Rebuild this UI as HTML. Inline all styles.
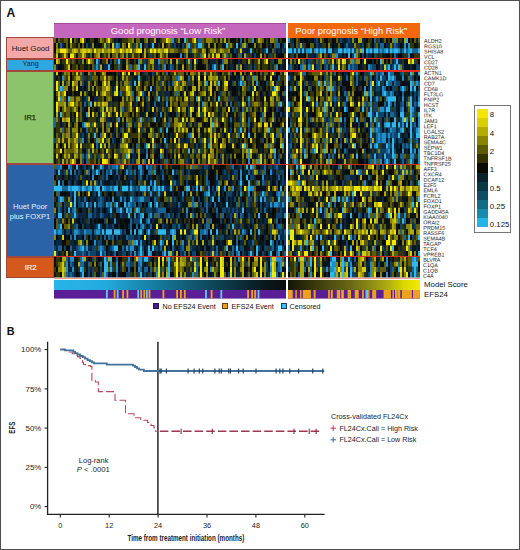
<!DOCTYPE html>
<html><head><meta charset="utf-8"><style>
*{margin:0;padding:0;box-sizing:border-box}
html,body{width:520px;height:550px;overflow:hidden;background:#fff}
body{position:relative;font-family:"Liberation Sans",sans-serif}
svg text{font-family:"Liberation Sans",sans-serif}
.frame{position:absolute;left:0;top:0;width:520px;height:550px;border:1px solid #505050}
.abs{position:absolute}
.gb{position:absolute;left:6.3px;width:48px;border:1px solid #a0483e}
.sep{position:absolute;left:54px;width:366px;background:#e8281c}
</style></head><body>
<div class="frame"></div>
<div class="abs" style="left:54px;top:23px;width:232px;height:14.6px;background:#c466bc;border-top:1px solid #a04c9c"></div>
<div class="abs" style="left:288px;top:23px;width:132px;height:14.6px;background:#f2680e"></div>
<div class="gb" style="top:37.30px;height:21.40px;background:#f3a7a6"></div>
<div class="gb" style="top:58.70px;height:11.90px;background:#2fa8e0"></div>
<div class="gb" style="top:70.60px;height:93.70px;background:#8cc46c"></div>
<div class="gb" style="top:164.30px;height:92.40px;background:#2b63a8"></div>
<div class="gb" style="top:256.70px;height:21.60px;background:#d35a1c"></div>
<svg class="abs" style="left:54px;top:38.3px;filter:blur(0.55px)" width="232" height="239.30" viewBox="0 0 116 239.30" preserveAspectRatio="none">
<rect width="116" height="239.30" fill="#181818"/>
<path fill="#f0e800" d="M8 0.00h1v5.10h-1zM14 0.00h1v5.10h-1zM27 0.00h1v5.10h-1zM56 0.00h1v5.10h-1zM70 0.00h1v5.10h-1zM37 5.10h1v5.10h-1zM3 10.20h3v5.10h-3zM20 10.20h1v5.10h-1zM29 10.20h1v5.10h-1zM33 10.20h1v5.10h-1zM38 10.20h1v5.10h-1zM42 10.20h2v5.10h-2zM48 10.20h1v5.10h-1zM50 10.20h1v5.10h-1zM56 10.20h1v5.10h-1zM8 15.30h2v5.10h-2zM75 15.30h1v5.10h-1zM6 20.40h1v5.95h-1zM17 20.40h1v5.95h-1zM70 20.40h1v5.95h-1zM106 20.40h1v5.95h-1zM34 32.30h1v5.21h-1zM37 32.30h1v5.21h-1zM109 32.30h1v5.21h-1zM72 37.51h1v5.21h-1zM75 37.51h1v5.21h-1zM108 37.51h1v5.21h-1zM1 42.71h1v5.21h-1zM25 42.71h1v5.21h-1zM86 42.71h1v5.21h-1zM1 47.92h1v5.21h-1zM31 47.92h1v5.21h-1zM36 47.92h1v5.21h-1zM100 47.92h1v5.21h-1zM111 47.92h1v5.21h-1zM5 53.12h1v5.21h-1zM31 53.12h1v5.21h-1zM43 53.12h1v5.21h-1zM99 53.12h1v5.21h-1zM109 53.12h2v5.21h-2zM2 58.33h1v5.21h-1zM72 58.33h1v5.21h-1zM1 63.53h1v5.21h-1zM9 63.53h1v5.21h-1zM81 63.53h1v5.21h-1zM94 63.53h1v5.21h-1zM1 68.74h1v5.21h-1zM41 68.74h1v5.21h-1zM62 68.74h1v5.21h-1zM68 68.74h1v5.21h-1zM72 68.74h1v5.21h-1zM75 68.74h1v5.21h-1zM87 68.74h1v5.21h-1zM105 68.74h1v5.21h-1zM11 73.94h1v5.21h-1zM24 73.94h1v5.21h-1zM31 73.94h1v5.21h-1zM77 73.94h1v5.21h-1zM64 79.15h1v5.21h-1zM84 79.15h1v5.21h-1zM100 79.15h1v5.21h-1zM20 84.36h1v5.21h-1zM31 84.36h1v5.21h-1zM105 84.36h1v5.21h-1zM42 89.56h1v5.21h-1zM11 94.77h1v5.21h-1zM25 94.77h1v5.21h-1zM35 94.77h2v5.21h-2zM61 94.77h1v5.21h-1zM87 94.77h1v5.21h-1zM94 94.77h1v5.21h-1zM109 94.77h1v5.21h-1zM24 99.97h1v5.21h-1zM49 99.97h1v5.21h-1zM60 99.97h1v5.21h-1zM75 99.97h1v5.21h-1zM80 99.97h1v5.21h-1zM109 99.97h1v5.21h-1zM11 105.18h1v5.21h-1zM19 105.18h1v5.21h-1zM23 105.18h1v5.21h-1zM36 105.18h1v5.21h-1zM47 105.18h1v5.21h-1zM65 105.18h1v5.21h-1zM83 105.18h1v5.21h-1zM94 105.18h1v5.21h-1zM3 110.38h1v5.21h-1zM53 110.38h1v5.21h-1zM98 110.38h1v5.21h-1zM30 115.59h1v5.21h-1zM37 115.59h1v5.21h-1zM9 120.79h1v5.21h-1zM24 120.79h2v5.21h-2zM16 142.31h1v5.44h-1zM58 142.31h1v5.44h-1zM71 142.31h1v5.44h-1zM82 147.74h1v5.44h-1zM95 147.74h1v5.44h-1zM8 164.05h1v5.44h-1zM108 180.35h1v5.44h-1zM51 185.79h1v5.44h-1zM63 191.22h1v5.44h-1zM65 191.22h1v5.44h-1zM70 191.22h2v5.44h-2zM45 196.66h1v5.44h-1zM87 202.09h1v5.44h-1zM0 212.96h1v5.44h-1zM52 218.40h1v5.23h-1zM54 218.40h1v5.23h-1zM61 218.40h1v5.23h-1zM73 218.40h1v5.23h-1zM83 218.40h1v5.23h-1zM94 218.40h1v5.23h-1zM103 218.40h1v5.23h-1zM52 223.62h1v5.23h-1zM61 223.62h1v5.23h-1zM73 223.62h1v5.23h-1zM76 223.62h1v5.23h-1zM83 223.62h1v5.23h-1zM103 223.62h1v5.23h-1zM109 223.62h1v5.23h-1zM52 228.85h1v5.23h-1zM61 228.85h1v5.23h-1zM70 228.85h1v5.23h-1zM73 228.85h1v5.23h-1zM83 228.85h2v5.23h-2zM88 228.85h1v5.23h-1zM100 228.85h1v5.23h-1zM103 228.85h1v5.23h-1zM109 228.85h1v5.23h-1zM52 234.07h1v5.23h-1zM61 234.07h1v5.23h-1zM73 234.07h1v5.23h-1zM83 234.07h2v5.23h-2zM103 234.07h1v5.23h-1zM109 234.07h2v5.23h-2zM114 234.07h1v5.23h-1z"/>
<path fill="#d4cc08" d="M29 5.10h1v5.10h-1zM10 10.20h1v5.10h-1zM14 10.20h2v5.10h-2zM17 10.20h1v5.10h-1zM24 10.20h1v5.10h-1zM36 10.20h1v5.10h-1zM41 10.20h1v5.10h-1zM52 10.20h1v5.10h-1zM55 10.20h1v5.10h-1zM93 10.20h1v5.10h-1zM1 15.30h1v5.10h-1zM5 15.30h1v5.10h-1zM14 15.30h1v5.10h-1zM79 15.30h1v5.10h-1zM81 15.30h2v5.10h-2zM1 20.40h1v5.95h-1zM7 26.35h1v5.95h-1zM1 32.30h1v5.21h-1zM11 32.30h1v5.21h-1zM40 32.30h1v5.21h-1zM98 32.30h1v5.21h-1zM115 32.30h1v5.21h-1zM25 37.51h1v5.21h-1zM63 37.51h1v5.21h-1zM9 42.71h1v5.21h-1zM42 42.71h1v5.21h-1zM61 42.71h1v5.21h-1zM78 42.71h1v5.21h-1zM85 42.71h1v5.21h-1zM109 42.71h1v5.21h-1zM11 47.92h1v5.21h-1zM26 47.92h1v5.21h-1zM78 47.92h1v5.21h-1zM2 53.12h1v5.21h-1zM21 53.12h1v5.21h-1zM25 53.12h1v5.21h-1zM30 53.12h1v5.21h-1zM37 53.12h1v5.21h-1zM65 53.12h1v5.21h-1zM69 53.12h1v5.21h-1zM78 53.12h1v5.21h-1zM42 58.33h1v5.21h-1zM66 58.33h1v5.21h-1zM105 58.33h1v5.21h-1zM8 63.53h1v5.21h-1zM20 63.53h1v5.21h-1zM24 63.53h1v5.21h-1zM38 63.53h1v5.21h-1zM26 68.74h1v5.21h-1zM49 68.74h1v5.21h-1zM58 68.74h1v5.21h-1zM17 73.94h1v5.21h-1zM19 73.94h1v5.21h-1zM27 73.94h1v5.21h-1zM72 73.94h1v5.21h-1zM75 73.94h1v5.21h-1zM7 79.15h1v5.21h-1zM94 79.15h1v5.21h-1zM16 84.36h1v5.21h-1zM63 84.36h1v5.21h-1zM102 84.36h1v5.21h-1zM106 84.36h1v5.21h-1zM64 89.56h1v5.21h-1zM77 89.56h1v5.21h-1zM85 89.56h1v5.21h-1zM69 94.77h1v5.21h-1zM80 94.77h1v5.21h-1zM98 99.97h1v5.21h-1zM5 105.18h1v5.21h-1zM13 105.18h1v5.21h-1zM62 105.18h1v5.21h-1zM89 105.18h1v5.21h-1zM113 105.18h1v5.21h-1zM26 110.38h1v5.21h-1zM37 110.38h1v5.21h-1zM108 110.38h1v5.21h-1zM1 115.59h1v5.21h-1zM62 115.59h1v5.21h-1zM77 115.59h1v5.21h-1zM103 115.59h1v5.21h-1zM26 120.79h1v5.21h-1zM47 120.79h1v5.21h-1zM49 120.79h1v5.21h-1zM77 120.79h1v5.21h-1zM103 120.79h1v5.21h-1zM34 126.00h1v5.44h-1zM107 147.74h1v5.44h-1zM17 153.18h1v5.44h-1zM55 153.18h1v5.44h-1zM9 180.35h1v5.44h-1zM109 191.22h2v5.44h-2zM4 196.66h1v5.44h-1zM50 202.09h1v5.44h-1zM56 202.09h1v5.44h-1zM79 202.09h1v5.44h-1zM88 202.09h1v5.44h-1zM79 212.96h1v5.44h-1zM41 218.40h1v5.23h-1zM68 218.40h1v5.23h-1zM84 218.40h1v5.23h-1zM88 218.40h1v5.23h-1zM109 218.40h2v5.23h-2zM4 223.62h1v5.23h-1zM70 223.62h1v5.23h-1zM84 223.62h1v5.23h-1zM88 223.62h1v5.23h-1zM4 228.85h1v5.23h-1zM4 234.07h1v5.23h-1zM88 234.07h1v5.23h-1zM101 234.07h1v5.23h-1z"/>
<path fill="#b0aa0c" d="M13 0.00h1v5.10h-1zM50 0.00h1v5.10h-1zM57 0.00h1v5.10h-1zM85 0.00h1v5.10h-1zM102 0.00h1v5.10h-1zM25 5.10h1v5.10h-1zM54 5.10h1v5.10h-1zM95 5.10h1v5.10h-1zM1 10.20h1v5.10h-1zM6 10.20h1v5.10h-1zM9 10.20h1v5.10h-1zM11 10.20h1v5.10h-1zM13 10.20h1v5.10h-1zM16 10.20h1v5.10h-1zM18 10.20h1v5.10h-1zM22 10.20h1v5.10h-1zM27 10.20h1v5.10h-1zM30 10.20h1v5.10h-1zM34 10.20h1v5.10h-1zM37 10.20h1v5.10h-1zM45 10.20h1v5.10h-1zM49 10.20h1v5.10h-1zM53 10.20h1v5.10h-1zM66 10.20h1v5.10h-1zM70 10.20h1v5.10h-1zM74 10.20h1v5.10h-1zM80 10.20h1v5.10h-1zM83 10.20h1v5.10h-1zM22 15.30h1v5.10h-1zM45 15.30h1v5.10h-1zM53 15.30h1v5.10h-1zM85 15.30h1v5.10h-1zM95 15.30h1v5.10h-1zM103 15.30h1v5.10h-1zM48 20.40h2v5.95h-2zM58 20.40h1v5.95h-1zM61 20.40h1v5.95h-1zM67 20.40h1v5.95h-1zM97 20.40h1v5.95h-1zM102 20.40h1v5.95h-1zM23 26.35h1v5.95h-1zM36 26.35h1v5.95h-1zM64 26.35h1v5.95h-1zM93 26.35h1v5.95h-1zM24 32.30h1v5.21h-1zM60 32.30h1v5.21h-1zM72 32.30h1v5.21h-1zM75 32.30h1v5.21h-1zM78 32.30h1v5.21h-1zM93 32.30h1v5.21h-1zM7 37.51h1v5.21h-1zM11 37.51h2v5.21h-2zM34 37.51h1v5.21h-1zM69 37.51h1v5.21h-1zM78 37.51h1v5.21h-1zM81 37.51h1v5.21h-1zM94 37.51h1v5.21h-1zM4 42.71h1v5.21h-1zM27 42.71h1v5.21h-1zM64 42.71h1v5.21h-1zM72 42.71h1v5.21h-1zM75 42.71h1v5.21h-1zM80 42.71h1v5.21h-1zM27 47.92h1v5.21h-1zM37 47.92h1v5.21h-1zM60 47.92h1v5.21h-1zM63 47.92h1v5.21h-1zM69 47.92h2v5.21h-2zM72 47.92h1v5.21h-1zM85 47.92h1v5.21h-1zM13 53.12h1v5.21h-1zM24 53.12h1v5.21h-1zM36 53.12h1v5.21h-1zM47 53.12h1v5.21h-1zM68 53.12h1v5.21h-1zM75 53.12h1v5.21h-1zM17 58.33h1v5.21h-1zM65 58.33h1v5.21h-1zM108 58.33h1v5.21h-1zM5 63.53h1v5.21h-1zM22 63.53h1v5.21h-1zM25 63.53h2v5.21h-2zM44 63.53h1v5.21h-1zM5 68.74h1v5.21h-1zM10 68.74h1v5.21h-1zM17 68.74h1v5.21h-1zM24 68.74h1v5.21h-1zM30 68.74h1v5.21h-1zM38 68.74h1v5.21h-1zM69 68.74h1v5.21h-1zM1 73.94h1v5.21h-1zM33 73.94h1v5.21h-1zM46 73.94h1v5.21h-1zM68 73.94h1v5.21h-1zM79 73.94h1v5.21h-1zM94 73.94h1v5.21h-1zM105 73.94h1v5.21h-1zM4 79.15h1v5.21h-1zM6 79.15h1v5.21h-1zM11 79.15h1v5.21h-1zM23 79.15h2v5.21h-2zM55 79.15h1v5.21h-1zM66 79.15h1v5.21h-1zM69 79.15h1v5.21h-1zM75 79.15h1v5.21h-1zM78 79.15h1v5.21h-1zM109 79.15h1v5.21h-1zM7 84.36h1v5.21h-1zM17 84.36h1v5.21h-1zM28 84.36h1v5.21h-1zM42 84.36h1v5.21h-1zM62 84.36h1v5.21h-1zM78 84.36h1v5.21h-1zM81 84.36h1v5.21h-1zM103 84.36h1v5.21h-1zM108 84.36h1v5.21h-1zM114 84.36h1v5.21h-1zM37 89.56h1v5.21h-1zM48 89.56h1v5.21h-1zM62 89.56h1v5.21h-1zM66 89.56h1v5.21h-1zM72 89.56h1v5.21h-1zM78 89.56h1v5.21h-1zM106 89.56h1v5.21h-1zM78 94.77h1v5.21h-1zM105 94.77h1v5.21h-1zM2 99.97h1v5.21h-1zM4 99.97h1v5.21h-1zM7 99.97h1v5.21h-1zM10 99.97h1v5.21h-1zM34 99.97h1v5.21h-1zM70 99.97h1v5.21h-1zM78 99.97h1v5.21h-1zM1 105.18h1v5.21h-1zM7 105.18h1v5.21h-1zM25 105.18h1v5.21h-1zM35 105.18h1v5.21h-1zM49 105.18h1v5.21h-1zM66 105.18h1v5.21h-1zM75 105.18h1v5.21h-1zM78 105.18h1v5.21h-1zM11 110.38h1v5.21h-1zM19 110.38h1v5.21h-1zM42 110.38h1v5.21h-1zM72 110.38h1v5.21h-1zM78 110.38h1v5.21h-1zM96 110.38h1v5.21h-1zM109 110.38h1v5.21h-1zM5 115.59h1v5.21h-1zM7 115.59h1v5.21h-1zM10 115.59h1v5.21h-1zM17 115.59h1v5.21h-1zM24 115.59h1v5.21h-1zM31 115.59h1v5.21h-1zM42 115.59h1v5.21h-1zM75 115.59h1v5.21h-1zM98 115.59h1v5.21h-1zM4 120.79h1v5.21h-1zM35 120.79h1v5.21h-1zM42 120.79h1v5.21h-1zM80 120.79h1v5.21h-1zM109 120.79h1v5.21h-1zM100 131.44h1v5.44h-1zM71 136.87h1v5.44h-1zM20 142.31h1v5.44h-1zM86 142.31h1v5.44h-1zM110 147.74h1v5.44h-1zM68 153.18h1v5.44h-1zM82 153.18h1v5.44h-1zM68 174.92h1v5.44h-1zM90 174.92h1v5.44h-1zM107 180.35h1v5.44h-1zM71 185.79h1v5.44h-1zM79 185.79h1v5.44h-1zM90 191.22h1v5.44h-1zM60 196.66h1v5.44h-1zM13 202.09h1v5.44h-1zM71 202.09h1v5.44h-1zM74 202.09h1v5.44h-1zM55 207.53h1v5.44h-1zM6 212.96h1v5.44h-1zM58 212.96h1v5.44h-1zM61 212.96h1v5.44h-1zM4 218.40h2v5.23h-2zM15 218.40h1v5.23h-1zM27 218.40h1v5.23h-1zM63 218.40h1v5.23h-1zM100 218.40h2v5.23h-2zM12 223.62h1v5.23h-1zM54 223.62h1v5.23h-1zM60 223.62h1v5.23h-1zM63 223.62h2v5.23h-2zM94 223.62h1v5.23h-1zM110 223.62h1v5.23h-1zM114 223.62h1v5.23h-1zM5 228.85h1v5.23h-1zM76 228.85h1v5.23h-1zM79 228.85h1v5.23h-1zM94 228.85h1v5.23h-1zM110 228.85h1v5.23h-1zM56 234.07h1v5.23h-1zM63 234.07h1v5.23h-1zM94 234.07h1v5.23h-1z"/>
<path fill="#8a860c" d="M23 0.00h1v5.10h-1zM26 0.00h1v5.10h-1zM39 0.00h1v5.10h-1zM46 0.00h1v5.10h-1zM58 0.00h1v5.10h-1zM62 0.00h1v5.10h-1zM69 0.00h1v5.10h-1zM76 0.00h3v5.10h-3zM83 0.00h1v5.10h-1zM103 0.00h1v5.10h-1zM108 0.00h2v5.10h-2zM1 5.10h1v5.10h-1zM8 5.10h1v5.10h-1zM19 5.10h1v5.10h-1zM34 5.10h1v5.10h-1zM41 5.10h1v5.10h-1zM66 5.10h1v5.10h-1zM77 5.10h1v5.10h-1zM80 5.10h1v5.10h-1zM88 5.10h1v5.10h-1zM94 5.10h1v5.10h-1zM100 5.10h1v5.10h-1zM2 10.20h1v5.10h-1zM21 10.20h1v5.10h-1zM23 10.20h1v5.10h-1zM25 10.20h2v5.10h-2zM28 10.20h1v5.10h-1zM31 10.20h2v5.10h-2zM35 10.20h1v5.10h-1zM40 10.20h1v5.10h-1zM51 10.20h1v5.10h-1zM54 10.20h1v5.10h-1zM58 10.20h2v5.10h-2zM65 10.20h1v5.10h-1zM69 10.20h1v5.10h-1zM75 10.20h1v5.10h-1zM78 10.20h2v5.10h-2zM84 10.20h1v5.10h-1zM87 10.20h1v5.10h-1zM15 15.30h1v5.10h-1zM21 15.30h1v5.10h-1zM27 15.30h1v5.10h-1zM31 15.30h1v5.10h-1zM34 15.30h1v5.10h-1zM36 15.30h1v5.10h-1zM39 15.30h1v5.10h-1zM56 15.30h1v5.10h-1zM66 15.30h1v5.10h-1zM74 15.30h1v5.10h-1zM77 15.30h1v5.10h-1zM2 20.40h1v5.95h-1zM14 20.40h1v5.95h-1zM18 20.40h1v5.95h-1zM26 20.40h1v5.95h-1zM36 20.40h1v5.95h-1zM43 20.40h1v5.95h-1zM85 20.40h2v5.95h-2zM105 20.40h1v5.95h-1zM112 20.40h2v5.95h-2zM0 26.35h1v5.95h-1zM41 26.35h1v5.95h-1zM49 26.35h1v5.95h-1zM70 26.35h1v5.95h-1zM91 26.35h1v5.95h-1zM5 32.30h1v5.21h-1zM7 32.30h1v5.21h-1zM13 32.30h1v5.21h-1zM17 32.30h1v5.21h-1zM20 32.30h1v5.21h-1zM25 32.30h1v5.21h-1zM35 32.30h1v5.21h-1zM42 32.30h1v5.21h-1zM51 32.30h1v5.21h-1zM68 32.30h2v5.21h-2zM87 32.30h1v5.21h-1zM90 32.30h1v5.21h-1zM27 37.51h1v5.21h-1zM36 37.51h1v5.21h-1zM52 37.51h1v5.21h-1zM64 37.51h1v5.21h-1zM77 37.51h1v5.21h-1zM79 37.51h2v5.21h-2zM85 37.51h1v5.21h-1zM99 37.51h1v5.21h-1zM101 37.51h1v5.21h-1zM105 37.51h1v5.21h-1zM7 42.71h1v5.21h-1zM10 42.71h2v5.21h-2zM13 42.71h1v5.21h-1zM17 42.71h1v5.21h-1zM20 42.71h1v5.21h-1zM24 42.71h1v5.21h-1zM31 42.71h1v5.21h-1zM35 42.71h2v5.21h-2zM54 42.71h1v5.21h-1zM60 42.71h1v5.21h-1zM65 42.71h1v5.21h-1zM95 42.71h1v5.21h-1zM99 42.71h1v5.21h-1zM108 42.71h1v5.21h-1zM5 47.92h2v5.21h-2zM9 47.92h1v5.21h-1zM17 47.92h1v5.21h-1zM19 47.92h1v5.21h-1zM24 47.92h2v5.21h-2zM41 47.92h1v5.21h-1zM45 47.92h1v5.21h-1zM61 47.92h1v5.21h-1zM77 47.92h1v5.21h-1zM81 47.92h1v5.21h-1zM86 47.92h1v5.21h-1zM94 47.92h1v5.21h-1zM112 47.92h1v5.21h-1zM4 53.12h1v5.21h-1zM15 53.12h1v5.21h-1zM38 53.12h1v5.21h-1zM42 53.12h1v5.21h-1zM51 53.12h1v5.21h-1zM74 53.12h1v5.21h-1zM101 53.12h1v5.21h-1zM111 53.12h1v5.21h-1zM4 58.33h1v5.21h-1zM8 58.33h2v5.21h-2zM11 58.33h2v5.21h-2zM27 58.33h1v5.21h-1zM34 58.33h1v5.21h-1zM36 58.33h1v5.21h-1zM38 58.33h1v5.21h-1zM47 58.33h1v5.21h-1zM58 58.33h1v5.21h-1zM61 58.33h1v5.21h-1zM77 58.33h1v5.21h-1zM94 58.33h1v5.21h-1zM99 58.33h1v5.21h-1zM109 58.33h1v5.21h-1zM111 58.33h1v5.21h-1zM2 63.53h3v5.21h-3zM7 63.53h1v5.21h-1zM11 63.53h1v5.21h-1zM33 63.53h2v5.21h-2zM58 63.53h1v5.21h-1zM72 63.53h1v5.21h-1zM75 63.53h1v5.21h-1zM78 63.53h1v5.21h-1zM86 63.53h1v5.21h-1zM95 63.53h1v5.21h-1zM100 63.53h2v5.21h-2zM105 63.53h1v5.21h-1zM108 63.53h2v5.21h-2zM112 63.53h1v5.21h-1zM28 68.74h1v5.21h-1zM33 68.74h1v5.21h-1zM64 68.74h2v5.21h-2zM74 68.74h1v5.21h-1zM96 68.74h1v5.21h-1zM25 73.94h1v5.21h-1zM86 73.94h1v5.21h-1zM100 73.94h1v5.21h-1zM109 73.94h1v5.21h-1zM1 79.15h1v5.21h-1zM5 79.15h1v5.21h-1zM34 79.15h1v5.21h-1zM36 79.15h1v5.21h-1zM60 79.15h2v5.21h-2zM68 79.15h1v5.21h-1zM76 79.15h1v5.21h-1zM81 79.15h1v5.21h-1zM103 79.15h1v5.21h-1zM11 84.36h1v5.21h-1zM24 84.36h1v5.21h-1zM37 84.36h2v5.21h-2zM43 84.36h1v5.21h-1zM60 84.36h2v5.21h-2zM72 84.36h2v5.21h-2zM80 84.36h1v5.21h-1zM94 84.36h1v5.21h-1zM3 89.56h1v5.21h-1zM7 89.56h1v5.21h-1zM9 89.56h3v5.21h-3zM21 89.56h1v5.21h-1zM24 89.56h1v5.21h-1zM27 89.56h1v5.21h-1zM60 89.56h1v5.21h-1zM69 89.56h1v5.21h-1zM75 89.56h1v5.21h-1zM90 89.56h1v5.21h-1zM95 89.56h1v5.21h-1zM105 89.56h1v5.21h-1zM4 94.77h1v5.21h-1zM6 94.77h2v5.21h-2zM17 94.77h1v5.21h-1zM24 94.77h1v5.21h-1zM42 94.77h1v5.21h-1zM47 94.77h2v5.21h-2zM51 94.77h1v5.21h-1zM72 94.77h1v5.21h-1zM82 94.77h1v5.21h-1zM91 94.77h1v5.21h-1zM100 94.77h1v5.21h-1zM108 94.77h1v5.21h-1zM113 94.77h1v5.21h-1zM11 99.97h1v5.21h-1zM22 99.97h1v5.21h-1zM27 99.97h1v5.21h-1zM42 99.97h1v5.21h-1zM62 99.97h1v5.21h-1zM84 99.97h1v5.21h-1zM87 99.97h1v5.21h-1zM113 99.97h1v5.21h-1zM10 105.18h1v5.21h-1zM27 105.18h1v5.21h-1zM33 105.18h2v5.21h-2zM84 105.18h2v5.21h-2zM105 105.18h2v5.21h-2zM108 105.18h1v5.21h-1zM5 110.38h1v5.21h-1zM10 110.38h1v5.21h-1zM17 110.38h1v5.21h-1zM35 110.38h2v5.21h-2zM38 110.38h1v5.21h-1zM54 110.38h1v5.21h-1zM69 110.38h1v5.21h-1zM75 110.38h1v5.21h-1zM79 110.38h1v5.21h-1zM94 110.38h1v5.21h-1zM11 115.59h1v5.21h-1zM13 115.59h1v5.21h-1zM27 115.59h1v5.21h-1zM49 115.59h1v5.21h-1zM60 115.59h1v5.21h-1zM74 115.59h1v5.21h-1zM78 115.59h2v5.21h-2zM84 115.59h1v5.21h-1zM90 115.59h1v5.21h-1zM94 115.59h1v5.21h-1zM96 115.59h1v5.21h-1zM108 115.59h1v5.21h-1zM6 120.79h1v5.21h-1zM8 120.79h1v5.21h-1zM10 120.79h1v5.21h-1zM13 120.79h1v5.21h-1zM41 120.79h1v5.21h-1zM44 120.79h1v5.21h-1zM63 120.79h2v5.21h-2zM69 120.79h1v5.21h-1zM72 120.79h1v5.21h-1zM84 120.79h1v5.21h-1zM99 120.79h1v5.21h-1zM101 120.79h1v5.21h-1zM105 120.79h1v5.21h-1zM33 126.00h1v5.44h-1zM68 126.00h1v5.44h-1zM6 131.44h1v5.44h-1zM16 131.44h1v5.44h-1zM101 131.44h1v5.44h-1zM89 136.87h1v5.44h-1zM18 142.31h1v5.44h-1zM45 142.31h1v5.44h-1zM102 142.31h1v5.44h-1zM87 147.74h1v5.44h-1zM12 153.18h1v5.44h-1zM45 153.18h1v5.44h-1zM100 153.18h1v5.44h-1zM114 153.18h1v5.44h-1zM7 158.61h1v5.44h-1zM58 158.61h1v5.44h-1zM100 158.61h1v5.44h-1zM67 164.05h2v5.44h-2zM71 164.05h1v5.44h-1zM0 169.48h1v5.44h-1zM106 174.92h1v5.44h-1zM4 180.35h1v5.44h-1zM53 180.35h1v5.44h-1zM56 180.35h1v5.44h-1zM74 180.35h1v5.44h-1zM93 180.35h1v5.44h-1zM7 185.79h1v5.44h-1zM69 185.79h1v5.44h-1zM101 185.79h1v5.44h-1zM92 191.22h1v5.44h-1zM111 191.22h1v5.44h-1zM0 196.66h1v5.44h-1zM71 196.66h1v5.44h-1zM79 196.66h1v5.44h-1zM96 196.66h1v5.44h-1zM110 196.66h1v5.44h-1zM12 202.09h1v5.44h-1zM16 202.09h1v5.44h-1zM39 202.09h1v5.44h-1zM67 202.09h1v5.44h-1zM66 207.53h2v5.44h-2zM56 218.40h1v5.23h-1zM64 218.40h2v5.23h-2zM76 218.40h1v5.23h-1zM97 218.40h1v5.23h-1zM3 223.62h1v5.23h-1zM20 223.62h1v5.23h-1zM34 223.62h1v5.23h-1zM65 223.62h1v5.23h-1zM81 223.62h1v5.23h-1zM97 223.62h1v5.23h-1zM100 223.62h2v5.23h-2zM105 223.62h1v5.23h-1zM2 228.85h2v5.23h-2zM50 228.85h1v5.23h-1zM56 228.85h1v5.23h-1zM63 228.85h1v5.23h-1zM75 228.85h1v5.23h-1zM90 228.85h1v5.23h-1zM93 228.85h1v5.23h-1zM99 228.85h1v5.23h-1zM105 228.85h1v5.23h-1zM5 234.07h1v5.23h-1zM54 234.07h1v5.23h-1zM65 234.07h1v5.23h-1zM76 234.07h1v5.23h-1zM80 234.07h1v5.23h-1zM90 234.07h1v5.23h-1zM100 234.07h1v5.23h-1zM105 234.07h1v5.23h-1z"/>
<path fill="#5e5c08" d="M0 0.00h1v5.10h-1zM2 0.00h1v5.10h-1zM5 0.00h2v5.10h-2zM10 0.00h1v5.10h-1zM24 0.00h1v5.10h-1zM28 0.00h1v5.10h-1zM37 0.00h2v5.10h-2zM41 0.00h2v5.10h-2zM45 0.00h1v5.10h-1zM54 0.00h2v5.10h-2zM66 0.00h1v5.10h-1zM74 0.00h1v5.10h-1zM79 0.00h1v5.10h-1zM81 0.00h1v5.10h-1zM87 0.00h1v5.10h-1zM95 0.00h1v5.10h-1zM97 0.00h2v5.10h-2zM104 0.00h1v5.10h-1zM110 0.00h1v5.10h-1zM6 5.10h1v5.10h-1zM12 5.10h1v5.10h-1zM14 5.10h1v5.10h-1zM27 5.10h1v5.10h-1zM35 5.10h1v5.10h-1zM38 5.10h1v5.10h-1zM57 5.10h1v5.10h-1zM70 5.10h1v5.10h-1zM74 5.10h1v5.10h-1zM87 5.10h1v5.10h-1zM103 5.10h1v5.10h-1zM110 5.10h1v5.10h-1zM7 10.20h2v5.10h-2zM12 10.20h1v5.10h-1zM19 10.20h1v5.10h-1zM39 10.20h1v5.10h-1zM47 10.20h1v5.10h-1zM57 10.20h1v5.10h-1zM60 10.20h2v5.10h-2zM64 10.20h1v5.10h-1zM71 10.20h1v5.10h-1zM82 10.20h1v5.10h-1zM85 10.20h2v5.10h-2zM109 10.20h1v5.10h-1zM4 15.30h1v5.10h-1zM6 15.30h1v5.10h-1zM10 15.30h1v5.10h-1zM12 15.30h2v5.10h-2zM18 15.30h1v5.10h-1zM20 15.30h1v5.10h-1zM25 15.30h1v5.10h-1zM29 15.30h2v5.10h-2zM33 15.30h1v5.10h-1zM42 15.30h1v5.10h-1zM50 15.30h1v5.10h-1zM54 15.30h1v5.10h-1zM70 15.30h1v5.10h-1zM84 15.30h1v5.10h-1zM88 15.30h1v5.10h-1zM92 15.30h1v5.10h-1zM105 15.30h1v5.10h-1zM110 15.30h1v5.10h-1zM115 15.30h1v5.10h-1zM7 20.40h1v5.95h-1zM9 20.40h1v5.95h-1zM16 20.40h1v5.95h-1zM19 20.40h1v5.95h-1zM30 20.40h1v5.95h-1zM47 20.40h1v5.95h-1zM53 20.40h2v5.95h-2zM56 20.40h1v5.95h-1zM75 20.40h2v5.95h-2zM6 26.35h1v5.95h-1zM11 26.35h1v5.95h-1zM19 26.35h1v5.95h-1zM37 26.35h1v5.95h-1zM40 26.35h1v5.95h-1zM47 26.35h1v5.95h-1zM54 26.35h1v5.95h-1zM61 26.35h1v5.95h-1zM67 26.35h1v5.95h-1zM76 26.35h1v5.95h-1zM83 26.35h1v5.95h-1zM102 26.35h1v5.95h-1zM110 26.35h1v5.95h-1zM6 32.30h1v5.21h-1zM9 32.30h1v5.21h-1zM41 32.30h1v5.21h-1zM54 32.30h1v5.21h-1zM62 32.30h3v5.21h-3zM66 32.30h1v5.21h-1zM70 32.30h1v5.21h-1zM80 32.30h1v5.21h-1zM84 32.30h1v5.21h-1zM95 32.30h1v5.21h-1zM103 32.30h1v5.21h-1zM105 32.30h2v5.21h-2zM108 32.30h1v5.21h-1zM113 32.30h1v5.21h-1zM5 37.51h1v5.21h-1zM10 37.51h1v5.21h-1zM13 37.51h1v5.21h-1zM19 37.51h3v5.21h-3zM23 37.51h2v5.21h-2zM28 37.51h1v5.21h-1zM31 37.51h1v5.21h-1zM49 37.51h1v5.21h-1zM55 37.51h1v5.21h-1zM59 37.51h2v5.21h-2zM87 37.51h1v5.21h-1zM115 37.51h1v5.21h-1zM2 42.71h1v5.21h-1zM6 42.71h1v5.21h-1zM26 42.71h1v5.21h-1zM33 42.71h1v5.21h-1zM37 42.71h1v5.21h-1zM46 42.71h1v5.21h-1zM49 42.71h1v5.21h-1zM51 42.71h1v5.21h-1zM62 42.71h1v5.21h-1zM69 42.71h1v5.21h-1zM73 42.71h1v5.21h-1zM81 42.71h1v5.21h-1zM90 42.71h1v5.21h-1zM115 42.71h1v5.21h-1zM2 47.92h1v5.21h-1zM21 47.92h1v5.21h-1zM33 47.92h3v5.21h-3zM38 47.92h1v5.21h-1zM42 47.92h1v5.21h-1zM51 47.92h2v5.21h-2zM55 47.92h1v5.21h-1zM57 47.92h1v5.21h-1zM62 47.92h1v5.21h-1zM64 47.92h1v5.21h-1zM75 47.92h1v5.21h-1zM95 47.92h1v5.21h-1zM108 47.92h1v5.21h-1zM1 53.12h1v5.21h-1zM3 53.12h1v5.21h-1zM23 53.12h1v5.21h-1zM26 53.12h2v5.21h-2zM60 53.12h1v5.21h-1zM62 53.12h1v5.21h-1zM73 53.12h1v5.21h-1zM80 53.12h1v5.21h-1zM84 53.12h2v5.21h-2zM87 53.12h1v5.21h-1zM94 53.12h2v5.21h-2zM114 53.12h1v5.21h-1zM5 58.33h1v5.21h-1zM24 58.33h1v5.21h-1zM26 58.33h1v5.21h-1zM28 58.33h1v5.21h-1zM39 58.33h1v5.21h-1zM44 58.33h1v5.21h-1zM51 58.33h1v5.21h-1zM54 58.33h1v5.21h-1zM59 58.33h1v5.21h-1zM63 58.33h1v5.21h-1zM68 58.33h2v5.21h-2zM80 58.33h1v5.21h-1zM85 58.33h2v5.21h-2zM112 58.33h1v5.21h-1zM10 63.53h1v5.21h-1zM13 63.53h1v5.21h-1zM17 63.53h1v5.21h-1zM21 63.53h1v5.21h-1zM23 63.53h1v5.21h-1zM37 63.53h1v5.21h-1zM60 63.53h2v5.21h-2zM63 63.53h4v5.21h-4zM76 63.53h1v5.21h-1zM83 63.53h1v5.21h-1zM99 63.53h1v5.21h-1zM102 63.53h1v5.21h-1zM106 63.53h1v5.21h-1zM2 68.74h1v5.21h-1zM4 68.74h1v5.21h-1zM6 68.74h2v5.21h-2zM9 68.74h1v5.21h-1zM11 68.74h1v5.21h-1zM13 68.74h1v5.21h-1zM23 68.74h1v5.21h-1zM27 68.74h1v5.21h-1zM37 68.74h1v5.21h-1zM42 68.74h1v5.21h-1zM51 68.74h1v5.21h-1zM54 68.74h1v5.21h-1zM57 68.74h1v5.21h-1zM61 68.74h1v5.21h-1zM76 68.74h1v5.21h-1zM81 68.74h1v5.21h-1zM84 68.74h2v5.21h-2zM91 68.74h1v5.21h-1zM98 68.74h1v5.21h-1zM100 68.74h1v5.21h-1zM103 68.74h1v5.21h-1zM4 73.94h1v5.21h-1zM6 73.94h2v5.21h-2zM13 73.94h1v5.21h-1zM21 73.94h1v5.21h-1zM28 73.94h1v5.21h-1zM35 73.94h2v5.21h-2zM39 73.94h1v5.21h-1zM41 73.94h1v5.21h-1zM55 73.94h1v5.21h-1zM62 73.94h1v5.21h-1zM65 73.94h1v5.21h-1zM71 73.94h1v5.21h-1zM78 73.94h1v5.21h-1zM84 73.94h1v5.21h-1zM90 73.94h1v5.21h-1zM95 73.94h1v5.21h-1zM99 73.94h1v5.21h-1zM13 79.15h1v5.21h-1zM25 79.15h1v5.21h-1zM31 79.15h1v5.21h-1zM37 79.15h2v5.21h-2zM42 79.15h1v5.21h-1zM44 79.15h1v5.21h-1zM49 79.15h1v5.21h-1zM58 79.15h1v5.21h-1zM80 79.15h1v5.21h-1zM85 79.15h1v5.21h-1zM95 79.15h1v5.21h-1zM105 79.15h1v5.21h-1zM108 79.15h1v5.21h-1zM10 84.36h1v5.21h-1zM19 84.36h1v5.21h-1zM26 84.36h1v5.21h-1zM47 84.36h1v5.21h-1zM55 84.36h1v5.21h-1zM64 84.36h2v5.21h-2zM68 84.36h1v5.21h-1zM85 84.36h1v5.21h-1zM90 84.36h3v5.21h-3zM95 84.36h1v5.21h-1zM100 84.36h1v5.21h-1zM6 89.56h1v5.21h-1zM13 89.56h1v5.21h-1zM18 89.56h1v5.21h-1zM26 89.56h1v5.21h-1zM31 89.56h1v5.21h-1zM34 89.56h1v5.21h-1zM45 89.56h1v5.21h-1zM49 89.56h1v5.21h-1zM63 89.56h1v5.21h-1zM65 89.56h1v5.21h-1zM80 89.56h1v5.21h-1zM83 89.56h1v5.21h-1zM99 89.56h2v5.21h-2zM102 89.56h1v5.21h-1zM111 89.56h2v5.21h-2zM1 94.77h1v5.21h-1zM5 94.77h1v5.21h-1zM9 94.77h2v5.21h-2zM28 94.77h1v5.21h-1zM31 94.77h1v5.21h-1zM34 94.77h1v5.21h-1zM49 94.77h1v5.21h-1zM54 94.77h1v5.21h-1zM112 94.77h1v5.21h-1zM1 99.97h1v5.21h-1zM8 99.97h2v5.21h-2zM13 99.97h1v5.21h-1zM17 99.97h1v5.21h-1zM23 99.97h1v5.21h-1zM26 99.97h1v5.21h-1zM35 99.97h1v5.21h-1zM37 99.97h1v5.21h-1zM53 99.97h1v5.21h-1zM58 99.97h1v5.21h-1zM68 99.97h1v5.21h-1zM74 99.97h1v5.21h-1zM81 99.97h1v5.21h-1zM85 99.97h1v5.21h-1zM95 99.97h1v5.21h-1zM106 99.97h1v5.21h-1zM114 99.97h1v5.21h-1zM9 105.18h1v5.21h-1zM18 105.18h1v5.21h-1zM42 105.18h1v5.21h-1zM61 105.18h1v5.21h-1zM80 105.18h2v5.21h-2zM96 105.18h1v5.21h-1zM100 105.18h1v5.21h-1zM109 105.18h1v5.21h-1zM1 110.38h2v5.21h-2zM6 110.38h4v5.21h-4zM13 110.38h1v5.21h-1zM21 110.38h1v5.21h-1zM24 110.38h1v5.21h-1zM27 110.38h1v5.21h-1zM30 110.38h1v5.21h-1zM33 110.38h2v5.21h-2zM41 110.38h1v5.21h-1zM49 110.38h1v5.21h-1zM58 110.38h1v5.21h-1zM60 110.38h1v5.21h-1zM62 110.38h1v5.21h-1zM64 110.38h1v5.21h-1zM81 110.38h1v5.21h-1zM95 110.38h1v5.21h-1zM99 110.38h3v5.21h-3zM114 110.38h1v5.21h-1zM6 115.59h1v5.21h-1zM20 115.59h1v5.21h-1zM23 115.59h1v5.21h-1zM34 115.59h2v5.21h-2zM48 115.59h1v5.21h-1zM54 115.59h1v5.21h-1zM68 115.59h2v5.21h-2zM71 115.59h2v5.21h-2zM81 115.59h1v5.21h-1zM88 115.59h1v5.21h-1zM102 115.59h1v5.21h-1zM105 115.59h1v5.21h-1zM107 115.59h1v5.21h-1zM113 115.59h1v5.21h-1zM2 120.79h1v5.21h-1zM17 120.79h1v5.21h-1zM20 120.79h1v5.21h-1zM22 120.79h1v5.21h-1zM27 120.79h1v5.21h-1zM31 120.79h2v5.21h-2zM34 120.79h1v5.21h-1zM37 120.79h1v5.21h-1zM55 120.79h1v5.21h-1zM60 120.79h1v5.21h-1zM62 120.79h1v5.21h-1zM74 120.79h2v5.21h-2zM78 120.79h2v5.21h-2zM81 120.79h1v5.21h-1zM94 120.79h1v5.21h-1zM100 120.79h1v5.21h-1zM0 126.00h1v5.44h-1zM50 126.00h1v5.44h-1zM56 126.00h1v5.44h-1zM66 126.00h1v5.44h-1zM70 126.00h2v5.44h-2zM79 126.00h1v5.44h-1zM100 126.00h1v5.44h-1zM49 131.44h1v5.44h-1zM63 131.44h1v5.44h-1zM76 131.44h1v5.44h-1zM81 131.44h1v5.44h-1zM104 131.44h1v5.44h-1zM13 136.87h1v5.44h-1zM35 136.87h1v5.44h-1zM63 136.87h1v5.44h-1zM67 136.87h1v5.44h-1zM0 142.31h1v5.44h-1zM42 142.31h1v5.44h-1zM63 142.31h1v5.44h-1zM83 142.31h1v5.44h-1zM85 142.31h1v5.44h-1zM107 142.31h1v5.44h-1zM61 147.74h1v5.44h-1zM65 147.74h1v5.44h-1zM74 147.74h1v5.44h-1zM88 147.74h1v5.44h-1zM96 147.74h1v5.44h-1zM100 147.74h1v5.44h-1zM109 147.74h1v5.44h-1zM111 147.74h1v5.44h-1zM115 147.74h1v5.44h-1zM1 153.18h1v5.44h-1zM71 153.18h1v5.44h-1zM106 153.18h1v5.44h-1zM55 158.61h2v5.44h-2zM76 158.61h1v5.44h-1zM92 158.61h1v5.44h-1zM96 158.61h1v5.44h-1zM109 158.61h1v5.44h-1zM3 164.05h1v5.44h-1zM92 164.05h1v5.44h-1zM96 164.05h1v5.44h-1zM100 164.05h1v5.44h-1zM17 169.48h1v5.44h-1zM40 169.48h1v5.44h-1zM64 169.48h1v5.44h-1zM101 169.48h1v5.44h-1zM6 174.92h1v5.44h-1zM51 174.92h1v5.44h-1zM71 174.92h1v5.44h-1zM73 174.92h1v5.44h-1zM75 174.92h1v5.44h-1zM83 174.92h1v5.44h-1zM100 174.92h1v5.44h-1zM1 180.35h1v5.44h-1zM7 180.35h1v5.44h-1zM26 180.35h1v5.44h-1zM52 180.35h1v5.44h-1zM58 180.35h1v5.44h-1zM61 180.35h1v5.44h-1zM77 180.35h1v5.44h-1zM97 180.35h1v5.44h-1zM1 185.79h1v5.44h-1zM5 185.79h2v5.44h-2zM87 185.79h1v5.44h-1zM100 185.79h1v5.44h-1zM109 185.79h1v5.44h-1zM51 191.22h1v5.44h-1zM86 191.22h1v5.44h-1zM100 191.22h1v5.44h-1zM53 196.66h1v5.44h-1zM67 196.66h1v5.44h-1zM100 196.66h1v5.44h-1zM26 202.09h1v5.44h-1zM29 202.09h1v5.44h-1zM37 202.09h1v5.44h-1zM49 202.09h1v5.44h-1zM61 202.09h1v5.44h-1zM63 202.09h1v5.44h-1zM69 202.09h1v5.44h-1zM86 202.09h1v5.44h-1zM95 202.09h1v5.44h-1zM85 207.53h1v5.44h-1zM67 212.96h1v5.44h-1zM73 212.96h1v5.44h-1zM83 212.96h1v5.44h-1zM87 212.96h1v5.44h-1zM20 218.40h1v5.23h-1zM40 218.40h1v5.23h-1zM59 218.40h1v5.23h-1zM70 218.40h1v5.23h-1zM75 218.40h1v5.23h-1zM80 218.40h1v5.23h-1zM90 218.40h1v5.23h-1zM93 218.40h1v5.23h-1zM114 218.40h1v5.23h-1zM2 223.62h1v5.23h-1zM5 223.62h1v5.23h-1zM18 223.62h1v5.23h-1zM40 223.62h1v5.23h-1zM48 223.62h1v5.23h-1zM50 223.62h1v5.23h-1zM62 223.62h1v5.23h-1zM67 223.62h1v5.23h-1zM72 223.62h1v5.23h-1zM90 223.62h1v5.23h-1zM93 223.62h1v5.23h-1zM99 223.62h1v5.23h-1zM27 228.85h1v5.23h-1zM34 228.85h1v5.23h-1zM40 228.85h1v5.23h-1zM54 228.85h1v5.23h-1zM60 228.85h1v5.23h-1zM62 228.85h1v5.23h-1zM64 228.85h1v5.23h-1zM68 228.85h1v5.23h-1zM80 228.85h2v5.23h-2zM104 228.85h1v5.23h-1zM20 234.07h1v5.23h-1zM24 234.07h1v5.23h-1zM40 234.07h1v5.23h-1zM60 234.07h1v5.23h-1zM70 234.07h1v5.23h-1zM85 234.07h1v5.23h-1zM97 234.07h1v5.23h-1zM99 234.07h1v5.23h-1z"/>
<path fill="#343406" d="M3 0.00h2v5.10h-2zM11 0.00h1v5.10h-1zM15 0.00h1v5.10h-1zM18 0.00h2v5.10h-2zM22 0.00h1v5.10h-1zM25 0.00h1v5.10h-1zM29 0.00h1v5.10h-1zM34 0.00h3v5.10h-3zM48 0.00h2v5.10h-2zM53 0.00h1v5.10h-1zM61 0.00h1v5.10h-1zM67 0.00h2v5.10h-2zM71 0.00h1v5.10h-1zM75 0.00h1v5.10h-1zM80 0.00h1v5.10h-1zM84 0.00h1v5.10h-1zM91 0.00h1v5.10h-1zM101 0.00h1v5.10h-1zM106 0.00h1v5.10h-1zM113 0.00h1v5.10h-1zM9 5.10h2v5.10h-2zM24 5.10h1v5.10h-1zM39 5.10h1v5.10h-1zM42 5.10h1v5.10h-1zM45 5.10h1v5.10h-1zM52 5.10h1v5.10h-1zM56 5.10h1v5.10h-1zM58 5.10h1v5.10h-1zM69 5.10h1v5.10h-1zM82 5.10h2v5.10h-2zM89 5.10h1v5.10h-1zM102 5.10h1v5.10h-1zM106 5.10h1v5.10h-1zM46 10.20h1v5.10h-1zM62 10.20h2v5.10h-2zM67 10.20h1v5.10h-1zM72 10.20h2v5.10h-2zM77 10.20h1v5.10h-1zM81 10.20h1v5.10h-1zM92 10.20h1v5.10h-1zM99 10.20h1v5.10h-1zM101 10.20h1v5.10h-1zM103 10.20h1v5.10h-1zM0 15.30h1v5.10h-1zM3 15.30h1v5.10h-1zM16 15.30h1v5.10h-1zM24 15.30h1v5.10h-1zM26 15.30h1v5.10h-1zM38 15.30h1v5.10h-1zM40 15.30h2v5.10h-2zM44 15.30h1v5.10h-1zM47 15.30h1v5.10h-1zM49 15.30h1v5.10h-1zM52 15.30h1v5.10h-1zM55 15.30h1v5.10h-1zM71 15.30h2v5.10h-2zM78 15.30h1v5.10h-1zM80 15.30h1v5.10h-1zM87 15.30h1v5.10h-1zM97 15.30h2v5.10h-2zM107 15.30h1v5.10h-1zM109 15.30h1v5.10h-1zM4 20.40h2v5.95h-2zM8 20.40h1v5.95h-1zM10 20.40h1v5.95h-1zM12 20.40h1v5.95h-1zM24 20.40h2v5.95h-2zM33 20.40h1v5.95h-1zM37 20.40h1v5.95h-1zM40 20.40h1v5.95h-1zM44 20.40h1v5.95h-1zM63 20.40h2v5.95h-2zM74 20.40h1v5.95h-1zM81 20.40h1v5.95h-1zM88 20.40h1v5.95h-1zM94 20.40h2v5.95h-2zM98 20.40h1v5.95h-1zM100 20.40h2v5.95h-2zM104 20.40h1v5.95h-1zM108 20.40h1v5.95h-1zM5 26.35h1v5.95h-1zM9 26.35h2v5.95h-2zM13 26.35h2v5.95h-2zM17 26.35h1v5.95h-1zM30 26.35h2v5.95h-2zM33 26.35h1v5.95h-1zM39 26.35h1v5.95h-1zM46 26.35h1v5.95h-1zM48 26.35h1v5.95h-1zM66 26.35h1v5.95h-1zM86 26.35h1v5.95h-1zM97 26.35h1v5.95h-1zM101 26.35h1v5.95h-1zM104 26.35h3v5.95h-3zM108 26.35h1v5.95h-1zM4 32.30h1v5.21h-1zM10 32.30h1v5.21h-1zM12 32.30h1v5.21h-1zM19 32.30h1v5.21h-1zM23 32.30h1v5.21h-1zM31 32.30h1v5.21h-1zM45 32.30h1v5.21h-1zM52 32.30h1v5.21h-1zM55 32.30h1v5.21h-1zM58 32.30h2v5.21h-2zM61 32.30h1v5.21h-1zM71 32.30h1v5.21h-1zM74 32.30h1v5.21h-1zM77 32.30h1v5.21h-1zM79 32.30h1v5.21h-1zM81 32.30h1v5.21h-1zM85 32.30h2v5.21h-2zM99 32.30h1v5.21h-1zM101 32.30h1v5.21h-1zM2 37.51h1v5.21h-1zM6 37.51h1v5.21h-1zM9 37.51h1v5.21h-1zM15 37.51h1v5.21h-1zM17 37.51h1v5.21h-1zM26 37.51h1v5.21h-1zM29 37.51h1v5.21h-1zM35 37.51h1v5.21h-1zM37 37.51h2v5.21h-2zM43 37.51h1v5.21h-1zM47 37.51h1v5.21h-1zM51 37.51h1v5.21h-1zM53 37.51h1v5.21h-1zM56 37.51h2v5.21h-2zM68 37.51h1v5.21h-1zM83 37.51h2v5.21h-2zM96 37.51h1v5.21h-1zM98 37.51h1v5.21h-1zM103 37.51h1v5.21h-1zM113 37.51h2v5.21h-2zM18 42.71h1v5.21h-1zM21 42.71h1v5.21h-1zM43 42.71h1v5.21h-1zM45 42.71h1v5.21h-1zM47 42.71h1v5.21h-1zM52 42.71h1v5.21h-1zM55 42.71h1v5.21h-1zM63 42.71h1v5.21h-1zM66 42.71h1v5.21h-1zM68 42.71h1v5.21h-1zM79 42.71h1v5.21h-1zM84 42.71h1v5.21h-1zM97 42.71h1v5.21h-1zM102 42.71h1v5.21h-1zM107 42.71h1v5.21h-1zM112 42.71h2v5.21h-2zM10 47.92h1v5.21h-1zM22 47.92h2v5.21h-2zM28 47.92h1v5.21h-1zM43 47.92h1v5.21h-1zM46 47.92h1v5.21h-1zM53 47.92h1v5.21h-1zM58 47.92h1v5.21h-1zM66 47.92h1v5.21h-1zM74 47.92h1v5.21h-1zM82 47.92h1v5.21h-1zM84 47.92h1v5.21h-1zM96 47.92h1v5.21h-1zM103 47.92h1v5.21h-1zM106 47.92h1v5.21h-1zM9 53.12h1v5.21h-1zM16 53.12h1v5.21h-1zM19 53.12h1v5.21h-1zM28 53.12h1v5.21h-1zM34 53.12h2v5.21h-2zM41 53.12h1v5.21h-1zM49 53.12h1v5.21h-1zM54 53.12h1v5.21h-1zM67 53.12h1v5.21h-1zM72 53.12h1v5.21h-1zM77 53.12h1v5.21h-1zM92 53.12h1v5.21h-1zM102 53.12h1v5.21h-1zM105 53.12h1v5.21h-1zM108 53.12h1v5.21h-1zM1 58.33h1v5.21h-1zM10 58.33h1v5.21h-1zM13 58.33h1v5.21h-1zM22 58.33h2v5.21h-2zM37 58.33h1v5.21h-1zM55 58.33h1v5.21h-1zM57 58.33h1v5.21h-1zM60 58.33h1v5.21h-1zM62 58.33h1v5.21h-1zM75 58.33h1v5.21h-1zM83 58.33h2v5.21h-2zM88 58.33h2v5.21h-2zM96 58.33h1v5.21h-1zM98 58.33h1v5.21h-1zM101 58.33h2v5.21h-2zM12 63.53h1v5.21h-1zM28 63.53h1v5.21h-1zM30 63.53h2v5.21h-2zM35 63.53h2v5.21h-2zM41 63.53h1v5.21h-1zM43 63.53h1v5.21h-1zM47 63.53h1v5.21h-1zM54 63.53h1v5.21h-1zM59 63.53h1v5.21h-1zM68 63.53h2v5.21h-2zM79 63.53h2v5.21h-2zM90 63.53h2v5.21h-2zM98 63.53h1v5.21h-1zM103 63.53h1v5.21h-1zM110 63.53h1v5.21h-1zM114 63.53h1v5.21h-1zM8 68.74h1v5.21h-1zM19 68.74h1v5.21h-1zM29 68.74h1v5.21h-1zM31 68.74h1v5.21h-1zM36 68.74h1v5.21h-1zM39 68.74h1v5.21h-1zM44 68.74h1v5.21h-1zM47 68.74h1v5.21h-1zM55 68.74h1v5.21h-1zM60 68.74h1v5.21h-1zM63 68.74h1v5.21h-1zM77 68.74h2v5.21h-2zM80 68.74h1v5.21h-1zM90 68.74h1v5.21h-1zM95 68.74h1v5.21h-1zM101 68.74h1v5.21h-1zM106 68.74h1v5.21h-1zM109 68.74h1v5.21h-1zM115 68.74h1v5.21h-1zM5 73.94h1v5.21h-1zM9 73.94h1v5.21h-1zM12 73.94h1v5.21h-1zM20 73.94h1v5.21h-1zM26 73.94h1v5.21h-1zM30 73.94h1v5.21h-1zM34 73.94h1v5.21h-1zM37 73.94h1v5.21h-1zM42 73.94h1v5.21h-1zM51 73.94h1v5.21h-1zM64 73.94h1v5.21h-1zM74 73.94h1v5.21h-1zM80 73.94h2v5.21h-2zM85 73.94h1v5.21h-1zM92 73.94h1v5.21h-1zM98 73.94h1v5.21h-1zM2 79.15h1v5.21h-1zM9 79.15h1v5.21h-1zM12 79.15h1v5.21h-1zM17 79.15h4v5.21h-4zM41 79.15h1v5.21h-1zM45 79.15h1v5.21h-1zM48 79.15h1v5.21h-1zM54 79.15h1v5.21h-1zM62 79.15h1v5.21h-1zM65 79.15h1v5.21h-1zM70 79.15h1v5.21h-1zM74 79.15h1v5.21h-1zM83 79.15h1v5.21h-1zM86 79.15h1v5.21h-1zM90 79.15h1v5.21h-1zM98 79.15h2v5.21h-2zM107 79.15h1v5.21h-1zM112 79.15h1v5.21h-1zM114 79.15h2v5.21h-2zM1 84.36h2v5.21h-2zM5 84.36h1v5.21h-1zM8 84.36h1v5.21h-1zM21 84.36h1v5.21h-1zM23 84.36h1v5.21h-1zM30 84.36h1v5.21h-1zM34 84.36h1v5.21h-1zM41 84.36h1v5.21h-1zM45 84.36h2v5.21h-2zM51 84.36h1v5.21h-1zM54 84.36h1v5.21h-1zM58 84.36h2v5.21h-2zM70 84.36h1v5.21h-1zM82 84.36h1v5.21h-1zM86 84.36h1v5.21h-1zM96 84.36h1v5.21h-1zM101 84.36h1v5.21h-1zM113 84.36h1v5.21h-1zM1 89.56h2v5.21h-2zM5 89.56h1v5.21h-1zM17 89.56h1v5.21h-1zM19 89.56h1v5.21h-1zM36 89.56h1v5.21h-1zM38 89.56h1v5.21h-1zM43 89.56h1v5.21h-1zM52 89.56h1v5.21h-1zM54 89.56h1v5.21h-1zM61 89.56h1v5.21h-1zM71 89.56h1v5.21h-1zM76 89.56h1v5.21h-1zM86 89.56h1v5.21h-1zM91 89.56h1v5.21h-1zM94 89.56h1v5.21h-1zM103 89.56h1v5.21h-1zM108 89.56h2v5.21h-2zM115 89.56h1v5.21h-1zM2 94.77h1v5.21h-1zM12 94.77h1v5.21h-1zM19 94.77h1v5.21h-1zM21 94.77h1v5.21h-1zM38 94.77h4v5.21h-4zM43 94.77h1v5.21h-1zM52 94.77h1v5.21h-1zM60 94.77h1v5.21h-1zM62 94.77h3v5.21h-3zM66 94.77h1v5.21h-1zM75 94.77h1v5.21h-1zM77 94.77h1v5.21h-1zM79 94.77h1v5.21h-1zM81 94.77h1v5.21h-1zM83 94.77h1v5.21h-1zM86 94.77h1v5.21h-1zM89 94.77h2v5.21h-2zM95 94.77h1v5.21h-1zM106 94.77h1v5.21h-1zM3 99.97h1v5.21h-1zM5 99.97h2v5.21h-2zM20 99.97h1v5.21h-1zM36 99.97h1v5.21h-1zM38 99.97h1v5.21h-1zM44 99.97h2v5.21h-2zM48 99.97h1v5.21h-1zM69 99.97h1v5.21h-1zM72 99.97h1v5.21h-1zM89 99.97h1v5.21h-1zM91 99.97h1v5.21h-1zM93 99.97h1v5.21h-1zM96 99.97h1v5.21h-1zM99 99.97h2v5.21h-2zM103 99.97h1v5.21h-1zM108 99.97h1v5.21h-1zM2 105.18h1v5.21h-1zM4 105.18h1v5.21h-1zM8 105.18h1v5.21h-1zM15 105.18h3v5.21h-3zM30 105.18h1v5.21h-1zM39 105.18h1v5.21h-1zM51 105.18h1v5.21h-1zM55 105.18h1v5.21h-1zM57 105.18h2v5.21h-2zM60 105.18h1v5.21h-1zM63 105.18h2v5.21h-2zM68 105.18h2v5.21h-2zM74 105.18h1v5.21h-1zM79 105.18h1v5.21h-1zM90 105.18h1v5.21h-1zM99 105.18h1v5.21h-1zM0 110.38h1v5.21h-1zM12 110.38h1v5.21h-1zM20 110.38h1v5.21h-1zM23 110.38h1v5.21h-1zM28 110.38h1v5.21h-1zM31 110.38h1v5.21h-1zM48 110.38h1v5.21h-1zM57 110.38h1v5.21h-1zM61 110.38h1v5.21h-1zM65 110.38h2v5.21h-2zM74 110.38h1v5.21h-1zM76 110.38h1v5.21h-1zM82 110.38h3v5.21h-3zM90 110.38h3v5.21h-3zM105 110.38h2v5.21h-2zM112 110.38h1v5.21h-1zM2 115.59h1v5.21h-1zM4 115.59h1v5.21h-1zM8 115.59h1v5.21h-1zM12 115.59h1v5.21h-1zM21 115.59h1v5.21h-1zM25 115.59h1v5.21h-1zM28 115.59h1v5.21h-1zM32 115.59h1v5.21h-1zM58 115.59h1v5.21h-1zM63 115.59h1v5.21h-1zM65 115.59h2v5.21h-2zM86 115.59h1v5.21h-1zM109 115.59h1v5.21h-1zM1 120.79h1v5.21h-1zM5 120.79h1v5.21h-1zM7 120.79h1v5.21h-1zM18 120.79h2v5.21h-2zM30 120.79h1v5.21h-1zM36 120.79h1v5.21h-1zM54 120.79h1v5.21h-1zM57 120.79h1v5.21h-1zM65 120.79h1v5.21h-1zM86 120.79h1v5.21h-1zM91 120.79h1v5.21h-1zM95 120.79h1v5.21h-1zM106 120.79h1v5.21h-1zM108 120.79h1v5.21h-1zM18 126.00h1v5.44h-1zM55 126.00h1v5.44h-1zM58 126.00h1v5.44h-1zM63 126.00h2v5.44h-2zM67 126.00h1v5.44h-1zM73 126.00h1v5.44h-1zM86 126.00h2v5.44h-2zM95 126.00h1v5.44h-1zM107 126.00h1v5.44h-1zM33 131.44h1v5.44h-1zM39 131.44h1v5.44h-1zM56 131.44h1v5.44h-1zM62 131.44h1v5.44h-1zM87 131.44h1v5.44h-1zM112 131.44h1v5.44h-1zM1 136.87h1v5.44h-1zM6 136.87h1v5.44h-1zM23 136.87h1v5.44h-1zM40 136.87h1v5.44h-1zM51 136.87h1v5.44h-1zM57 136.87h2v5.44h-2zM64 136.87h2v5.44h-2zM68 136.87h1v5.44h-1zM70 136.87h1v5.44h-1zM73 136.87h1v5.44h-1zM75 136.87h1v5.44h-1zM83 136.87h1v5.44h-1zM90 136.87h1v5.44h-1zM15 142.31h1v5.44h-1zM33 142.31h1v5.44h-1zM44 142.31h1v5.44h-1zM51 142.31h2v5.44h-2zM64 142.31h1v5.44h-1zM72 142.31h2v5.44h-2zM75 142.31h1v5.44h-1zM90 142.31h1v5.44h-1zM98 142.31h1v5.44h-1zM100 142.31h1v5.44h-1zM106 142.31h1v5.44h-1zM59 147.74h1v5.44h-1zM75 147.74h1v5.44h-1zM92 147.74h1v5.44h-1zM106 147.74h1v5.44h-1zM14 153.18h1v5.44h-1zM16 153.18h1v5.44h-1zM25 153.18h1v5.44h-1zM29 153.18h1v5.44h-1zM33 153.18h1v5.44h-1zM38 153.18h1v5.44h-1zM47 153.18h1v5.44h-1zM51 153.18h1v5.44h-1zM94 153.18h1v5.44h-1zM96 153.18h1v5.44h-1zM101 153.18h2v5.44h-2zM0 158.61h1v5.44h-1zM5 158.61h1v5.44h-1zM52 158.61h1v5.44h-1zM66 158.61h3v5.44h-3zM107 158.61h1v5.44h-1zM113 158.61h1v5.44h-1zM1 164.05h1v5.44h-1zM6 164.05h1v5.44h-1zM29 164.05h1v5.44h-1zM54 164.05h1v5.44h-1zM58 164.05h1v5.44h-1zM99 164.05h1v5.44h-1zM11 169.48h1v5.44h-1zM44 169.48h1v5.44h-1zM73 169.48h1v5.44h-1zM79 169.48h1v5.44h-1zM100 169.48h1v5.44h-1zM111 169.48h1v5.44h-1zM7 174.92h1v5.44h-1zM30 174.92h1v5.44h-1zM38 174.92h1v5.44h-1zM5 180.35h1v5.44h-1zM16 180.35h1v5.44h-1zM65 180.35h1v5.44h-1zM67 180.35h1v5.44h-1zM69 180.35h1v5.44h-1zM85 180.35h1v5.44h-1zM90 180.35h1v5.44h-1zM92 180.35h1v5.44h-1zM96 180.35h1v5.44h-1zM101 180.35h1v5.44h-1zM110 180.35h1v5.44h-1zM9 185.79h1v5.44h-1zM67 185.79h1v5.44h-1zM90 185.79h1v5.44h-1zM94 185.79h1v5.44h-1zM104 185.79h1v5.44h-1zM107 185.79h1v5.44h-1zM114 185.79h1v5.44h-1zM83 191.22h1v5.44h-1zM91 191.22h1v5.44h-1zM103 191.22h1v5.44h-1zM107 191.22h1v5.44h-1zM16 196.66h1v5.44h-1zM21 196.66h1v5.44h-1zM56 196.66h1v5.44h-1zM82 196.66h1v5.44h-1zM88 196.66h1v5.44h-1zM92 196.66h1v5.44h-1zM94 196.66h1v5.44h-1zM106 196.66h1v5.44h-1zM6 202.09h2v5.44h-2zM32 202.09h2v5.44h-2zM52 202.09h1v5.44h-1zM78 202.09h1v5.44h-1zM100 202.09h2v5.44h-2zM21 207.53h1v5.44h-1zM99 207.53h1v5.44h-1zM107 207.53h1v5.44h-1zM4 212.96h1v5.44h-1zM8 212.96h1v5.44h-1zM74 212.96h2v5.44h-2zM84 212.96h1v5.44h-1zM114 212.96h1v5.44h-1zM1 218.40h2v5.23h-2zM12 218.40h1v5.23h-1zM34 218.40h3v5.23h-3zM50 218.40h1v5.23h-1zM60 218.40h1v5.23h-1zM62 218.40h1v5.23h-1zM66 218.40h1v5.23h-1zM72 218.40h1v5.23h-1zM79 218.40h1v5.23h-1zM81 218.40h1v5.23h-1zM95 218.40h1v5.23h-1zM104 218.40h2v5.23h-2zM1 223.62h1v5.23h-1zM22 223.62h1v5.23h-1zM27 223.62h1v5.23h-1zM29 223.62h2v5.23h-2zM35 223.62h1v5.23h-1zM47 223.62h1v5.23h-1zM56 223.62h1v5.23h-1zM59 223.62h1v5.23h-1zM66 223.62h1v5.23h-1zM68 223.62h1v5.23h-1zM79 223.62h1v5.23h-1zM86 223.62h1v5.23h-1zM95 223.62h1v5.23h-1zM0 228.85h1v5.23h-1zM12 228.85h1v5.23h-1zM15 228.85h1v5.23h-1zM20 228.85h2v5.23h-2zM30 228.85h1v5.23h-1zM35 228.85h1v5.23h-1zM49 228.85h1v5.23h-1zM59 228.85h1v5.23h-1zM66 228.85h1v5.23h-1zM97 228.85h1v5.23h-1zM1 234.07h2v5.23h-2zM38 234.07h1v5.23h-1zM41 234.07h1v5.23h-1zM47 234.07h1v5.23h-1zM50 234.07h1v5.23h-1zM53 234.07h1v5.23h-1zM64 234.07h1v5.23h-1zM68 234.07h1v5.23h-1zM72 234.07h1v5.23h-1zM74 234.07h1v5.23h-1zM81 234.07h1v5.23h-1zM93 234.07h1v5.23h-1zM107 234.07h1v5.23h-1zM115 234.07h1v5.23h-1z"/>
<path fill="#0a0b08" d="M9 0.00h1v5.10h-1zM16 0.00h1v5.10h-1zM20 0.00h2v5.10h-2zM32 0.00h1v5.10h-1zM40 0.00h1v5.10h-1zM51 0.00h1v5.10h-1zM64 0.00h1v5.10h-1zM88 0.00h2v5.10h-2zM92 0.00h1v5.10h-1zM94 0.00h1v5.10h-1zM100 0.00h1v5.10h-1zM105 0.00h1v5.10h-1zM107 0.00h1v5.10h-1zM114 0.00h1v5.10h-1zM0 5.10h1v5.10h-1zM13 5.10h1v5.10h-1zM15 5.10h1v5.10h-1zM20 5.10h1v5.10h-1zM22 5.10h1v5.10h-1zM28 5.10h1v5.10h-1zM36 5.10h1v5.10h-1zM44 5.10h1v5.10h-1zM55 5.10h1v5.10h-1zM63 5.10h1v5.10h-1zM78 5.10h1v5.10h-1zM81 5.10h1v5.10h-1zM90 5.10h1v5.10h-1zM97 5.10h2v5.10h-2zM104 5.10h2v5.10h-2zM109 5.10h1v5.10h-1zM113 5.10h1v5.10h-1zM0 10.20h1v5.10h-1zM44 10.20h1v5.10h-1zM76 10.20h1v5.10h-1zM7 15.30h1v5.10h-1zM19 15.30h1v5.10h-1zM28 15.30h1v5.10h-1zM43 15.30h1v5.10h-1zM51 15.30h1v5.10h-1zM57 15.30h1v5.10h-1zM61 15.30h2v5.10h-2zM64 15.30h1v5.10h-1zM76 15.30h1v5.10h-1zM83 15.30h1v5.10h-1zM90 15.30h1v5.10h-1zM94 15.30h1v5.10h-1zM104 15.30h1v5.10h-1zM106 15.30h1v5.10h-1zM112 15.30h3v5.10h-3zM0 20.40h1v5.95h-1zM11 20.40h1v5.95h-1zM15 20.40h1v5.95h-1zM23 20.40h1v5.95h-1zM27 20.40h1v5.95h-1zM29 20.40h1v5.95h-1zM38 20.40h1v5.95h-1zM41 20.40h1v5.95h-1zM60 20.40h1v5.95h-1zM65 20.40h1v5.95h-1zM69 20.40h1v5.95h-1zM72 20.40h2v5.95h-2zM77 20.40h1v5.95h-1zM82 20.40h1v5.95h-1zM90 20.40h2v5.95h-2zM110 20.40h1v5.95h-1zM2 26.35h2v5.95h-2zM8 26.35h1v5.95h-1zM18 26.35h1v5.95h-1zM29 26.35h1v5.95h-1zM34 26.35h2v5.95h-2zM56 26.35h1v5.95h-1zM65 26.35h1v5.95h-1zM72 26.35h3v5.95h-3zM85 26.35h1v5.95h-1zM90 26.35h1v5.95h-1zM94 26.35h1v5.95h-1zM112 26.35h1v5.95h-1zM2 32.30h2v5.21h-2zM8 32.30h1v5.21h-1zM15 32.30h2v5.21h-2zM21 32.30h1v5.21h-1zM26 32.30h3v5.21h-3zM30 32.30h1v5.21h-1zM43 32.30h1v5.21h-1zM57 32.30h1v5.21h-1zM65 32.30h1v5.21h-1zM67 32.30h1v5.21h-1zM83 32.30h1v5.21h-1zM89 32.30h1v5.21h-1zM91 32.30h1v5.21h-1zM94 32.30h1v5.21h-1zM100 32.30h1v5.21h-1zM102 32.30h1v5.21h-1zM111 32.30h2v5.21h-2zM3 37.51h1v5.21h-1zM8 37.51h1v5.21h-1zM22 37.51h1v5.21h-1zM30 37.51h1v5.21h-1zM65 37.51h1v5.21h-1zM70 37.51h1v5.21h-1zM73 37.51h2v5.21h-2zM76 37.51h1v5.21h-1zM86 37.51h1v5.21h-1zM90 37.51h1v5.21h-1zM95 37.51h1v5.21h-1zM102 37.51h1v5.21h-1zM106 37.51h1v5.21h-1zM109 37.51h1v5.21h-1zM111 37.51h1v5.21h-1zM3 42.71h1v5.21h-1zM8 42.71h1v5.21h-1zM12 42.71h1v5.21h-1zM19 42.71h1v5.21h-1zM22 42.71h2v5.21h-2zM28 42.71h1v5.21h-1zM44 42.71h1v5.21h-1zM48 42.71h1v5.21h-1zM70 42.71h2v5.21h-2zM83 42.71h1v5.21h-1zM87 42.71h1v5.21h-1zM100 42.71h1v5.21h-1zM103 42.71h1v5.21h-1zM105 42.71h1v5.21h-1zM110 42.71h1v5.21h-1zM114 42.71h1v5.21h-1zM7 47.92h2v5.21h-2zM12 47.92h1v5.21h-1zM15 47.92h1v5.21h-1zM20 47.92h1v5.21h-1zM32 47.92h1v5.21h-1zM44 47.92h1v5.21h-1zM47 47.92h1v5.21h-1zM49 47.92h1v5.21h-1zM56 47.92h1v5.21h-1zM67 47.92h2v5.21h-2zM79 47.92h1v5.21h-1zM87 47.92h1v5.21h-1zM89 47.92h2v5.21h-2zM93 47.92h1v5.21h-1zM101 47.92h1v5.21h-1zM105 47.92h1v5.21h-1zM113 47.92h2v5.21h-2zM0 53.12h1v5.21h-1zM6 53.12h1v5.21h-1zM8 53.12h1v5.21h-1zM10 53.12h1v5.21h-1zM12 53.12h1v5.21h-1zM18 53.12h1v5.21h-1zM40 53.12h1v5.21h-1zM46 53.12h1v5.21h-1zM48 53.12h1v5.21h-1zM58 53.12h1v5.21h-1zM63 53.12h1v5.21h-1zM66 53.12h1v5.21h-1zM71 53.12h1v5.21h-1zM79 53.12h1v5.21h-1zM81 53.12h1v5.21h-1zM89 53.12h2v5.21h-2zM96 53.12h2v5.21h-2zM103 53.12h1v5.21h-1zM106 53.12h1v5.21h-1zM113 53.12h1v5.21h-1zM0 58.33h1v5.21h-1zM18 58.33h2v5.21h-2zM25 58.33h1v5.21h-1zM29 58.33h1v5.21h-1zM32 58.33h2v5.21h-2zM43 58.33h1v5.21h-1zM49 58.33h1v5.21h-1zM70 58.33h1v5.21h-1zM74 58.33h1v5.21h-1zM81 58.33h1v5.21h-1zM100 58.33h1v5.21h-1zM104 58.33h1v5.21h-1zM106 58.33h1v5.21h-1zM113 58.33h1v5.21h-1zM42 63.53h1v5.21h-1zM45 63.53h1v5.21h-1zM48 63.53h1v5.21h-1zM57 63.53h1v5.21h-1zM62 63.53h1v5.21h-1zM71 63.53h1v5.21h-1zM77 63.53h1v5.21h-1zM87 63.53h1v5.21h-1zM3 68.74h1v5.21h-1zM12 68.74h1v5.21h-1zM16 68.74h1v5.21h-1zM18 68.74h1v5.21h-1zM21 68.74h1v5.21h-1zM43 68.74h1v5.21h-1zM45 68.74h1v5.21h-1zM59 68.74h1v5.21h-1zM66 68.74h1v5.21h-1zM70 68.74h1v5.21h-1zM79 68.74h1v5.21h-1zM86 68.74h1v5.21h-1zM88 68.74h1v5.21h-1zM93 68.74h1v5.21h-1zM108 68.74h1v5.21h-1zM110 68.74h1v5.21h-1zM114 68.74h1v5.21h-1zM10 73.94h1v5.21h-1zM18 73.94h1v5.21h-1zM38 73.94h1v5.21h-1zM47 73.94h2v5.21h-2zM52 73.94h1v5.21h-1zM54 73.94h1v5.21h-1zM58 73.94h1v5.21h-1zM60 73.94h1v5.21h-1zM63 73.94h1v5.21h-1zM69 73.94h2v5.21h-2zM87 73.94h1v5.21h-1zM96 73.94h1v5.21h-1zM101 73.94h2v5.21h-2zM106 73.94h3v5.21h-3zM112 73.94h1v5.21h-1zM3 79.15h1v5.21h-1zM15 79.15h1v5.21h-1zM35 79.15h1v5.21h-1zM51 79.15h1v5.21h-1zM53 79.15h1v5.21h-1zM59 79.15h1v5.21h-1zM71 79.15h2v5.21h-2zM96 79.15h1v5.21h-1zM101 79.15h1v5.21h-1zM106 79.15h1v5.21h-1zM111 79.15h1v5.21h-1zM113 79.15h1v5.21h-1zM6 84.36h1v5.21h-1zM9 84.36h1v5.21h-1zM12 84.36h2v5.21h-2zM25 84.36h1v5.21h-1zM29 84.36h1v5.21h-1zM35 84.36h1v5.21h-1zM49 84.36h2v5.21h-2zM52 84.36h1v5.21h-1zM75 84.36h1v5.21h-1zM77 84.36h1v5.21h-1zM83 84.36h2v5.21h-2zM87 84.36h1v5.21h-1zM89 84.36h1v5.21h-1zM98 84.36h1v5.21h-1zM104 84.36h1v5.21h-1zM107 84.36h1v5.21h-1zM111 84.36h2v5.21h-2zM12 89.56h1v5.21h-1zM25 89.56h1v5.21h-1zM28 89.56h2v5.21h-2zM39 89.56h2v5.21h-2zM55 89.56h1v5.21h-1zM57 89.56h2v5.21h-2zM67 89.56h2v5.21h-2zM70 89.56h1v5.21h-1zM73 89.56h1v5.21h-1zM82 89.56h1v5.21h-1zM89 89.56h1v5.21h-1zM96 89.56h1v5.21h-1zM98 89.56h1v5.21h-1zM22 94.77h1v5.21h-1zM27 94.77h1v5.21h-1zM33 94.77h1v5.21h-1zM46 94.77h1v5.21h-1zM55 94.77h1v5.21h-1zM57 94.77h1v5.21h-1zM65 94.77h1v5.21h-1zM70 94.77h2v5.21h-2zM74 94.77h1v5.21h-1zM85 94.77h1v5.21h-1zM96 94.77h1v5.21h-1zM99 94.77h1v5.21h-1zM102 94.77h1v5.21h-1zM15 99.97h1v5.21h-1zM18 99.97h2v5.21h-2zM28 99.97h1v5.21h-1zM31 99.97h2v5.21h-2zM39 99.97h1v5.21h-1zM41 99.97h1v5.21h-1zM46 99.97h2v5.21h-2zM51 99.97h2v5.21h-2zM54 99.97h1v5.21h-1zM57 99.97h1v5.21h-1zM59 99.97h1v5.21h-1zM61 99.97h1v5.21h-1zM71 99.97h1v5.21h-1zM82 99.97h2v5.21h-2zM86 99.97h1v5.21h-1zM94 99.97h1v5.21h-1zM97 99.97h1v5.21h-1zM101 99.97h1v5.21h-1zM105 99.97h1v5.21h-1zM107 99.97h1v5.21h-1zM111 99.97h1v5.21h-1zM0 105.18h1v5.21h-1zM3 105.18h1v5.21h-1zM20 105.18h1v5.21h-1zM26 105.18h1v5.21h-1zM31 105.18h1v5.21h-1zM38 105.18h1v5.21h-1zM40 105.18h1v5.21h-1zM44 105.18h1v5.21h-1zM54 105.18h1v5.21h-1zM82 105.18h1v5.21h-1zM86 105.18h1v5.21h-1zM91 105.18h1v5.21h-1zM97 105.18h2v5.21h-2zM101 105.18h1v5.21h-1zM104 105.18h1v5.21h-1zM111 105.18h2v5.21h-2zM115 105.18h1v5.21h-1zM4 110.38h1v5.21h-1zM15 110.38h1v5.21h-1zM22 110.38h1v5.21h-1zM47 110.38h1v5.21h-1zM52 110.38h1v5.21h-1zM55 110.38h1v5.21h-1zM63 110.38h1v5.21h-1zM68 110.38h1v5.21h-1zM80 110.38h1v5.21h-1zM86 110.38h3v5.21h-3zM102 110.38h1v5.21h-1zM111 110.38h1v5.21h-1zM113 110.38h1v5.21h-1zM3 115.59h1v5.21h-1zM29 115.59h1v5.21h-1zM38 115.59h1v5.21h-1zM43 115.59h3v5.21h-3zM47 115.59h1v5.21h-1zM50 115.59h2v5.21h-2zM55 115.59h1v5.21h-1zM57 115.59h1v5.21h-1zM59 115.59h1v5.21h-1zM61 115.59h1v5.21h-1zM82 115.59h1v5.21h-1zM89 115.59h1v5.21h-1zM91 115.59h3v5.21h-3zM95 115.59h1v5.21h-1zM100 115.59h1v5.21h-1zM106 115.59h1v5.21h-1zM111 115.59h1v5.21h-1zM12 120.79h1v5.21h-1zM15 120.79h1v5.21h-1zM28 120.79h1v5.21h-1zM52 120.79h1v5.21h-1zM58 120.79h1v5.21h-1zM71 120.79h1v5.21h-1zM87 120.79h1v5.21h-1zM89 120.79h2v5.21h-2zM96 120.79h1v5.21h-1zM98 120.79h1v5.21h-1zM107 120.79h1v5.21h-1zM113 120.79h2v5.21h-2zM5 126.00h2v5.44h-2zM10 126.00h1v5.44h-1zM20 126.00h1v5.44h-1zM39 126.00h1v5.44h-1zM45 126.00h1v5.44h-1zM52 126.00h1v5.44h-1zM62 126.00h1v5.44h-1zM80 126.00h1v5.44h-1zM83 126.00h2v5.44h-2zM94 126.00h1v5.44h-1zM102 126.00h1v5.44h-1zM9 131.44h1v5.44h-1zM14 131.44h1v5.44h-1zM18 131.44h1v5.44h-1zM23 131.44h1v5.44h-1zM34 131.44h1v5.44h-1zM45 131.44h2v5.44h-2zM52 131.44h1v5.44h-1zM58 131.44h1v5.44h-1zM65 131.44h1v5.44h-1zM71 131.44h1v5.44h-1zM78 131.44h2v5.44h-2zM82 131.44h2v5.44h-2zM92 131.44h1v5.44h-1zM107 131.44h1v5.44h-1zM115 131.44h1v5.44h-1zM0 136.87h1v5.44h-1zM4 136.87h1v5.44h-1zM18 136.87h1v5.44h-1zM20 136.87h2v5.44h-2zM28 136.87h1v5.44h-1zM34 136.87h1v5.44h-1zM41 136.87h1v5.44h-1zM45 136.87h1v5.44h-1zM50 136.87h1v5.44h-1zM56 136.87h1v5.44h-1zM61 136.87h1v5.44h-1zM72 136.87h1v5.44h-1zM74 136.87h1v5.44h-1zM77 136.87h3v5.44h-3zM82 136.87h1v5.44h-1zM92 136.87h1v5.44h-1zM94 136.87h1v5.44h-1zM97 136.87h1v5.44h-1zM101 136.87h3v5.44h-3zM1 142.31h1v5.44h-1zM5 142.31h2v5.44h-2zM9 142.31h1v5.44h-1zM13 142.31h1v5.44h-1zM17 142.31h1v5.44h-1zM41 142.31h1v5.44h-1zM53 142.31h1v5.44h-1zM57 142.31h1v5.44h-1zM65 142.31h1v5.44h-1zM69 142.31h1v5.44h-1zM74 142.31h1v5.44h-1zM78 142.31h2v5.44h-2zM84 142.31h1v5.44h-1zM87 142.31h1v5.44h-1zM91 142.31h1v5.44h-1zM95 142.31h2v5.44h-2zM109 142.31h1v5.44h-1zM112 142.31h1v5.44h-1zM63 147.74h2v5.44h-2zM68 147.74h1v5.44h-1zM72 147.74h1v5.44h-1zM78 147.74h1v5.44h-1zM86 147.74h1v5.44h-1zM94 147.74h1v5.44h-1zM101 147.74h2v5.44h-2zM108 147.74h1v5.44h-1zM112 147.74h1v5.44h-1zM114 147.74h1v5.44h-1zM0 153.18h1v5.44h-1zM3 153.18h3v5.44h-3zM13 153.18h1v5.44h-1zM15 153.18h1v5.44h-1zM18 153.18h1v5.44h-1zM24 153.18h1v5.44h-1zM27 153.18h2v5.44h-2zM30 153.18h1v5.44h-1zM41 153.18h1v5.44h-1zM58 153.18h1v5.44h-1zM60 153.18h2v5.44h-2zM65 153.18h1v5.44h-1zM67 153.18h1v5.44h-1zM73 153.18h1v5.44h-1zM83 153.18h1v5.44h-1zM85 153.18h1v5.44h-1zM90 153.18h1v5.44h-1zM98 153.18h1v5.44h-1zM110 153.18h1v5.44h-1zM17 158.61h1v5.44h-1zM28 158.61h1v5.44h-1zM48 158.61h1v5.44h-1zM54 158.61h1v5.44h-1zM62 158.61h1v5.44h-1zM71 158.61h1v5.44h-1zM73 158.61h1v5.44h-1zM80 158.61h1v5.44h-1zM84 158.61h1v5.44h-1zM94 158.61h1v5.44h-1zM11 164.05h1v5.44h-1zM34 164.05h1v5.44h-1zM41 164.05h1v5.44h-1zM44 164.05h1v5.44h-1zM46 164.05h1v5.44h-1zM49 164.05h1v5.44h-1zM55 164.05h1v5.44h-1zM74 164.05h1v5.44h-1zM79 164.05h1v5.44h-1zM102 164.05h1v5.44h-1zM13 169.48h1v5.44h-1zM25 169.48h1v5.44h-1zM56 169.48h2v5.44h-2zM68 169.48h1v5.44h-1zM71 169.48h1v5.44h-1zM78 169.48h1v5.44h-1zM82 169.48h1v5.44h-1zM95 169.48h1v5.44h-1zM109 169.48h2v5.44h-2zM31 174.92h1v5.44h-1zM39 174.92h1v5.44h-1zM45 174.92h1v5.44h-1zM60 174.92h1v5.44h-1zM63 174.92h1v5.44h-1zM67 174.92h1v5.44h-1zM72 174.92h1v5.44h-1zM79 174.92h2v5.44h-2zM85 174.92h1v5.44h-1zM92 174.92h1v5.44h-1zM95 174.92h1v5.44h-1zM101 174.92h1v5.44h-1zM109 174.92h1v5.44h-1zM0 180.35h1v5.44h-1zM6 180.35h1v5.44h-1zM12 180.35h1v5.44h-1zM18 180.35h1v5.44h-1zM20 180.35h1v5.44h-1zM22 180.35h3v5.44h-3zM27 180.35h1v5.44h-1zM33 180.35h1v5.44h-1zM35 180.35h3v5.44h-3zM55 180.35h1v5.44h-1zM57 180.35h1v5.44h-1zM64 180.35h1v5.44h-1zM68 180.35h1v5.44h-1zM70 180.35h2v5.44h-2zM75 180.35h1v5.44h-1zM79 180.35h4v5.44h-4zM86 180.35h1v5.44h-1zM89 180.35h1v5.44h-1zM100 180.35h1v5.44h-1zM112 180.35h1v5.44h-1zM114 180.35h2v5.44h-2zM0 185.79h1v5.44h-1zM4 185.79h1v5.44h-1zM13 185.79h1v5.44h-1zM31 185.79h1v5.44h-1zM33 185.79h2v5.44h-2zM36 185.79h1v5.44h-1zM39 185.79h2v5.44h-2zM42 185.79h1v5.44h-1zM53 185.79h1v5.44h-1zM58 185.79h1v5.44h-1zM65 185.79h1v5.44h-1zM68 185.79h1v5.44h-1zM74 185.79h1v5.44h-1zM78 185.79h1v5.44h-1zM84 185.79h1v5.44h-1zM106 185.79h1v5.44h-1zM110 185.79h1v5.44h-1zM36 191.22h2v5.44h-2zM39 191.22h1v5.44h-1zM41 191.22h1v5.44h-1zM45 191.22h1v5.44h-1zM77 191.22h1v5.44h-1zM80 191.22h1v5.44h-1zM87 191.22h1v5.44h-1zM97 191.22h1v5.44h-1zM99 191.22h1v5.44h-1zM106 191.22h1v5.44h-1zM1 196.66h1v5.44h-1zM5 196.66h1v5.44h-1zM7 196.66h1v5.44h-1zM14 196.66h1v5.44h-1zM17 196.66h1v5.44h-1zM24 196.66h1v5.44h-1zM30 196.66h1v5.44h-1zM44 196.66h1v5.44h-1zM49 196.66h1v5.44h-1zM51 196.66h1v5.44h-1zM58 196.66h1v5.44h-1zM64 196.66h1v5.44h-1zM72 196.66h1v5.44h-1zM77 196.66h1v5.44h-1zM90 196.66h1v5.44h-1zM95 196.66h1v5.44h-1zM97 196.66h1v5.44h-1zM103 196.66h2v5.44h-2zM109 196.66h1v5.44h-1zM111 196.66h1v5.44h-1zM4 202.09h2v5.44h-2zM18 202.09h1v5.44h-1zM27 202.09h1v5.44h-1zM46 202.09h1v5.44h-1zM51 202.09h1v5.44h-1zM58 202.09h1v5.44h-1zM81 202.09h1v5.44h-1zM85 202.09h1v5.44h-1zM90 202.09h1v5.44h-1zM92 202.09h1v5.44h-1zM106 202.09h2v5.44h-2zM110 202.09h1v5.44h-1zM114 202.09h1v5.44h-1zM4 207.53h1v5.44h-1zM6 207.53h2v5.44h-2zM26 207.53h1v5.44h-1zM32 207.53h1v5.44h-1zM58 207.53h1v5.44h-1zM74 207.53h1v5.44h-1zM76 207.53h2v5.44h-2zM87 207.53h1v5.44h-1zM95 207.53h1v5.44h-1zM100 207.53h1v5.44h-1zM104 207.53h1v5.44h-1zM31 212.96h1v5.44h-1zM45 212.96h1v5.44h-1zM49 212.96h1v5.44h-1zM62 212.96h1v5.44h-1zM66 212.96h1v5.44h-1zM71 212.96h1v5.44h-1zM86 212.96h1v5.44h-1zM90 212.96h1v5.44h-1zM93 212.96h1v5.44h-1zM100 212.96h1v5.44h-1zM106 212.96h1v5.44h-1zM110 212.96h1v5.44h-1zM113 212.96h1v5.44h-1zM0 218.40h1v5.23h-1zM17 218.40h1v5.23h-1zM22 218.40h1v5.23h-1zM29 218.40h1v5.23h-1zM32 218.40h2v5.23h-2zM39 218.40h1v5.23h-1zM49 218.40h1v5.23h-1zM77 218.40h2v5.23h-2zM85 218.40h3v5.23h-3zM98 218.40h2v5.23h-2zM0 223.62h1v5.23h-1zM19 223.62h1v5.23h-1zM21 223.62h1v5.23h-1zM24 223.62h1v5.23h-1zM32 223.62h1v5.23h-1zM49 223.62h1v5.23h-1zM53 223.62h1v5.23h-1zM77 223.62h1v5.23h-1zM87 223.62h1v5.23h-1zM92 223.62h1v5.23h-1zM98 223.62h1v5.23h-1zM104 223.62h1v5.23h-1zM107 223.62h1v5.23h-1zM1 228.85h1v5.23h-1zM36 228.85h1v5.23h-1zM39 228.85h1v5.23h-1zM41 228.85h1v5.23h-1zM47 228.85h1v5.23h-1zM77 228.85h1v5.23h-1zM85 228.85h2v5.23h-2zM95 228.85h2v5.23h-2zM98 228.85h1v5.23h-1zM101 228.85h1v5.23h-1zM114 228.85h1v5.23h-1zM3 234.07h1v5.23h-1zM11 234.07h1v5.23h-1zM15 234.07h1v5.23h-1zM29 234.07h2v5.23h-2zM34 234.07h2v5.23h-2zM49 234.07h1v5.23h-1zM55 234.07h1v5.23h-1zM58 234.07h1v5.23h-1zM75 234.07h1v5.23h-1zM82 234.07h1v5.23h-1zM95 234.07h1v5.23h-1z"/>
<path fill="#08161e" d="M1 0.00h1v5.10h-1zM7 0.00h1v5.10h-1zM12 0.00h1v5.10h-1zM17 0.00h1v5.10h-1zM30 0.00h1v5.10h-1zM33 0.00h1v5.10h-1zM43 0.00h2v5.10h-2zM47 0.00h1v5.10h-1zM52 0.00h1v5.10h-1zM63 0.00h1v5.10h-1zM82 0.00h1v5.10h-1zM86 0.00h1v5.10h-1zM90 0.00h1v5.10h-1zM96 0.00h1v5.10h-1zM112 0.00h1v5.10h-1zM115 0.00h1v5.10h-1zM2 5.10h1v5.10h-1zM5 5.10h1v5.10h-1zM7 5.10h1v5.10h-1zM11 5.10h1v5.10h-1zM17 5.10h1v5.10h-1zM21 5.10h1v5.10h-1zM23 5.10h1v5.10h-1zM33 5.10h1v5.10h-1zM47 5.10h1v5.10h-1zM50 5.10h2v5.10h-2zM53 5.10h1v5.10h-1zM61 5.10h1v5.10h-1zM76 5.10h1v5.10h-1zM79 5.10h1v5.10h-1zM84 5.10h2v5.10h-2zM92 5.10h1v5.10h-1zM99 5.10h1v5.10h-1zM101 5.10h1v5.10h-1zM107 5.10h1v5.10h-1zM88 10.20h2v5.10h-2zM96 10.20h1v5.10h-1zM100 10.20h1v5.10h-1zM102 10.20h1v5.10h-1zM107 10.20h2v5.10h-2zM111 10.20h1v5.10h-1zM113 10.20h1v5.10h-1zM2 15.30h1v5.10h-1zM11 15.30h1v5.10h-1zM23 15.30h1v5.10h-1zM46 15.30h1v5.10h-1zM58 15.30h3v5.10h-3zM67 15.30h2v5.10h-2zM89 15.30h1v5.10h-1zM99 15.30h1v5.10h-1zM101 15.30h2v5.10h-2zM111 15.30h1v5.10h-1zM3 20.40h1v5.95h-1zM20 20.40h1v5.95h-1zM34 20.40h2v5.95h-2zM39 20.40h1v5.95h-1zM51 20.40h1v5.95h-1zM57 20.40h1v5.95h-1zM59 20.40h1v5.95h-1zM83 20.40h1v5.95h-1zM87 20.40h1v5.95h-1zM89 20.40h1v5.95h-1zM93 20.40h1v5.95h-1zM96 20.40h1v5.95h-1zM99 20.40h1v5.95h-1zM103 20.40h1v5.95h-1zM107 20.40h1v5.95h-1zM111 20.40h1v5.95h-1zM115 20.40h1v5.95h-1zM4 26.35h1v5.95h-1zM12 26.35h1v5.95h-1zM15 26.35h2v5.95h-2zM24 26.35h1v5.95h-1zM28 26.35h1v5.95h-1zM44 26.35h1v5.95h-1zM60 26.35h1v5.95h-1zM62 26.35h2v5.95h-2zM69 26.35h1v5.95h-1zM71 26.35h1v5.95h-1zM75 26.35h1v5.95h-1zM78 26.35h1v5.95h-1zM82 26.35h1v5.95h-1zM87 26.35h1v5.95h-1zM99 26.35h1v5.95h-1zM103 26.35h1v5.95h-1zM107 26.35h1v5.95h-1zM114 26.35h2v5.95h-2zM22 32.30h1v5.21h-1zM29 32.30h1v5.21h-1zM33 32.30h1v5.21h-1zM38 32.30h2v5.21h-2zM47 32.30h2v5.21h-2zM53 32.30h1v5.21h-1zM82 32.30h1v5.21h-1zM92 32.30h1v5.21h-1zM96 32.30h1v5.21h-1zM107 32.30h1v5.21h-1zM1 37.51h1v5.21h-1zM32 37.51h1v5.21h-1zM40 37.51h2v5.21h-2zM44 37.51h2v5.21h-2zM48 37.51h1v5.21h-1zM50 37.51h1v5.21h-1zM58 37.51h1v5.21h-1zM66 37.51h1v5.21h-1zM88 37.51h2v5.21h-2zM92 37.51h1v5.21h-1zM107 37.51h1v5.21h-1zM110 37.51h1v5.21h-1zM15 42.71h1v5.21h-1zM29 42.71h2v5.21h-2zM32 42.71h1v5.21h-1zM39 42.71h1v5.21h-1zM41 42.71h1v5.21h-1zM50 42.71h1v5.21h-1zM56 42.71h1v5.21h-1zM58 42.71h1v5.21h-1zM77 42.71h1v5.21h-1zM88 42.71h1v5.21h-1zM91 42.71h1v5.21h-1zM96 42.71h1v5.21h-1zM104 42.71h1v5.21h-1zM13 47.92h1v5.21h-1zM29 47.92h1v5.21h-1zM39 47.92h2v5.21h-2zM59 47.92h1v5.21h-1zM65 47.92h1v5.21h-1zM71 47.92h1v5.21h-1zM73 47.92h1v5.21h-1zM80 47.92h1v5.21h-1zM83 47.92h1v5.21h-1zM88 47.92h1v5.21h-1zM91 47.92h1v5.21h-1zM98 47.92h1v5.21h-1zM104 47.92h1v5.21h-1zM107 47.92h1v5.21h-1zM7 53.12h1v5.21h-1zM11 53.12h1v5.21h-1zM14 53.12h1v5.21h-1zM17 53.12h1v5.21h-1zM20 53.12h1v5.21h-1zM22 53.12h1v5.21h-1zM76 53.12h1v5.21h-1zM86 53.12h1v5.21h-1zM91 53.12h1v5.21h-1zM93 53.12h1v5.21h-1zM98 53.12h1v5.21h-1zM100 53.12h1v5.21h-1zM6 58.33h1v5.21h-1zM14 58.33h1v5.21h-1zM30 58.33h2v5.21h-2zM40 58.33h1v5.21h-1zM45 58.33h1v5.21h-1zM48 58.33h1v5.21h-1zM53 58.33h1v5.21h-1zM64 58.33h1v5.21h-1zM78 58.33h1v5.21h-1zM92 58.33h2v5.21h-2zM95 58.33h1v5.21h-1zM103 58.33h1v5.21h-1zM107 58.33h1v5.21h-1zM114 58.33h1v5.21h-1zM0 63.53h1v5.21h-1zM14 63.53h1v5.21h-1zM19 63.53h1v5.21h-1zM32 63.53h1v5.21h-1zM39 63.53h1v5.21h-1zM49 63.53h1v5.21h-1zM51 63.53h2v5.21h-2zM55 63.53h1v5.21h-1zM70 63.53h1v5.21h-1zM73 63.53h1v5.21h-1zM82 63.53h1v5.21h-1zM84 63.53h1v5.21h-1zM89 63.53h1v5.21h-1zM96 63.53h1v5.21h-1zM104 63.53h1v5.21h-1zM107 63.53h1v5.21h-1zM115 63.53h1v5.21h-1zM0 68.74h1v5.21h-1zM15 68.74h1v5.21h-1zM20 68.74h1v5.21h-1zM32 68.74h1v5.21h-1zM40 68.74h1v5.21h-1zM48 68.74h1v5.21h-1zM50 68.74h1v5.21h-1zM73 68.74h1v5.21h-1zM83 68.74h1v5.21h-1zM99 68.74h1v5.21h-1zM102 68.74h1v5.21h-1zM107 68.74h1v5.21h-1zM113 68.74h1v5.21h-1zM0 73.94h1v5.21h-1zM8 73.94h1v5.21h-1zM14 73.94h2v5.21h-2zM22 73.94h1v5.21h-1zM29 73.94h1v5.21h-1zM32 73.94h1v5.21h-1zM40 73.94h1v5.21h-1zM43 73.94h2v5.21h-2zM49 73.94h1v5.21h-1zM57 73.94h1v5.21h-1zM59 73.94h1v5.21h-1zM66 73.94h1v5.21h-1zM76 73.94h1v5.21h-1zM82 73.94h1v5.21h-1zM88 73.94h2v5.21h-2zM91 73.94h1v5.21h-1zM111 73.94h1v5.21h-1zM114 73.94h1v5.21h-1zM8 79.15h1v5.21h-1zM16 79.15h1v5.21h-1zM21 79.15h1v5.21h-1zM28 79.15h1v5.21h-1zM30 79.15h1v5.21h-1zM33 79.15h1v5.21h-1zM40 79.15h1v5.21h-1zM56 79.15h1v5.21h-1zM67 79.15h1v5.21h-1zM73 79.15h1v5.21h-1zM77 79.15h1v5.21h-1zM87 79.15h1v5.21h-1zM89 79.15h1v5.21h-1zM91 79.15h1v5.21h-1zM102 79.15h1v5.21h-1zM3 84.36h1v5.21h-1zM32 84.36h2v5.21h-2zM39 84.36h1v5.21h-1zM48 84.36h1v5.21h-1zM53 84.36h1v5.21h-1zM66 84.36h1v5.21h-1zM69 84.36h1v5.21h-1zM74 84.36h1v5.21h-1zM76 84.36h1v5.21h-1zM109 84.36h2v5.21h-2zM115 84.36h1v5.21h-1zM0 89.56h1v5.21h-1zM14 89.56h2v5.21h-2zM22 89.56h2v5.21h-2zM32 89.56h1v5.21h-1zM35 89.56h1v5.21h-1zM46 89.56h2v5.21h-2zM50 89.56h2v5.21h-2zM59 89.56h1v5.21h-1zM74 89.56h1v5.21h-1zM81 89.56h1v5.21h-1zM84 89.56h1v5.21h-1zM87 89.56h1v5.21h-1zM101 89.56h1v5.21h-1zM104 89.56h1v5.21h-1zM110 89.56h1v5.21h-1zM0 94.77h1v5.21h-1zM15 94.77h1v5.21h-1zM18 94.77h1v5.21h-1zM30 94.77h1v5.21h-1zM44 94.77h2v5.21h-2zM53 94.77h1v5.21h-1zM59 94.77h1v5.21h-1zM76 94.77h1v5.21h-1zM93 94.77h1v5.21h-1zM98 94.77h1v5.21h-1zM101 94.77h1v5.21h-1zM103 94.77h1v5.21h-1zM110 94.77h1v5.21h-1zM114 94.77h1v5.21h-1zM40 99.97h1v5.21h-1zM43 99.97h1v5.21h-1zM65 99.97h1v5.21h-1zM79 99.97h1v5.21h-1zM92 99.97h1v5.21h-1zM102 99.97h1v5.21h-1zM112 99.97h1v5.21h-1zM6 105.18h1v5.21h-1zM12 105.18h1v5.21h-1zM43 105.18h1v5.21h-1zM48 105.18h1v5.21h-1zM67 105.18h1v5.21h-1zM70 105.18h1v5.21h-1zM72 105.18h1v5.21h-1zM76 105.18h1v5.21h-1zM87 105.18h2v5.21h-2zM92 105.18h1v5.21h-1zM102 105.18h2v5.21h-2zM110 105.18h1v5.21h-1zM14 110.38h1v5.21h-1zM25 110.38h1v5.21h-1zM29 110.38h1v5.21h-1zM40 110.38h1v5.21h-1zM45 110.38h1v5.21h-1zM51 110.38h1v5.21h-1zM77 110.38h1v5.21h-1zM89 110.38h1v5.21h-1zM93 110.38h1v5.21h-1zM104 110.38h1v5.21h-1zM107 110.38h1v5.21h-1zM115 110.38h1v5.21h-1zM0 115.59h1v5.21h-1zM41 115.59h1v5.21h-1zM52 115.59h1v5.21h-1zM64 115.59h1v5.21h-1zM70 115.59h1v5.21h-1zM73 115.59h1v5.21h-1zM76 115.59h1v5.21h-1zM85 115.59h1v5.21h-1zM99 115.59h1v5.21h-1zM114 115.59h1v5.21h-1zM0 120.79h1v5.21h-1zM11 120.79h1v5.21h-1zM21 120.79h1v5.21h-1zM23 120.79h1v5.21h-1zM29 120.79h1v5.21h-1zM43 120.79h1v5.21h-1zM46 120.79h1v5.21h-1zM48 120.79h1v5.21h-1zM50 120.79h1v5.21h-1zM61 120.79h1v5.21h-1zM68 120.79h1v5.21h-1zM85 120.79h1v5.21h-1zM92 120.79h2v5.21h-2zM4 126.00h1v5.44h-1zM13 126.00h1v5.44h-1zM16 126.00h1v5.44h-1zM35 126.00h1v5.44h-1zM41 126.00h1v5.44h-1zM54 126.00h1v5.44h-1zM57 126.00h1v5.44h-1zM59 126.00h3v5.44h-3zM65 126.00h1v5.44h-1zM78 126.00h1v5.44h-1zM81 126.00h2v5.44h-2zM85 126.00h1v5.44h-1zM90 126.00h2v5.44h-2zM97 126.00h1v5.44h-1zM101 126.00h1v5.44h-1zM106 126.00h1v5.44h-1zM114 126.00h2v5.44h-2zM1 131.44h1v5.44h-1zM11 131.44h1v5.44h-1zM25 131.44h1v5.44h-1zM30 131.44h1v5.44h-1zM41 131.44h1v5.44h-1zM51 131.44h1v5.44h-1zM55 131.44h1v5.44h-1zM57 131.44h1v5.44h-1zM68 131.44h3v5.44h-3zM72 131.44h1v5.44h-1zM74 131.44h1v5.44h-1zM77 131.44h1v5.44h-1zM80 131.44h1v5.44h-1zM88 131.44h1v5.44h-1zM94 131.44h1v5.44h-1zM96 131.44h1v5.44h-1zM106 131.44h1v5.44h-1zM110 131.44h1v5.44h-1zM7 136.87h1v5.44h-1zM9 136.87h1v5.44h-1zM16 136.87h1v5.44h-1zM27 136.87h1v5.44h-1zM29 136.87h1v5.44h-1zM31 136.87h1v5.44h-1zM33 136.87h1v5.44h-1zM36 136.87h1v5.44h-1zM44 136.87h1v5.44h-1zM47 136.87h1v5.44h-1zM49 136.87h1v5.44h-1zM53 136.87h1v5.44h-1zM55 136.87h1v5.44h-1zM60 136.87h1v5.44h-1zM69 136.87h1v5.44h-1zM80 136.87h1v5.44h-1zM88 136.87h1v5.44h-1zM95 136.87h1v5.44h-1zM105 136.87h1v5.44h-1zM107 136.87h1v5.44h-1zM109 136.87h2v5.44h-2zM113 136.87h1v5.44h-1zM115 136.87h1v5.44h-1zM3 142.31h1v5.44h-1zM12 142.31h1v5.44h-1zM22 142.31h1v5.44h-1zM25 142.31h3v5.44h-3zM30 142.31h1v5.44h-1zM34 142.31h2v5.44h-2zM37 142.31h1v5.44h-1zM46 142.31h2v5.44h-2zM55 142.31h2v5.44h-2zM67 142.31h2v5.44h-2zM70 142.31h1v5.44h-1zM80 142.31h1v5.44h-1zM88 142.31h1v5.44h-1zM99 142.31h1v5.44h-1zM103 142.31h1v5.44h-1zM110 142.31h1v5.44h-1zM23 147.74h1v5.44h-1zM32 147.74h1v5.44h-1zM48 147.74h1v5.44h-1zM60 147.74h1v5.44h-1zM62 147.74h1v5.44h-1zM80 147.74h1v5.44h-1zM83 147.74h1v5.44h-1zM90 147.74h1v5.44h-1zM103 147.74h3v5.44h-3zM6 153.18h2v5.44h-2zM21 153.18h1v5.44h-1zM35 153.18h2v5.44h-2zM43 153.18h1v5.44h-1zM46 153.18h1v5.44h-1zM54 153.18h1v5.44h-1zM56 153.18h2v5.44h-2zM63 153.18h1v5.44h-1zM69 153.18h2v5.44h-2zM72 153.18h1v5.44h-1zM74 153.18h1v5.44h-1zM78 153.18h1v5.44h-1zM81 153.18h1v5.44h-1zM92 153.18h1v5.44h-1zM95 153.18h1v5.44h-1zM109 153.18h1v5.44h-1zM1 158.61h1v5.44h-1zM9 158.61h1v5.44h-1zM11 158.61h1v5.44h-1zM20 158.61h1v5.44h-1zM26 158.61h1v5.44h-1zM30 158.61h2v5.44h-2zM36 158.61h1v5.44h-1zM49 158.61h1v5.44h-1zM53 158.61h1v5.44h-1zM65 158.61h1v5.44h-1zM70 158.61h1v5.44h-1zM74 158.61h1v5.44h-1zM77 158.61h1v5.44h-1zM81 158.61h1v5.44h-1zM83 158.61h1v5.44h-1zM85 158.61h1v5.44h-1zM87 158.61h1v5.44h-1zM89 158.61h1v5.44h-1zM91 158.61h1v5.44h-1zM95 158.61h1v5.44h-1zM102 158.61h1v5.44h-1zM110 158.61h1v5.44h-1zM0 164.05h1v5.44h-1zM4 164.05h1v5.44h-1zM19 164.05h1v5.44h-1zM33 164.05h1v5.44h-1zM56 164.05h1v5.44h-1zM61 164.05h1v5.44h-1zM64 164.05h3v5.44h-3zM81 164.05h2v5.44h-2zM84 164.05h2v5.44h-2zM87 164.05h1v5.44h-1zM89 164.05h2v5.44h-2zM95 164.05h1v5.44h-1zM104 164.05h1v5.44h-1zM1 169.48h1v5.44h-1zM4 169.48h1v5.44h-1zM6 169.48h1v5.44h-1zM12 169.48h1v5.44h-1zM16 169.48h1v5.44h-1zM19 169.48h1v5.44h-1zM22 169.48h1v5.44h-1zM24 169.48h1v5.44h-1zM30 169.48h1v5.44h-1zM35 169.48h1v5.44h-1zM39 169.48h1v5.44h-1zM59 169.48h3v5.44h-3zM65 169.48h1v5.44h-1zM67 169.48h1v5.44h-1zM70 169.48h1v5.44h-1zM72 169.48h1v5.44h-1zM75 169.48h1v5.44h-1zM77 169.48h1v5.44h-1zM83 169.48h1v5.44h-1zM98 169.48h1v5.44h-1zM102 169.48h1v5.44h-1zM104 169.48h1v5.44h-1zM107 169.48h1v5.44h-1zM1 174.92h1v5.44h-1zM4 174.92h1v5.44h-1zM16 174.92h1v5.44h-1zM27 174.92h1v5.44h-1zM32 174.92h1v5.44h-1zM41 174.92h1v5.44h-1zM46 174.92h1v5.44h-1zM54 174.92h1v5.44h-1zM64 174.92h2v5.44h-2zM74 174.92h1v5.44h-1zM78 174.92h1v5.44h-1zM96 174.92h1v5.44h-1zM99 174.92h1v5.44h-1zM103 174.92h3v5.44h-3zM107 174.92h2v5.44h-2zM110 174.92h1v5.44h-1zM8 180.35h1v5.44h-1zM11 180.35h1v5.44h-1zM14 180.35h1v5.44h-1zM21 180.35h1v5.44h-1zM28 180.35h2v5.44h-2zM31 180.35h2v5.44h-2zM34 180.35h1v5.44h-1zM44 180.35h2v5.44h-2zM48 180.35h1v5.44h-1zM50 180.35h2v5.44h-2zM59 180.35h1v5.44h-1zM62 180.35h1v5.44h-1zM66 180.35h1v5.44h-1zM73 180.35h1v5.44h-1zM84 180.35h1v5.44h-1zM87 180.35h1v5.44h-1zM95 180.35h1v5.44h-1zM102 180.35h1v5.44h-1zM104 180.35h1v5.44h-1zM109 180.35h1v5.44h-1zM12 185.79h1v5.44h-1zM15 185.79h1v5.44h-1zM18 185.79h2v5.44h-2zM24 185.79h2v5.44h-2zM30 185.79h1v5.44h-1zM35 185.79h1v5.44h-1zM46 185.79h1v5.44h-1zM49 185.79h2v5.44h-2zM52 185.79h1v5.44h-1zM57 185.79h1v5.44h-1zM64 185.79h1v5.44h-1zM70 185.79h1v5.44h-1zM80 185.79h1v5.44h-1zM82 185.79h2v5.44h-2zM85 185.79h1v5.44h-1zM95 185.79h2v5.44h-2zM98 185.79h1v5.44h-1zM115 185.79h1v5.44h-1zM5 191.22h1v5.44h-1zM8 191.22h1v5.44h-1zM19 191.22h1v5.44h-1zM61 191.22h2v5.44h-2zM67 191.22h1v5.44h-1zM72 191.22h1v5.44h-1zM79 191.22h1v5.44h-1zM84 191.22h1v5.44h-1zM101 191.22h1v5.44h-1zM105 191.22h1v5.44h-1zM6 196.66h1v5.44h-1zM9 196.66h1v5.44h-1zM11 196.66h1v5.44h-1zM19 196.66h1v5.44h-1zM22 196.66h1v5.44h-1zM26 196.66h1v5.44h-1zM32 196.66h1v5.44h-1zM34 196.66h2v5.44h-2zM48 196.66h1v5.44h-1zM50 196.66h1v5.44h-1zM52 196.66h1v5.44h-1zM61 196.66h2v5.44h-2zM65 196.66h1v5.44h-1zM74 196.66h2v5.44h-2zM85 196.66h1v5.44h-1zM98 196.66h1v5.44h-1zM101 196.66h1v5.44h-1zM107 196.66h1v5.44h-1zM0 202.09h1v5.44h-1zM10 202.09h1v5.44h-1zM15 202.09h1v5.44h-1zM17 202.09h1v5.44h-1zM19 202.09h1v5.44h-1zM24 202.09h2v5.44h-2zM28 202.09h1v5.44h-1zM30 202.09h1v5.44h-1zM34 202.09h3v5.44h-3zM48 202.09h1v5.44h-1zM55 202.09h1v5.44h-1zM57 202.09h1v5.44h-1zM60 202.09h1v5.44h-1zM62 202.09h1v5.44h-1zM65 202.09h1v5.44h-1zM72 202.09h2v5.44h-2zM75 202.09h2v5.44h-2zM82 202.09h1v5.44h-1zM84 202.09h1v5.44h-1zM89 202.09h1v5.44h-1zM96 202.09h1v5.44h-1zM102 202.09h3v5.44h-3zM112 202.09h1v5.44h-1zM33 207.53h1v5.44h-1zM41 207.53h1v5.44h-1zM45 207.53h1v5.44h-1zM48 207.53h1v5.44h-1zM56 207.53h1v5.44h-1zM61 207.53h1v5.44h-1zM65 207.53h1v5.44h-1zM71 207.53h1v5.44h-1zM73 207.53h1v5.44h-1zM80 207.53h1v5.44h-1zM82 207.53h2v5.44h-2zM88 207.53h1v5.44h-1zM96 207.53h2v5.44h-2zM110 207.53h1v5.44h-1zM115 207.53h1v5.44h-1zM2 212.96h1v5.44h-1zM5 212.96h1v5.44h-1zM7 212.96h1v5.44h-1zM26 212.96h1v5.44h-1zM28 212.96h1v5.44h-1zM36 212.96h1v5.44h-1zM39 212.96h1v5.44h-1zM50 212.96h1v5.44h-1zM52 212.96h2v5.44h-2zM60 212.96h1v5.44h-1zM68 212.96h1v5.44h-1zM72 212.96h1v5.44h-1zM96 212.96h1v5.44h-1zM102 212.96h2v5.44h-2zM109 212.96h1v5.44h-1zM3 218.40h1v5.23h-1zM10 218.40h2v5.23h-2zM18 218.40h1v5.23h-1zM23 218.40h1v5.23h-1zM30 218.40h1v5.23h-1zM53 218.40h1v5.23h-1zM55 218.40h1v5.23h-1zM74 218.40h1v5.23h-1zM89 218.40h1v5.23h-1zM91 218.40h1v5.23h-1zM96 218.40h1v5.23h-1zM102 218.40h1v5.23h-1zM107 218.40h1v5.23h-1zM7 223.62h1v5.23h-1zM10 223.62h2v5.23h-2zM16 223.62h1v5.23h-1zM41 223.62h1v5.23h-1zM45 223.62h1v5.23h-1zM55 223.62h1v5.23h-1zM74 223.62h2v5.23h-2zM80 223.62h1v5.23h-1zM85 223.62h1v5.23h-1zM102 223.62h1v5.23h-1zM8 228.85h1v5.23h-1zM11 228.85h1v5.23h-1zM16 228.85h1v5.23h-1zM22 228.85h1v5.23h-1zM24 228.85h1v5.23h-1zM32 228.85h1v5.23h-1zM38 228.85h1v5.23h-1zM44 228.85h1v5.23h-1zM65 228.85h1v5.23h-1zM74 228.85h1v5.23h-1zM87 228.85h1v5.23h-1zM91 228.85h1v5.23h-1zM102 228.85h1v5.23h-1zM107 228.85h1v5.23h-1zM115 228.85h1v5.23h-1zM0 234.07h1v5.23h-1zM12 234.07h1v5.23h-1zM16 234.07h1v5.23h-1zM18 234.07h1v5.23h-1zM21 234.07h2v5.23h-2zM27 234.07h1v5.23h-1zM32 234.07h2v5.23h-2zM59 234.07h1v5.23h-1zM77 234.07h2v5.23h-2zM86 234.07h1v5.23h-1zM98 234.07h1v5.23h-1zM102 234.07h1v5.23h-1zM104 234.07h1v5.23h-1zM112 234.07h1v5.23h-1z"/>
<path fill="#0a2640" d="M31 0.00h1v5.10h-1zM60 0.00h1v5.10h-1zM4 5.10h1v5.10h-1zM18 5.10h1v5.10h-1zM48 5.10h1v5.10h-1zM59 5.10h1v5.10h-1zM62 5.10h1v5.10h-1zM65 5.10h1v5.10h-1zM75 5.10h1v5.10h-1zM108 5.10h1v5.10h-1zM114 5.10h1v5.10h-1zM91 10.20h1v5.10h-1zM94 10.20h2v5.10h-2zM97 10.20h1v5.10h-1zM104 10.20h1v5.10h-1zM112 10.20h1v5.10h-1zM115 10.20h1v5.10h-1zM17 15.30h1v5.10h-1zM32 15.30h1v5.10h-1zM35 15.30h1v5.10h-1zM37 15.30h1v5.10h-1zM69 15.30h1v5.10h-1zM91 15.30h1v5.10h-1zM13 20.40h1v5.95h-1zM46 20.40h1v5.95h-1zM50 20.40h1v5.95h-1zM78 20.40h3v5.95h-3zM92 20.40h1v5.95h-1zM114 20.40h1v5.95h-1zM1 26.35h1v5.95h-1zM25 26.35h2v5.95h-2zM43 26.35h1v5.95h-1zM50 26.35h2v5.95h-2zM53 26.35h1v5.95h-1zM57 26.35h1v5.95h-1zM77 26.35h1v5.95h-1zM88 26.35h2v5.95h-2zM95 26.35h2v5.95h-2zM109 26.35h1v5.95h-1zM113 26.35h1v5.95h-1zM0 32.30h1v5.21h-1zM32 32.30h1v5.21h-1zM36 32.30h1v5.21h-1zM44 32.30h1v5.21h-1zM50 32.30h1v5.21h-1zM73 32.30h1v5.21h-1zM97 32.30h1v5.21h-1zM104 32.30h1v5.21h-1zM114 32.30h1v5.21h-1zM0 37.51h1v5.21h-1zM16 37.51h1v5.21h-1zM33 37.51h1v5.21h-1zM39 37.51h1v5.21h-1zM46 37.51h1v5.21h-1zM54 37.51h1v5.21h-1zM71 37.51h1v5.21h-1zM82 37.51h1v5.21h-1zM91 37.51h1v5.21h-1zM104 37.51h1v5.21h-1zM0 42.71h1v5.21h-1zM5 42.71h1v5.21h-1zM16 42.71h1v5.21h-1zM34 42.71h1v5.21h-1zM74 42.71h1v5.21h-1zM98 42.71h1v5.21h-1zM0 47.92h1v5.21h-1zM14 47.92h1v5.21h-1zM16 47.92h1v5.21h-1zM18 47.92h1v5.21h-1zM50 47.92h1v5.21h-1zM54 47.92h1v5.21h-1zM76 47.92h1v5.21h-1zM92 47.92h1v5.21h-1zM102 47.92h1v5.21h-1zM115 47.92h1v5.21h-1zM29 53.12h1v5.21h-1zM32 53.12h1v5.21h-1zM45 53.12h1v5.21h-1zM50 53.12h1v5.21h-1zM52 53.12h2v5.21h-2zM55 53.12h3v5.21h-3zM59 53.12h1v5.21h-1zM64 53.12h1v5.21h-1zM70 53.12h1v5.21h-1zM82 53.12h1v5.21h-1zM88 53.12h1v5.21h-1zM104 53.12h1v5.21h-1zM107 53.12h1v5.21h-1zM112 53.12h1v5.21h-1zM15 58.33h1v5.21h-1zM20 58.33h2v5.21h-2zM35 58.33h1v5.21h-1zM67 58.33h1v5.21h-1zM76 58.33h1v5.21h-1zM79 58.33h1v5.21h-1zM90 58.33h2v5.21h-2zM110 58.33h1v5.21h-1zM115 58.33h1v5.21h-1zM6 63.53h1v5.21h-1zM16 63.53h1v5.21h-1zM27 63.53h1v5.21h-1zM29 63.53h1v5.21h-1zM40 63.53h1v5.21h-1zM46 63.53h1v5.21h-1zM53 63.53h1v5.21h-1zM67 63.53h1v5.21h-1zM85 63.53h1v5.21h-1zM93 63.53h1v5.21h-1zM14 68.74h1v5.21h-1zM22 68.74h1v5.21h-1zM25 68.74h1v5.21h-1zM35 68.74h1v5.21h-1zM46 68.74h1v5.21h-1zM52 68.74h2v5.21h-2zM56 68.74h1v5.21h-1zM71 68.74h1v5.21h-1zM82 68.74h1v5.21h-1zM92 68.74h1v5.21h-1zM104 68.74h1v5.21h-1zM112 68.74h1v5.21h-1zM2 73.94h1v5.21h-1zM45 73.94h1v5.21h-1zM50 73.94h1v5.21h-1zM56 73.94h1v5.21h-1zM83 73.94h1v5.21h-1zM97 73.94h1v5.21h-1zM103 73.94h1v5.21h-1zM110 73.94h1v5.21h-1zM115 73.94h1v5.21h-1zM10 79.15h1v5.21h-1zM14 79.15h1v5.21h-1zM22 79.15h1v5.21h-1zM26 79.15h2v5.21h-2zM29 79.15h1v5.21h-1zM39 79.15h1v5.21h-1zM46 79.15h1v5.21h-1zM52 79.15h1v5.21h-1zM63 79.15h1v5.21h-1zM82 79.15h1v5.21h-1zM92 79.15h1v5.21h-1zM4 84.36h1v5.21h-1zM22 84.36h1v5.21h-1zM44 84.36h1v5.21h-1zM71 84.36h1v5.21h-1zM88 84.36h1v5.21h-1zM99 84.36h1v5.21h-1zM8 89.56h1v5.21h-1zM20 89.56h1v5.21h-1zM30 89.56h1v5.21h-1zM41 89.56h1v5.21h-1zM114 89.56h1v5.21h-1zM3 94.77h1v5.21h-1zM8 94.77h1v5.21h-1zM13 94.77h1v5.21h-1zM16 94.77h1v5.21h-1zM26 94.77h1v5.21h-1zM29 94.77h1v5.21h-1zM32 94.77h1v5.21h-1zM37 94.77h1v5.21h-1zM56 94.77h1v5.21h-1zM58 94.77h1v5.21h-1zM73 94.77h1v5.21h-1zM84 94.77h1v5.21h-1zM88 94.77h1v5.21h-1zM104 94.77h1v5.21h-1zM107 94.77h1v5.21h-1zM16 99.97h1v5.21h-1zM25 99.97h1v5.21h-1zM30 99.97h1v5.21h-1zM50 99.97h1v5.21h-1zM56 99.97h1v5.21h-1zM63 99.97h2v5.21h-2zM66 99.97h2v5.21h-2zM76 99.97h1v5.21h-1zM90 99.97h1v5.21h-1zM115 99.97h1v5.21h-1zM14 105.18h1v5.21h-1zM22 105.18h1v5.21h-1zM28 105.18h2v5.21h-2zM32 105.18h1v5.21h-1zM37 105.18h1v5.21h-1zM52 105.18h2v5.21h-2zM59 105.18h1v5.21h-1zM73 105.18h1v5.21h-1zM18 110.38h1v5.21h-1zM43 110.38h2v5.21h-2zM50 110.38h1v5.21h-1zM56 110.38h1v5.21h-1zM59 110.38h1v5.21h-1zM71 110.38h1v5.21h-1zM85 110.38h1v5.21h-1zM103 110.38h1v5.21h-1zM9 115.59h1v5.21h-1zM15 115.59h1v5.21h-1zM19 115.59h1v5.21h-1zM26 115.59h1v5.21h-1zM33 115.59h1v5.21h-1zM39 115.59h2v5.21h-2zM56 115.59h1v5.21h-1zM67 115.59h1v5.21h-1zM80 115.59h1v5.21h-1zM87 115.59h1v5.21h-1zM101 115.59h1v5.21h-1zM104 115.59h1v5.21h-1zM115 115.59h1v5.21h-1zM3 120.79h1v5.21h-1zM38 120.79h1v5.21h-1zM40 120.79h1v5.21h-1zM51 120.79h1v5.21h-1zM53 120.79h1v5.21h-1zM67 120.79h1v5.21h-1zM70 120.79h1v5.21h-1zM73 120.79h1v5.21h-1zM76 120.79h1v5.21h-1zM82 120.79h2v5.21h-2zM104 120.79h1v5.21h-1zM111 120.79h1v5.21h-1zM115 120.79h1v5.21h-1zM9 126.00h1v5.44h-1zM12 126.00h1v5.44h-1zM14 126.00h1v5.44h-1zM17 126.00h1v5.44h-1zM21 126.00h1v5.44h-1zM25 126.00h2v5.44h-2zM36 126.00h1v5.44h-1zM40 126.00h1v5.44h-1zM44 126.00h1v5.44h-1zM51 126.00h1v5.44h-1zM74 126.00h1v5.44h-1zM77 126.00h1v5.44h-1zM92 126.00h1v5.44h-1zM103 126.00h2v5.44h-2zM109 126.00h1v5.44h-1zM112 126.00h2v5.44h-2zM3 131.44h2v5.44h-2zM7 131.44h1v5.44h-1zM13 131.44h1v5.44h-1zM29 131.44h1v5.44h-1zM32 131.44h1v5.44h-1zM35 131.44h1v5.44h-1zM53 131.44h1v5.44h-1zM60 131.44h1v5.44h-1zM66 131.44h1v5.44h-1zM73 131.44h1v5.44h-1zM75 131.44h1v5.44h-1zM84 131.44h1v5.44h-1zM86 131.44h1v5.44h-1zM89 131.44h1v5.44h-1zM95 131.44h1v5.44h-1zM98 131.44h1v5.44h-1zM102 131.44h1v5.44h-1zM109 131.44h1v5.44h-1zM2 136.87h2v5.44h-2zM5 136.87h1v5.44h-1zM8 136.87h1v5.44h-1zM10 136.87h1v5.44h-1zM12 136.87h1v5.44h-1zM14 136.87h2v5.44h-2zM17 136.87h1v5.44h-1zM22 136.87h1v5.44h-1zM25 136.87h1v5.44h-1zM30 136.87h1v5.44h-1zM37 136.87h3v5.44h-3zM48 136.87h1v5.44h-1zM52 136.87h1v5.44h-1zM59 136.87h1v5.44h-1zM62 136.87h1v5.44h-1zM84 136.87h3v5.44h-3zM100 136.87h1v5.44h-1zM106 136.87h1v5.44h-1zM108 136.87h1v5.44h-1zM111 136.87h1v5.44h-1zM8 142.31h1v5.44h-1zM11 142.31h1v5.44h-1zM19 142.31h1v5.44h-1zM24 142.31h1v5.44h-1zM28 142.31h2v5.44h-2zM32 142.31h1v5.44h-1zM36 142.31h1v5.44h-1zM39 142.31h2v5.44h-2zM49 142.31h1v5.44h-1zM54 142.31h1v5.44h-1zM61 142.31h2v5.44h-2zM81 142.31h1v5.44h-1zM89 142.31h1v5.44h-1zM94 142.31h1v5.44h-1zM108 142.31h1v5.44h-1zM113 142.31h1v5.44h-1zM115 142.31h1v5.44h-1zM56 147.74h2v5.44h-2zM70 147.74h1v5.44h-1zM76 147.74h1v5.44h-1zM84 147.74h1v5.44h-1zM91 147.74h1v5.44h-1zM9 153.18h1v5.44h-1zM11 153.18h1v5.44h-1zM19 153.18h1v5.44h-1zM26 153.18h1v5.44h-1zM34 153.18h1v5.44h-1zM37 153.18h1v5.44h-1zM40 153.18h1v5.44h-1zM42 153.18h1v5.44h-1zM49 153.18h2v5.44h-2zM53 153.18h1v5.44h-1zM59 153.18h1v5.44h-1zM62 153.18h1v5.44h-1zM79 153.18h1v5.44h-1zM84 153.18h1v5.44h-1zM89 153.18h1v5.44h-1zM107 153.18h2v5.44h-2zM6 158.61h1v5.44h-1zM13 158.61h2v5.44h-2zM16 158.61h1v5.44h-1zM18 158.61h2v5.44h-2zM21 158.61h1v5.44h-1zM25 158.61h1v5.44h-1zM27 158.61h1v5.44h-1zM32 158.61h1v5.44h-1zM34 158.61h1v5.44h-1zM37 158.61h1v5.44h-1zM59 158.61h1v5.44h-1zM61 158.61h1v5.44h-1zM63 158.61h1v5.44h-1zM88 158.61h1v5.44h-1zM93 158.61h1v5.44h-1zM99 158.61h1v5.44h-1zM104 158.61h1v5.44h-1zM106 158.61h1v5.44h-1zM111 158.61h1v5.44h-1zM15 164.05h1v5.44h-1zM21 164.05h1v5.44h-1zM25 164.05h1v5.44h-1zM32 164.05h1v5.44h-1zM45 164.05h1v5.44h-1zM52 164.05h1v5.44h-1zM57 164.05h1v5.44h-1zM59 164.05h2v5.44h-2zM63 164.05h1v5.44h-1zM72 164.05h1v5.44h-1zM77 164.05h2v5.44h-2zM83 164.05h1v5.44h-1zM88 164.05h1v5.44h-1zM93 164.05h1v5.44h-1zM98 164.05h1v5.44h-1zM101 164.05h1v5.44h-1zM105 164.05h1v5.44h-1zM107 164.05h1v5.44h-1zM8 169.48h1v5.44h-1zM14 169.48h2v5.44h-2zM21 169.48h1v5.44h-1zM26 169.48h1v5.44h-1zM29 169.48h1v5.44h-1zM43 169.48h1v5.44h-1zM45 169.48h1v5.44h-1zM49 169.48h2v5.44h-2zM58 169.48h1v5.44h-1zM62 169.48h2v5.44h-2zM69 169.48h1v5.44h-1zM80 169.48h1v5.44h-1zM86 169.48h1v5.44h-1zM88 169.48h1v5.44h-1zM90 169.48h1v5.44h-1zM92 169.48h2v5.44h-2zM96 169.48h2v5.44h-2zM99 169.48h1v5.44h-1zM106 169.48h1v5.44h-1zM108 169.48h1v5.44h-1zM112 169.48h1v5.44h-1zM114 169.48h2v5.44h-2zM12 174.92h4v5.44h-4zM19 174.92h1v5.44h-1zM21 174.92h2v5.44h-2zM25 174.92h2v5.44h-2zM29 174.92h1v5.44h-1zM34 174.92h3v5.44h-3zM49 174.92h1v5.44h-1zM53 174.92h1v5.44h-1zM58 174.92h1v5.44h-1zM61 174.92h1v5.44h-1zM70 174.92h1v5.44h-1zM76 174.92h2v5.44h-2zM82 174.92h1v5.44h-1zM86 174.92h2v5.44h-2zM89 174.92h1v5.44h-1zM98 174.92h1v5.44h-1zM114 174.92h1v5.44h-1zM3 180.35h1v5.44h-1zM10 180.35h1v5.44h-1zM13 180.35h1v5.44h-1zM15 180.35h1v5.44h-1zM19 180.35h1v5.44h-1zM39 180.35h1v5.44h-1zM49 180.35h1v5.44h-1zM54 180.35h1v5.44h-1zM60 180.35h1v5.44h-1zM63 180.35h1v5.44h-1zM72 180.35h1v5.44h-1zM94 180.35h1v5.44h-1zM98 180.35h1v5.44h-1zM103 180.35h1v5.44h-1zM105 180.35h2v5.44h-2zM113 180.35h1v5.44h-1zM8 185.79h1v5.44h-1zM16 185.79h2v5.44h-2zM20 185.79h1v5.44h-1zM27 185.79h2v5.44h-2zM32 185.79h1v5.44h-1zM37 185.79h1v5.44h-1zM47 185.79h1v5.44h-1zM55 185.79h2v5.44h-2zM61 185.79h1v5.44h-1zM63 185.79h1v5.44h-1zM72 185.79h2v5.44h-2zM81 185.79h1v5.44h-1zM88 185.79h1v5.44h-1zM91 185.79h2v5.44h-2zM97 185.79h1v5.44h-1zM99 185.79h1v5.44h-1zM102 185.79h2v5.44h-2zM105 185.79h1v5.44h-1zM29 191.22h1v5.44h-1zM34 191.22h1v5.44h-1zM48 191.22h2v5.44h-2zM56 191.22h2v5.44h-2zM64 191.22h1v5.44h-1zM66 191.22h1v5.44h-1zM82 191.22h1v5.44h-1zM85 191.22h1v5.44h-1zM89 191.22h1v5.44h-1zM93 191.22h1v5.44h-1zM96 191.22h1v5.44h-1zM104 191.22h1v5.44h-1zM112 191.22h1v5.44h-1zM114 191.22h1v5.44h-1zM2 196.66h2v5.44h-2zM12 196.66h2v5.44h-2zM20 196.66h1v5.44h-1zM33 196.66h1v5.44h-1zM40 196.66h2v5.44h-2zM43 196.66h1v5.44h-1zM46 196.66h1v5.44h-1zM54 196.66h1v5.44h-1zM63 196.66h1v5.44h-1zM69 196.66h1v5.44h-1zM76 196.66h1v5.44h-1zM78 196.66h1v5.44h-1zM80 196.66h1v5.44h-1zM86 196.66h2v5.44h-2zM89 196.66h1v5.44h-1zM99 196.66h1v5.44h-1zM102 196.66h1v5.44h-1zM105 196.66h1v5.44h-1zM113 196.66h2v5.44h-2zM1 202.09h3v5.44h-3zM8 202.09h2v5.44h-2zM11 202.09h1v5.44h-1zM21 202.09h1v5.44h-1zM31 202.09h1v5.44h-1zM42 202.09h1v5.44h-1zM44 202.09h2v5.44h-2zM47 202.09h1v5.44h-1zM66 202.09h1v5.44h-1zM68 202.09h1v5.44h-1zM70 202.09h1v5.44h-1zM80 202.09h1v5.44h-1zM83 202.09h1v5.44h-1zM93 202.09h2v5.44h-2zM97 202.09h2v5.44h-2zM105 202.09h1v5.44h-1zM1 207.53h1v5.44h-1zM9 207.53h2v5.44h-2zM17 207.53h2v5.44h-2zM27 207.53h1v5.44h-1zM35 207.53h1v5.44h-1zM40 207.53h1v5.44h-1zM46 207.53h1v5.44h-1zM52 207.53h1v5.44h-1zM54 207.53h1v5.44h-1zM57 207.53h1v5.44h-1zM60 207.53h1v5.44h-1zM62 207.53h1v5.44h-1zM69 207.53h2v5.44h-2zM72 207.53h1v5.44h-1zM78 207.53h1v5.44h-1zM84 207.53h1v5.44h-1zM90 207.53h1v5.44h-1zM92 207.53h1v5.44h-1zM103 207.53h1v5.44h-1zM3 212.96h1v5.44h-1zM9 212.96h1v5.44h-1zM16 212.96h1v5.44h-1zM21 212.96h2v5.44h-2zM27 212.96h1v5.44h-1zM29 212.96h1v5.44h-1zM32 212.96h2v5.44h-2zM37 212.96h1v5.44h-1zM41 212.96h1v5.44h-1zM46 212.96h1v5.44h-1zM51 212.96h1v5.44h-1zM56 212.96h1v5.44h-1zM64 212.96h1v5.44h-1zM77 212.96h1v5.44h-1zM82 212.96h1v5.44h-1zM95 212.96h1v5.44h-1zM105 212.96h1v5.44h-1zM7 218.40h1v5.23h-1zM16 218.40h1v5.23h-1zM21 218.40h1v5.23h-1zM24 218.40h1v5.23h-1zM38 218.40h1v5.23h-1zM48 218.40h1v5.23h-1zM51 218.40h1v5.23h-1zM67 218.40h1v5.23h-1zM82 218.40h1v5.23h-1zM106 218.40h1v5.23h-1zM115 218.40h1v5.23h-1zM15 223.62h1v5.23h-1zM33 223.62h1v5.23h-1zM44 223.62h1v5.23h-1zM46 223.62h1v5.23h-1zM51 223.62h1v5.23h-1zM58 223.62h1v5.23h-1zM69 223.62h1v5.23h-1zM78 223.62h1v5.23h-1zM82 223.62h1v5.23h-1zM89 223.62h1v5.23h-1zM111 223.62h1v5.23h-1zM7 228.85h1v5.23h-1zM10 228.85h1v5.23h-1zM18 228.85h1v5.23h-1zM33 228.85h1v5.23h-1zM55 228.85h1v5.23h-1zM67 228.85h1v5.23h-1zM69 228.85h1v5.23h-1zM72 228.85h1v5.23h-1zM82 228.85h1v5.23h-1zM89 228.85h1v5.23h-1zM92 228.85h1v5.23h-1zM10 234.07h1v5.23h-1zM28 234.07h1v5.23h-1zM39 234.07h1v5.23h-1zM44 234.07h1v5.23h-1zM46 234.07h1v5.23h-1zM62 234.07h1v5.23h-1zM66 234.07h2v5.23h-2zM79 234.07h1v5.23h-1zM89 234.07h1v5.23h-1zM91 234.07h2v5.23h-2zM96 234.07h1v5.23h-1zM106 234.07h1v5.23h-1z"/>
<path fill="#0f4468" d="M16 5.10h1v5.10h-1zM26 5.10h1v5.10h-1zM30 5.10h1v5.10h-1zM40 5.10h1v5.10h-1zM46 5.10h1v5.10h-1zM60 5.10h1v5.10h-1zM64 5.10h1v5.10h-1zM68 5.10h1v5.10h-1zM71 5.10h1v5.10h-1zM93 5.10h1v5.10h-1zM96 5.10h1v5.10h-1zM68 10.20h1v5.10h-1zM90 10.20h1v5.10h-1zM105 10.20h1v5.10h-1zM110 10.20h1v5.10h-1zM114 10.20h1v5.10h-1zM48 15.30h1v5.10h-1zM65 15.30h1v5.10h-1zM96 15.30h1v5.10h-1zM100 15.30h1v5.10h-1zM108 15.30h1v5.10h-1zM22 20.40h1v5.95h-1zM28 20.40h1v5.95h-1zM31 20.40h1v5.95h-1zM45 20.40h1v5.95h-1zM55 20.40h1v5.95h-1zM62 20.40h1v5.95h-1zM66 20.40h1v5.95h-1zM68 20.40h1v5.95h-1zM71 20.40h1v5.95h-1zM109 20.40h1v5.95h-1zM20 26.35h1v5.95h-1zM22 26.35h1v5.95h-1zM52 26.35h1v5.95h-1zM59 26.35h1v5.95h-1zM68 26.35h1v5.95h-1zM81 26.35h1v5.95h-1zM92 26.35h1v5.95h-1zM98 26.35h1v5.95h-1zM100 26.35h1v5.95h-1zM14 32.30h1v5.21h-1zM18 32.30h1v5.21h-1zM46 32.30h1v5.21h-1zM49 32.30h1v5.21h-1zM76 32.30h1v5.21h-1zM88 32.30h1v5.21h-1zM110 32.30h1v5.21h-1zM14 37.51h1v5.21h-1zM18 37.51h1v5.21h-1zM97 37.51h1v5.21h-1zM14 42.71h1v5.21h-1zM38 42.71h1v5.21h-1zM53 42.71h1v5.21h-1zM57 42.71h1v5.21h-1zM67 42.71h1v5.21h-1zM89 42.71h1v5.21h-1zM92 42.71h1v5.21h-1zM106 42.71h1v5.21h-1zM111 42.71h1v5.21h-1zM30 47.92h1v5.21h-1zM97 47.92h1v5.21h-1zM99 47.92h1v5.21h-1zM109 47.92h1v5.21h-1zM83 53.12h1v5.21h-1zM16 58.33h1v5.21h-1zM46 58.33h1v5.21h-1zM50 58.33h1v5.21h-1zM73 58.33h1v5.21h-1zM87 58.33h1v5.21h-1zM92 63.53h1v5.21h-1zM111 63.53h1v5.21h-1zM67 68.74h1v5.21h-1zM97 68.74h1v5.21h-1zM111 68.74h1v5.21h-1zM23 73.94h1v5.21h-1zM61 73.94h1v5.21h-1zM67 73.94h1v5.21h-1zM73 73.94h1v5.21h-1zM93 73.94h1v5.21h-1zM113 73.94h1v5.21h-1zM47 79.15h1v5.21h-1zM57 79.15h1v5.21h-1zM79 79.15h1v5.21h-1zM93 79.15h1v5.21h-1zM110 79.15h1v5.21h-1zM18 84.36h1v5.21h-1zM40 84.36h1v5.21h-1zM56 84.36h1v5.21h-1zM67 84.36h1v5.21h-1zM93 84.36h1v5.21h-1zM33 89.56h1v5.21h-1zM44 89.56h1v5.21h-1zM79 89.56h1v5.21h-1zM88 89.56h1v5.21h-1zM92 89.56h1v5.21h-1zM97 89.56h1v5.21h-1zM14 94.77h1v5.21h-1zM50 94.77h1v5.21h-1zM115 94.77h1v5.21h-1zM0 99.97h1v5.21h-1zM12 99.97h1v5.21h-1zM29 99.97h1v5.21h-1zM33 99.97h1v5.21h-1zM73 99.97h1v5.21h-1zM77 99.97h1v5.21h-1zM88 99.97h1v5.21h-1zM104 99.97h1v5.21h-1zM110 99.97h1v5.21h-1zM24 105.18h1v5.21h-1zM45 105.18h1v5.21h-1zM71 105.18h1v5.21h-1zM93 105.18h1v5.21h-1zM16 110.38h1v5.21h-1zM32 110.38h1v5.21h-1zM70 110.38h1v5.21h-1zM73 110.38h1v5.21h-1zM18 115.59h1v5.21h-1zM22 115.59h1v5.21h-1zM83 115.59h1v5.21h-1zM112 115.59h1v5.21h-1zM14 120.79h1v5.21h-1zM33 120.79h1v5.21h-1zM39 120.79h1v5.21h-1zM59 120.79h1v5.21h-1zM66 120.79h1v5.21h-1zM88 120.79h1v5.21h-1zM110 120.79h1v5.21h-1zM15 126.00h1v5.44h-1zM22 126.00h1v5.44h-1zM28 126.00h1v5.44h-1zM32 126.00h1v5.44h-1zM37 126.00h2v5.44h-2zM47 126.00h1v5.44h-1zM49 126.00h1v5.44h-1zM72 126.00h1v5.44h-1zM75 126.00h2v5.44h-2zM88 126.00h1v5.44h-1zM93 126.00h1v5.44h-1zM108 126.00h1v5.44h-1zM110 126.00h1v5.44h-1zM0 131.44h1v5.44h-1zM5 131.44h1v5.44h-1zM12 131.44h1v5.44h-1zM15 131.44h1v5.44h-1zM20 131.44h1v5.44h-1zM24 131.44h1v5.44h-1zM27 131.44h1v5.44h-1zM37 131.44h1v5.44h-1zM42 131.44h1v5.44h-1zM44 131.44h1v5.44h-1zM54 131.44h1v5.44h-1zM61 131.44h1v5.44h-1zM64 131.44h1v5.44h-1zM67 131.44h1v5.44h-1zM85 131.44h1v5.44h-1zM90 131.44h2v5.44h-2zM99 131.44h1v5.44h-1zM103 131.44h1v5.44h-1zM111 131.44h1v5.44h-1zM113 131.44h2v5.44h-2zM11 136.87h1v5.44h-1zM24 136.87h1v5.44h-1zM32 136.87h1v5.44h-1zM42 136.87h1v5.44h-1zM46 136.87h1v5.44h-1zM66 136.87h1v5.44h-1zM87 136.87h1v5.44h-1zM91 136.87h1v5.44h-1zM98 136.87h2v5.44h-2zM114 136.87h1v5.44h-1zM7 142.31h1v5.44h-1zM10 142.31h1v5.44h-1zM14 142.31h1v5.44h-1zM21 142.31h1v5.44h-1zM31 142.31h1v5.44h-1zM43 142.31h1v5.44h-1zM59 142.31h1v5.44h-1zM66 142.31h1v5.44h-1zM77 142.31h1v5.44h-1zM92 142.31h1v5.44h-1zM105 142.31h1v5.44h-1zM111 142.31h1v5.44h-1zM114 142.31h1v5.44h-1zM19 147.74h1v5.44h-1zM33 147.74h1v5.44h-1zM37 147.74h1v5.44h-1zM40 147.74h1v5.44h-1zM42 147.74h1v5.44h-1zM55 147.74h1v5.44h-1zM69 147.74h1v5.44h-1zM79 147.74h1v5.44h-1zM8 153.18h1v5.44h-1zM20 153.18h1v5.44h-1zM23 153.18h1v5.44h-1zM31 153.18h2v5.44h-2zM39 153.18h1v5.44h-1zM44 153.18h1v5.44h-1zM66 153.18h1v5.44h-1zM80 153.18h1v5.44h-1zM86 153.18h3v5.44h-3zM91 153.18h1v5.44h-1zM99 153.18h1v5.44h-1zM103 153.18h1v5.44h-1zM115 153.18h1v5.44h-1zM8 158.61h1v5.44h-1zM12 158.61h1v5.44h-1zM22 158.61h1v5.44h-1zM24 158.61h1v5.44h-1zM40 158.61h2v5.44h-2zM45 158.61h3v5.44h-3zM51 158.61h1v5.44h-1zM57 158.61h1v5.44h-1zM60 158.61h1v5.44h-1zM64 158.61h1v5.44h-1zM72 158.61h1v5.44h-1zM75 158.61h1v5.44h-1zM78 158.61h1v5.44h-1zM86 158.61h1v5.44h-1zM90 158.61h1v5.44h-1zM97 158.61h2v5.44h-2zM101 158.61h1v5.44h-1zM108 158.61h1v5.44h-1zM114 158.61h2v5.44h-2zM5 164.05h1v5.44h-1zM7 164.05h1v5.44h-1zM9 164.05h1v5.44h-1zM12 164.05h2v5.44h-2zM17 164.05h1v5.44h-1zM24 164.05h1v5.44h-1zM36 164.05h1v5.44h-1zM39 164.05h1v5.44h-1zM42 164.05h2v5.44h-2zM53 164.05h1v5.44h-1zM73 164.05h1v5.44h-1zM75 164.05h1v5.44h-1zM94 164.05h1v5.44h-1zM97 164.05h1v5.44h-1zM103 164.05h1v5.44h-1zM106 164.05h1v5.44h-1zM109 164.05h1v5.44h-1zM113 164.05h1v5.44h-1zM115 164.05h1v5.44h-1zM3 169.48h1v5.44h-1zM5 169.48h1v5.44h-1zM18 169.48h1v5.44h-1zM20 169.48h1v5.44h-1zM23 169.48h1v5.44h-1zM27 169.48h1v5.44h-1zM34 169.48h1v5.44h-1zM46 169.48h3v5.44h-3zM51 169.48h1v5.44h-1zM74 169.48h1v5.44h-1zM84 169.48h2v5.44h-2zM87 169.48h1v5.44h-1zM89 169.48h1v5.44h-1zM91 169.48h1v5.44h-1zM103 169.48h1v5.44h-1zM113 169.48h1v5.44h-1zM0 174.92h1v5.44h-1zM5 174.92h1v5.44h-1zM8 174.92h2v5.44h-2zM11 174.92h1v5.44h-1zM20 174.92h1v5.44h-1zM24 174.92h1v5.44h-1zM28 174.92h1v5.44h-1zM33 174.92h1v5.44h-1zM42 174.92h1v5.44h-1zM55 174.92h2v5.44h-2zM59 174.92h1v5.44h-1zM62 174.92h1v5.44h-1zM81 174.92h1v5.44h-1zM88 174.92h1v5.44h-1zM94 174.92h1v5.44h-1zM97 174.92h1v5.44h-1zM111 174.92h3v5.44h-3zM2 180.35h1v5.44h-1zM17 180.35h1v5.44h-1zM25 180.35h1v5.44h-1zM40 180.35h3v5.44h-3zM83 180.35h1v5.44h-1zM88 180.35h1v5.44h-1zM91 180.35h1v5.44h-1zM99 180.35h1v5.44h-1zM10 185.79h1v5.44h-1zM14 185.79h1v5.44h-1zM21 185.79h1v5.44h-1zM23 185.79h1v5.44h-1zM26 185.79h1v5.44h-1zM29 185.79h1v5.44h-1zM45 185.79h1v5.44h-1zM54 185.79h1v5.44h-1zM59 185.79h2v5.44h-2zM66 185.79h1v5.44h-1zM75 185.79h1v5.44h-1zM86 185.79h1v5.44h-1zM93 185.79h1v5.44h-1zM108 185.79h1v5.44h-1zM111 185.79h1v5.44h-1zM4 191.22h1v5.44h-1zM6 191.22h2v5.44h-2zM9 191.22h1v5.44h-1zM13 191.22h2v5.44h-2zM23 191.22h1v5.44h-1zM25 191.22h1v5.44h-1zM35 191.22h1v5.44h-1zM44 191.22h1v5.44h-1zM50 191.22h1v5.44h-1zM68 191.22h1v5.44h-1zM88 191.22h1v5.44h-1zM108 191.22h1v5.44h-1zM113 191.22h1v5.44h-1zM18 196.66h1v5.44h-1zM23 196.66h1v5.44h-1zM28 196.66h1v5.44h-1zM31 196.66h1v5.44h-1zM37 196.66h3v5.44h-3zM42 196.66h1v5.44h-1zM47 196.66h1v5.44h-1zM55 196.66h1v5.44h-1zM57 196.66h1v5.44h-1zM66 196.66h1v5.44h-1zM81 196.66h1v5.44h-1zM83 196.66h2v5.44h-2zM108 196.66h1v5.44h-1zM115 196.66h1v5.44h-1zM14 202.09h1v5.44h-1zM22 202.09h2v5.44h-2zM77 202.09h1v5.44h-1zM111 202.09h1v5.44h-1zM113 202.09h1v5.44h-1zM115 202.09h1v5.44h-1zM0 207.53h1v5.44h-1zM5 207.53h1v5.44h-1zM11 207.53h1v5.44h-1zM15 207.53h1v5.44h-1zM19 207.53h2v5.44h-2zM25 207.53h1v5.44h-1zM28 207.53h1v5.44h-1zM37 207.53h1v5.44h-1zM42 207.53h1v5.44h-1zM44 207.53h1v5.44h-1zM50 207.53h2v5.44h-2zM63 207.53h1v5.44h-1zM68 207.53h1v5.44h-1zM75 207.53h1v5.44h-1zM79 207.53h1v5.44h-1zM93 207.53h2v5.44h-2zM98 207.53h1v5.44h-1zM102 207.53h1v5.44h-1zM105 207.53h2v5.44h-2zM108 207.53h1v5.44h-1zM111 207.53h1v5.44h-1zM114 207.53h1v5.44h-1zM1 212.96h1v5.44h-1zM11 212.96h3v5.44h-3zM15 212.96h1v5.44h-1zM18 212.96h3v5.44h-3zM24 212.96h1v5.44h-1zM34 212.96h2v5.44h-2zM59 212.96h1v5.44h-1zM63 212.96h1v5.44h-1zM69 212.96h2v5.44h-2zM76 212.96h1v5.44h-1zM78 212.96h1v5.44h-1zM80 212.96h1v5.44h-1zM85 212.96h1v5.44h-1zM88 212.96h1v5.44h-1zM94 212.96h1v5.44h-1zM97 212.96h1v5.44h-1zM99 212.96h1v5.44h-1zM104 212.96h1v5.44h-1zM107 212.96h1v5.44h-1zM19 218.40h1v5.23h-1zM44 218.40h1v5.23h-1zM47 218.40h1v5.23h-1zM58 218.40h1v5.23h-1zM71 218.40h1v5.23h-1zM9 223.62h1v5.23h-1zM38 223.62h2v5.23h-2zM91 223.62h1v5.23h-1zM96 223.62h1v5.23h-1zM106 223.62h1v5.23h-1zM115 223.62h1v5.23h-1zM17 228.85h1v5.23h-1zM19 228.85h1v5.23h-1zM23 228.85h1v5.23h-1zM29 228.85h1v5.23h-1zM53 228.85h1v5.23h-1zM58 228.85h1v5.23h-1zM106 228.85h1v5.23h-1zM111 228.85h1v5.23h-1zM7 234.07h1v5.23h-1zM9 234.07h1v5.23h-1zM13 234.07h1v5.23h-1zM17 234.07h1v5.23h-1zM19 234.07h1v5.23h-1zM23 234.07h1v5.23h-1zM36 234.07h2v5.23h-2zM42 234.07h1v5.23h-1zM45 234.07h1v5.23h-1zM48 234.07h1v5.23h-1zM87 234.07h1v5.23h-1zM113 234.07h1v5.23h-1z"/>
<path fill="#176496" d="M72 0.00h2v5.10h-2zM93 0.00h1v5.10h-1zM111 0.00h1v5.10h-1zM3 5.10h1v5.10h-1zM32 5.10h1v5.10h-1zM111 5.10h2v5.10h-2zM115 5.10h1v5.10h-1zM73 15.30h1v5.10h-1zM86 15.30h1v5.10h-1zM93 15.30h1v5.10h-1zM84 20.40h1v5.95h-1zM32 26.35h1v5.95h-1zM38 26.35h1v5.95h-1zM58 26.35h1v5.95h-1zM79 26.35h1v5.95h-1zM56 32.30h1v5.21h-1zM61 37.51h1v5.21h-1zM67 37.51h1v5.21h-1zM93 37.51h1v5.21h-1zM112 37.51h1v5.21h-1zM59 42.71h1v5.21h-1zM94 42.71h1v5.21h-1zM33 53.12h1v5.21h-1zM39 53.12h1v5.21h-1zM44 53.12h1v5.21h-1zM61 53.12h1v5.21h-1zM115 53.12h1v5.21h-1zM56 58.33h1v5.21h-1zM15 63.53h1v5.21h-1zM50 63.53h1v5.21h-1zM88 63.53h1v5.21h-1zM97 63.53h1v5.21h-1zM34 68.74h1v5.21h-1zM89 68.74h1v5.21h-1zM94 68.74h1v5.21h-1zM104 73.94h1v5.21h-1zM0 79.15h1v5.21h-1zM88 79.15h1v5.21h-1zM97 79.15h1v5.21h-1zM104 79.15h1v5.21h-1zM0 84.36h1v5.21h-1zM14 84.36h1v5.21h-1zM27 84.36h1v5.21h-1zM36 84.36h1v5.21h-1zM57 84.36h1v5.21h-1zM97 84.36h1v5.21h-1zM4 89.56h1v5.21h-1zM16 89.56h1v5.21h-1zM113 89.56h1v5.21h-1zM23 94.77h1v5.21h-1zM67 94.77h1v5.21h-1zM92 94.77h1v5.21h-1zM111 94.77h1v5.21h-1zM21 105.18h1v5.21h-1zM41 105.18h1v5.21h-1zM50 105.18h1v5.21h-1zM56 105.18h1v5.21h-1zM107 105.18h1v5.21h-1zM39 110.38h1v5.21h-1zM46 110.38h1v5.21h-1zM14 115.59h1v5.21h-1zM16 115.59h1v5.21h-1zM16 120.79h1v5.21h-1zM45 120.79h1v5.21h-1zM56 120.79h1v5.21h-1zM112 120.79h1v5.21h-1zM1 126.00h2v5.44h-2zM8 126.00h1v5.44h-1zM24 126.00h1v5.44h-1zM27 126.00h1v5.44h-1zM29 126.00h2v5.44h-2zM48 126.00h1v5.44h-1zM53 126.00h1v5.44h-1zM69 126.00h1v5.44h-1zM89 126.00h1v5.44h-1zM105 126.00h1v5.44h-1zM111 126.00h1v5.44h-1zM10 131.44h1v5.44h-1zM17 131.44h1v5.44h-1zM19 131.44h1v5.44h-1zM22 131.44h1v5.44h-1zM26 131.44h1v5.44h-1zM31 131.44h1v5.44h-1zM38 131.44h1v5.44h-1zM40 131.44h1v5.44h-1zM47 131.44h2v5.44h-2zM97 131.44h1v5.44h-1zM105 131.44h1v5.44h-1zM26 136.87h1v5.44h-1zM43 136.87h1v5.44h-1zM54 136.87h1v5.44h-1zM76 136.87h1v5.44h-1zM81 136.87h1v5.44h-1zM112 136.87h1v5.44h-1zM4 142.31h1v5.44h-1zM23 142.31h1v5.44h-1zM38 142.31h1v5.44h-1zM60 142.31h1v5.44h-1zM76 142.31h1v5.44h-1zM82 142.31h1v5.44h-1zM101 142.31h1v5.44h-1zM104 142.31h1v5.44h-1zM4 147.74h3v5.44h-3zM13 147.74h1v5.44h-1zM16 147.74h1v5.44h-1zM26 147.74h2v5.44h-2zM29 147.74h1v5.44h-1zM39 147.74h1v5.44h-1zM41 147.74h1v5.44h-1zM46 147.74h1v5.44h-1zM49 147.74h1v5.44h-1zM51 147.74h1v5.44h-1zM53 147.74h1v5.44h-1zM93 147.74h1v5.44h-1zM2 153.18h1v5.44h-1zM75 153.18h1v5.44h-1zM105 153.18h1v5.44h-1zM111 153.18h1v5.44h-1zM113 153.18h1v5.44h-1zM2 158.61h1v5.44h-1zM15 158.61h1v5.44h-1zM23 158.61h1v5.44h-1zM35 158.61h1v5.44h-1zM39 158.61h1v5.44h-1zM42 158.61h1v5.44h-1zM50 158.61h1v5.44h-1zM69 158.61h1v5.44h-1zM2 164.05h1v5.44h-1zM14 164.05h1v5.44h-1zM18 164.05h1v5.44h-1zM22 164.05h2v5.44h-2zM27 164.05h1v5.44h-1zM30 164.05h1v5.44h-1zM38 164.05h1v5.44h-1zM40 164.05h1v5.44h-1zM47 164.05h1v5.44h-1zM50 164.05h1v5.44h-1zM62 164.05h1v5.44h-1zM69 164.05h1v5.44h-1zM76 164.05h1v5.44h-1zM80 164.05h1v5.44h-1zM91 164.05h1v5.44h-1zM112 164.05h1v5.44h-1zM2 169.48h1v5.44h-1zM9 169.48h1v5.44h-1zM31 169.48h2v5.44h-2zM37 169.48h1v5.44h-1zM52 169.48h4v5.44h-4zM76 169.48h1v5.44h-1zM81 169.48h1v5.44h-1zM105 169.48h1v5.44h-1zM17 174.92h2v5.44h-2zM23 174.92h1v5.44h-1zM47 174.92h1v5.44h-1zM50 174.92h1v5.44h-1zM52 174.92h1v5.44h-1zM57 174.92h1v5.44h-1zM66 174.92h1v5.44h-1zM69 174.92h1v5.44h-1zM84 174.92h1v5.44h-1zM91 174.92h1v5.44h-1zM93 174.92h1v5.44h-1zM38 180.35h1v5.44h-1zM46 180.35h1v5.44h-1zM76 180.35h1v5.44h-1zM78 180.35h1v5.44h-1zM111 180.35h1v5.44h-1zM2 185.79h1v5.44h-1zM11 185.79h1v5.44h-1zM38 185.79h1v5.44h-1zM41 185.79h1v5.44h-1zM43 185.79h1v5.44h-1zM48 185.79h1v5.44h-1zM62 185.79h1v5.44h-1zM76 185.79h2v5.44h-2zM112 185.79h2v5.44h-2zM1 191.22h1v5.44h-1zM12 191.22h1v5.44h-1zM16 191.22h3v5.44h-3zM20 191.22h1v5.44h-1zM33 191.22h1v5.44h-1zM46 191.22h1v5.44h-1zM69 191.22h1v5.44h-1zM73 191.22h2v5.44h-2zM76 191.22h1v5.44h-1zM95 191.22h1v5.44h-1zM115 191.22h1v5.44h-1zM8 196.66h1v5.44h-1zM15 196.66h1v5.44h-1zM25 196.66h1v5.44h-1zM27 196.66h1v5.44h-1zM29 196.66h1v5.44h-1zM36 196.66h1v5.44h-1zM68 196.66h1v5.44h-1zM70 196.66h1v5.44h-1zM73 196.66h1v5.44h-1zM91 196.66h1v5.44h-1zM93 196.66h1v5.44h-1zM38 202.09h1v5.44h-1zM54 202.09h1v5.44h-1zM91 202.09h1v5.44h-1zM99 202.09h1v5.44h-1zM109 202.09h1v5.44h-1zM2 207.53h2v5.44h-2zM8 207.53h1v5.44h-1zM12 207.53h1v5.44h-1zM22 207.53h1v5.44h-1zM24 207.53h1v5.44h-1zM29 207.53h1v5.44h-1zM34 207.53h1v5.44h-1zM53 207.53h1v5.44h-1zM59 207.53h1v5.44h-1zM64 207.53h1v5.44h-1zM81 207.53h1v5.44h-1zM89 207.53h1v5.44h-1zM109 207.53h1v5.44h-1zM14 212.96h1v5.44h-1zM17 212.96h1v5.44h-1zM25 212.96h1v5.44h-1zM30 212.96h1v5.44h-1zM38 212.96h1v5.44h-1zM42 212.96h1v5.44h-1zM44 212.96h1v5.44h-1zM54 212.96h1v5.44h-1zM65 212.96h1v5.44h-1zM81 212.96h1v5.44h-1zM89 212.96h1v5.44h-1zM91 212.96h1v5.44h-1zM111 212.96h1v5.44h-1zM115 212.96h1v5.44h-1zM6 218.40h1v5.23h-1zM13 218.40h1v5.23h-1zM26 218.40h1v5.23h-1zM31 218.40h1v5.23h-1zM69 218.40h1v5.23h-1zM8 223.62h1v5.23h-1zM13 223.62h2v5.23h-2zM17 223.62h1v5.23h-1zM23 223.62h1v5.23h-1zM36 223.62h2v5.23h-2zM42 223.62h1v5.23h-1zM71 223.62h1v5.23h-1zM112 223.62h1v5.23h-1zM37 228.85h1v5.23h-1zM43 228.85h1v5.23h-1zM45 228.85h2v5.23h-2zM48 228.85h1v5.23h-1zM51 228.85h1v5.23h-1zM71 228.85h1v5.23h-1zM112 228.85h1v5.23h-1zM6 234.07h1v5.23h-1zM8 234.07h1v5.23h-1zM26 234.07h1v5.23h-1zM31 234.07h1v5.23h-1zM71 234.07h1v5.23h-1zM111 234.07h1v5.23h-1z"/>
<path fill="#2090cc" d="M59 0.00h1v5.10h-1zM99 0.00h1v5.10h-1zM31 5.10h1v5.10h-1zM63 15.30h1v5.10h-1zM42 20.40h1v5.95h-1zM52 20.40h1v5.95h-1zM21 26.35h1v5.95h-1zM55 26.35h1v5.95h-1zM111 26.35h1v5.95h-1zM4 37.51h1v5.21h-1zM62 37.51h1v5.21h-1zM100 37.51h1v5.21h-1zM76 42.71h1v5.21h-1zM101 42.71h1v5.21h-1zM4 47.92h1v5.21h-1zM3 58.33h1v5.21h-1zM41 58.33h1v5.21h-1zM71 58.33h1v5.21h-1zM97 58.33h1v5.21h-1zM56 63.53h1v5.21h-1zM74 63.53h1v5.21h-1zM16 73.94h1v5.21h-1zM53 73.94h1v5.21h-1zM32 79.15h1v5.21h-1zM53 89.56h1v5.21h-1zM68 94.77h1v5.21h-1zM14 99.97h1v5.21h-1zM21 99.97h1v5.21h-1zM77 105.18h1v5.21h-1zM97 110.38h1v5.21h-1zM46 115.59h1v5.21h-1zM53 115.59h1v5.21h-1zM97 115.59h1v5.21h-1zM110 115.59h1v5.21h-1zM97 120.79h1v5.21h-1zM102 120.79h1v5.21h-1zM3 126.00h1v5.44h-1zM7 126.00h1v5.44h-1zM31 126.00h1v5.44h-1zM42 126.00h2v5.44h-2zM46 126.00h1v5.44h-1zM99 126.00h1v5.44h-1zM8 131.44h1v5.44h-1zM28 131.44h1v5.44h-1zM36 131.44h1v5.44h-1zM43 131.44h1v5.44h-1zM50 131.44h1v5.44h-1zM93 131.44h1v5.44h-1zM108 131.44h1v5.44h-1zM19 136.87h1v5.44h-1zM93 136.87h1v5.44h-1zM104 136.87h1v5.44h-1zM48 142.31h1v5.44h-1zM8 147.74h1v5.44h-1zM12 147.74h1v5.44h-1zM15 147.74h1v5.44h-1zM17 147.74h1v5.44h-1zM20 147.74h1v5.44h-1zM25 147.74h1v5.44h-1zM28 147.74h1v5.44h-1zM77 147.74h1v5.44h-1zM81 147.74h1v5.44h-1zM85 147.74h1v5.44h-1zM89 147.74h1v5.44h-1zM98 147.74h2v5.44h-2zM48 153.18h1v5.44h-1zM52 153.18h1v5.44h-1zM64 153.18h1v5.44h-1zM76 153.18h1v5.44h-1zM93 153.18h1v5.44h-1zM97 153.18h1v5.44h-1zM112 153.18h1v5.44h-1zM4 158.61h1v5.44h-1zM29 158.61h1v5.44h-1zM33 158.61h1v5.44h-1zM43 158.61h2v5.44h-2zM82 158.61h1v5.44h-1zM105 158.61h1v5.44h-1zM26 164.05h1v5.44h-1zM28 164.05h1v5.44h-1zM37 164.05h1v5.44h-1zM70 164.05h1v5.44h-1zM108 164.05h1v5.44h-1zM110 164.05h2v5.44h-2zM114 164.05h1v5.44h-1zM10 169.48h1v5.44h-1zM38 169.48h1v5.44h-1zM42 169.48h1v5.44h-1zM66 169.48h1v5.44h-1zM40 174.92h1v5.44h-1zM43 174.92h1v5.44h-1zM48 174.92h1v5.44h-1zM115 174.92h1v5.44h-1zM30 180.35h1v5.44h-1zM47 180.35h1v5.44h-1zM44 185.79h1v5.44h-1zM2 191.22h2v5.44h-2zM10 191.22h2v5.44h-2zM15 191.22h1v5.44h-1zM21 191.22h2v5.44h-2zM38 191.22h1v5.44h-1zM42 191.22h1v5.44h-1zM58 191.22h1v5.44h-1zM60 191.22h1v5.44h-1zM75 191.22h1v5.44h-1zM94 191.22h1v5.44h-1zM10 196.66h1v5.44h-1zM112 196.66h1v5.44h-1zM20 202.09h1v5.44h-1zM40 202.09h1v5.44h-1zM43 202.09h1v5.44h-1zM64 202.09h1v5.44h-1zM13 207.53h1v5.44h-1zM16 207.53h1v5.44h-1zM23 207.53h1v5.44h-1zM36 207.53h1v5.44h-1zM38 207.53h2v5.44h-2zM40 212.96h1v5.44h-1zM48 212.96h1v5.44h-1zM92 212.96h1v5.44h-1zM112 212.96h1v5.44h-1zM8 218.40h2v5.23h-2zM37 218.40h1v5.23h-1zM42 218.40h2v5.23h-2zM92 218.40h1v5.23h-1zM108 218.40h1v5.23h-1zM111 218.40h3v5.23h-3zM6 223.62h1v5.23h-1zM28 223.62h1v5.23h-1zM31 223.62h1v5.23h-1zM43 223.62h1v5.23h-1zM113 223.62h1v5.23h-1zM6 228.85h1v5.23h-1zM9 228.85h1v5.23h-1zM14 228.85h1v5.23h-1zM31 228.85h1v5.23h-1zM42 228.85h1v5.23h-1zM78 228.85h1v5.23h-1zM108 228.85h1v5.23h-1zM113 228.85h1v5.23h-1zM51 234.07h1v5.23h-1zM69 234.07h1v5.23h-1z"/>
<path fill="#30b8ec" d="M65 0.00h1v5.10h-1zM43 5.10h1v5.10h-1zM49 5.10h1v5.10h-1zM67 5.10h1v5.10h-1zM72 5.10h2v5.10h-2zM86 5.10h1v5.10h-1zM91 5.10h1v5.10h-1zM98 10.20h1v5.10h-1zM106 10.20h1v5.10h-1zM21 20.40h1v5.95h-1zM32 20.40h1v5.95h-1zM27 26.35h1v5.95h-1zM42 26.35h1v5.95h-1zM45 26.35h1v5.95h-1zM80 26.35h1v5.95h-1zM84 26.35h1v5.95h-1zM42 37.51h1v5.21h-1zM40 42.71h1v5.21h-1zM82 42.71h1v5.21h-1zM93 42.71h1v5.21h-1zM3 47.92h1v5.21h-1zM48 47.92h1v5.21h-1zM110 47.92h1v5.21h-1zM7 58.33h1v5.21h-1zM52 58.33h1v5.21h-1zM82 58.33h1v5.21h-1zM18 63.53h1v5.21h-1zM113 63.53h1v5.21h-1zM3 73.94h1v5.21h-1zM43 79.15h1v5.21h-1zM50 79.15h1v5.21h-1zM15 84.36h1v5.21h-1zM79 84.36h1v5.21h-1zM56 89.56h1v5.21h-1zM93 89.56h1v5.21h-1zM107 89.56h1v5.21h-1zM20 94.77h1v5.21h-1zM97 94.77h1v5.21h-1zM55 99.97h1v5.21h-1zM46 105.18h1v5.21h-1zM95 105.18h1v5.21h-1zM114 105.18h1v5.21h-1zM67 110.38h1v5.21h-1zM110 110.38h1v5.21h-1zM36 115.59h1v5.21h-1zM11 126.00h1v5.44h-1zM19 126.00h1v5.44h-1zM23 126.00h1v5.44h-1zM96 126.00h1v5.44h-1zM98 126.00h1v5.44h-1zM2 131.44h1v5.44h-1zM21 131.44h1v5.44h-1zM59 131.44h1v5.44h-1zM96 136.87h1v5.44h-1zM2 142.31h1v5.44h-1zM50 142.31h1v5.44h-1zM93 142.31h1v5.44h-1zM97 142.31h1v5.44h-1zM0 147.74h4v5.44h-4zM7 147.74h1v5.44h-1zM9 147.74h3v5.44h-3zM14 147.74h1v5.44h-1zM18 147.74h1v5.44h-1zM21 147.74h2v5.44h-2zM24 147.74h1v5.44h-1zM30 147.74h2v5.44h-2zM34 147.74h3v5.44h-3zM38 147.74h1v5.44h-1zM43 147.74h3v5.44h-3zM47 147.74h1v5.44h-1zM50 147.74h1v5.44h-1zM52 147.74h1v5.44h-1zM54 147.74h1v5.44h-1zM58 147.74h1v5.44h-1zM66 147.74h2v5.44h-2zM71 147.74h1v5.44h-1zM73 147.74h1v5.44h-1zM97 147.74h1v5.44h-1zM113 147.74h1v5.44h-1zM10 153.18h1v5.44h-1zM22 153.18h1v5.44h-1zM77 153.18h1v5.44h-1zM104 153.18h1v5.44h-1zM3 158.61h1v5.44h-1zM10 158.61h1v5.44h-1zM38 158.61h1v5.44h-1zM79 158.61h1v5.44h-1zM103 158.61h1v5.44h-1zM112 158.61h1v5.44h-1zM10 164.05h1v5.44h-1zM16 164.05h1v5.44h-1zM20 164.05h1v5.44h-1zM31 164.05h1v5.44h-1zM35 164.05h1v5.44h-1zM48 164.05h1v5.44h-1zM51 164.05h1v5.44h-1zM86 164.05h1v5.44h-1zM7 169.48h1v5.44h-1zM28 169.48h1v5.44h-1zM33 169.48h1v5.44h-1zM36 169.48h1v5.44h-1zM41 169.48h1v5.44h-1zM94 169.48h1v5.44h-1zM2 174.92h2v5.44h-2zM10 174.92h1v5.44h-1zM37 174.92h1v5.44h-1zM44 174.92h1v5.44h-1zM102 174.92h1v5.44h-1zM43 180.35h1v5.44h-1zM3 185.79h1v5.44h-1zM22 185.79h1v5.44h-1zM89 185.79h1v5.44h-1zM0 191.22h1v5.44h-1zM24 191.22h1v5.44h-1zM26 191.22h3v5.44h-3zM30 191.22h3v5.44h-3zM40 191.22h1v5.44h-1zM43 191.22h1v5.44h-1zM47 191.22h1v5.44h-1zM52 191.22h4v5.44h-4zM59 191.22h1v5.44h-1zM78 191.22h1v5.44h-1zM81 191.22h1v5.44h-1zM98 191.22h1v5.44h-1zM102 191.22h1v5.44h-1zM59 196.66h1v5.44h-1zM41 202.09h1v5.44h-1zM53 202.09h1v5.44h-1zM59 202.09h1v5.44h-1zM108 202.09h1v5.44h-1zM14 207.53h1v5.44h-1zM30 207.53h2v5.44h-2zM43 207.53h1v5.44h-1zM47 207.53h1v5.44h-1zM49 207.53h1v5.44h-1zM86 207.53h1v5.44h-1zM91 207.53h1v5.44h-1zM101 207.53h1v5.44h-1zM112 207.53h2v5.44h-2zM10 212.96h1v5.44h-1zM23 212.96h1v5.44h-1zM43 212.96h1v5.44h-1zM47 212.96h1v5.44h-1zM55 212.96h1v5.44h-1zM57 212.96h1v5.44h-1zM98 212.96h1v5.44h-1zM101 212.96h1v5.44h-1zM108 212.96h1v5.44h-1zM14 218.40h1v5.23h-1zM25 218.40h1v5.23h-1zM28 218.40h1v5.23h-1zM45 218.40h2v5.23h-2zM57 218.40h1v5.23h-1zM25 223.62h2v5.23h-2zM57 223.62h1v5.23h-1zM108 223.62h1v5.23h-1zM13 228.85h1v5.23h-1zM25 228.85h2v5.23h-2zM28 228.85h1v5.23h-1zM57 228.85h1v5.23h-1zM14 234.07h1v5.23h-1zM25 234.07h1v5.23h-1zM43 234.07h1v5.23h-1zM57 234.07h1v5.23h-1zM108 234.07h1v5.23h-1z"/>
</svg>
<svg class="abs" style="left:288px;top:38.3px;filter:blur(0.55px)" width="132" height="239.30" viewBox="0 0 66 239.30" preserveAspectRatio="none">
<rect width="66" height="239.30" fill="#181818"/>
<path fill="#f0e800" d="M5 20.40h1v5.95h-1zM27 20.40h1v5.95h-1zM38 20.40h1v5.95h-1zM60 20.40h1v5.95h-1zM62 20.40h1v5.95h-1zM12 26.35h1v5.95h-1zM25 26.35h1v5.95h-1zM6 32.30h1v5.21h-1zM32 32.30h1v5.21h-1zM6 37.51h1v5.21h-1zM6 42.71h1v5.21h-1zM42 42.71h1v5.21h-1zM6 47.92h1v5.21h-1zM6 53.12h1v5.21h-1zM6 58.33h1v5.21h-1zM6 63.53h1v5.21h-1zM12 63.53h1v5.21h-1zM25 63.53h1v5.21h-1zM31 63.53h1v5.21h-1zM35 63.53h1v5.21h-1zM0 68.74h1v5.21h-1zM6 68.74h1v5.21h-1zM9 68.74h1v5.21h-1zM6 73.94h1v5.21h-1zM16 73.94h1v5.21h-1zM24 73.94h1v5.21h-1zM32 73.94h1v5.21h-1zM5 79.15h2v5.21h-2zM6 89.56h1v5.21h-1zM6 94.77h1v5.21h-1zM13 94.77h1v5.21h-1zM19 94.77h1v5.21h-1zM32 94.77h2v5.21h-2zM6 99.97h1v5.21h-1zM6 105.18h1v5.21h-1zM14 105.18h1v5.21h-1zM32 105.18h1v5.21h-1zM4 110.38h1v5.21h-1zM14 110.38h1v5.21h-1zM6 120.79h1v5.21h-1zM7 126.00h1v5.44h-1zM42 126.00h1v5.44h-1zM49 126.00h1v5.44h-1zM53 126.00h1v5.44h-1zM10 131.44h1v5.44h-1zM34 131.44h1v5.44h-1zM39 131.44h1v5.44h-1zM47 131.44h1v5.44h-1zM5 136.87h1v5.44h-1zM14 136.87h1v5.44h-1zM52 136.87h1v5.44h-1zM1 142.31h1v5.44h-1zM7 142.31h1v5.44h-1zM44 142.31h1v5.44h-1zM4 147.74h1v5.44h-1zM8 147.74h1v5.44h-1zM12 147.74h1v5.44h-1zM24 147.74h1v5.44h-1zM28 147.74h1v5.44h-1zM33 147.74h3v5.44h-3zM37 147.74h1v5.44h-1zM39 147.74h1v5.44h-1zM43 147.74h1v5.44h-1zM46 147.74h1v5.44h-1zM51 147.74h1v5.44h-1zM53 147.74h1v5.44h-1zM61 147.74h1v5.44h-1zM33 153.18h1v5.44h-1zM36 153.18h1v5.44h-1zM60 153.18h1v5.44h-1zM19 158.61h1v5.44h-1zM37 158.61h1v5.44h-1zM45 164.05h2v5.44h-2zM64 164.05h1v5.44h-1zM12 169.48h1v5.44h-1zM50 169.48h1v5.44h-1zM53 169.48h1v5.44h-1zM63 169.48h1v5.44h-1zM25 174.92h2v5.44h-2zM51 174.92h1v5.44h-1zM34 180.35h1v5.44h-1zM41 180.35h1v5.44h-1zM10 185.79h1v5.44h-1zM16 185.79h1v5.44h-1zM20 185.79h1v5.44h-1zM34 185.79h1v5.44h-1zM1 191.22h2v5.44h-2zM6 191.22h1v5.44h-1zM19 191.22h1v5.44h-1zM28 191.22h1v5.44h-1zM41 191.22h1v5.44h-1zM53 191.22h1v5.44h-1zM1 196.66h2v5.44h-2zM11 196.66h1v5.44h-1zM30 196.66h1v5.44h-1zM40 196.66h1v5.44h-1zM50 196.66h1v5.44h-1zM2 202.09h1v5.44h-1zM20 202.09h1v5.44h-1zM23 202.09h1v5.44h-1zM49 202.09h2v5.44h-2zM52 202.09h2v5.44h-2zM60 202.09h1v5.44h-1zM2 207.53h1v5.44h-1zM21 207.53h1v5.44h-1zM46 207.53h1v5.44h-1zM51 207.53h1v5.44h-1zM59 207.53h1v5.44h-1zM5 212.96h1v5.44h-1zM8 212.96h2v5.44h-2zM28 212.96h1v5.44h-1zM31 212.96h1v5.44h-1zM3 218.40h1v5.23h-1zM13 218.40h1v5.23h-1zM13 223.62h1v5.23h-1zM13 228.85h1v5.23h-1zM16 228.85h1v5.23h-1zM25 228.85h1v5.23h-1zM56 228.85h1v5.23h-1zM13 234.07h1v5.23h-1zM16 234.07h1v5.23h-1zM43 234.07h1v5.23h-1zM59 234.07h1v5.23h-1z"/>
<path fill="#d4cc08" d="M22 20.40h1v5.95h-1zM25 20.40h1v5.95h-1zM28 20.40h1v5.95h-1zM48 26.35h1v5.95h-1zM16 32.30h1v5.21h-1zM25 37.51h1v5.21h-1zM16 53.12h1v5.21h-1zM9 58.33h1v5.21h-1zM37 58.33h1v5.21h-1zM19 63.53h1v5.21h-1zM21 63.53h1v5.21h-1zM58 79.15h1v5.21h-1zM62 79.15h1v5.21h-1zM6 84.36h1v5.21h-1zM31 84.36h1v5.21h-1zM21 99.97h1v5.21h-1zM12 105.18h1v5.21h-1zM7 131.44h1v5.44h-1zM18 131.44h1v5.44h-1zM57 131.44h1v5.44h-1zM0 142.31h1v5.44h-1zM2 147.74h1v5.44h-1zM5 147.74h1v5.44h-1zM10 147.74h1v5.44h-1zM19 147.74h1v5.44h-1zM29 147.74h2v5.44h-2zM38 147.74h1v5.44h-1zM44 147.74h1v5.44h-1zM56 147.74h1v5.44h-1zM11 153.18h1v5.44h-1zM14 153.18h1v5.44h-1zM16 153.18h1v5.44h-1zM14 164.05h1v5.44h-1zM28 164.05h1v5.44h-1zM43 164.05h1v5.44h-1zM44 169.48h1v5.44h-1zM60 169.48h1v5.44h-1zM53 174.92h1v5.44h-1zM38 180.35h1v5.44h-1zM43 180.35h1v5.44h-1zM53 180.35h1v5.44h-1zM5 185.79h1v5.44h-1zM31 185.79h1v5.44h-1zM37 191.22h1v5.44h-1zM39 191.22h1v5.44h-1zM51 191.22h1v5.44h-1zM35 196.66h1v5.44h-1zM5 202.09h2v5.44h-2zM37 202.09h1v5.44h-1zM11 207.53h1v5.44h-1zM34 207.53h1v5.44h-1zM20 212.96h1v5.44h-1zM37 212.96h2v5.44h-2zM61 212.96h1v5.44h-1zM6 218.40h2v5.23h-2zM37 218.40h1v5.23h-1zM29 228.85h1v5.23h-1zM37 228.85h2v5.23h-2zM58 228.85h1v5.23h-1zM26 234.07h1v5.23h-1zM29 234.07h1v5.23h-1zM35 234.07h1v5.23h-1zM56 234.07h1v5.23h-1z"/>
<path fill="#b0aa0c" d="M35 0.00h2v5.10h-2zM58 0.00h1v5.10h-1zM6 5.10h1v5.10h-1zM36 10.20h1v5.10h-1zM16 15.30h1v5.10h-1zM17 20.40h1v5.95h-1zM21 37.51h1v5.21h-1zM21 42.71h1v5.21h-1zM31 42.71h1v5.21h-1zM3 47.92h1v5.21h-1zM21 47.92h1v5.21h-1zM25 53.12h1v5.21h-1zM39 53.12h1v5.21h-1zM14 58.33h1v5.21h-1zM20 58.33h1v5.21h-1zM31 58.33h1v5.21h-1zM32 63.53h1v5.21h-1zM37 63.53h1v5.21h-1zM60 63.53h1v5.21h-1zM5 68.74h1v5.21h-1zM15 73.94h1v5.21h-1zM17 79.15h1v5.21h-1zM31 79.15h1v5.21h-1zM39 84.36h1v5.21h-1zM25 89.56h1v5.21h-1zM31 89.56h1v5.21h-1zM13 99.97h1v5.21h-1zM28 99.97h1v5.21h-1zM31 99.97h1v5.21h-1zM42 99.97h1v5.21h-1zM19 105.18h1v5.21h-1zM6 110.38h1v5.21h-1zM19 110.38h1v5.21h-1zM37 110.38h1v5.21h-1zM3 115.59h1v5.21h-1zM16 115.59h1v5.21h-1zM25 115.59h1v5.21h-1zM32 115.59h1v5.21h-1zM19 120.79h1v5.21h-1zM21 120.79h1v5.21h-1zM28 120.79h1v5.21h-1zM8 126.00h1v5.44h-1zM11 126.00h1v5.44h-1zM30 126.00h1v5.44h-1zM40 126.00h2v5.44h-2zM56 126.00h1v5.44h-1zM64 126.00h2v5.44h-2zM59 131.44h1v5.44h-1zM36 136.87h1v5.44h-1zM44 136.87h1v5.44h-1zM2 142.31h1v5.44h-1zM8 142.31h1v5.44h-1zM19 142.31h1v5.44h-1zM56 142.31h1v5.44h-1zM6 147.74h1v5.44h-1zM17 147.74h1v5.44h-1zM22 147.74h2v5.44h-2zM26 147.74h1v5.44h-1zM31 147.74h1v5.44h-1zM40 147.74h2v5.44h-2zM45 147.74h1v5.44h-1zM49 147.74h1v5.44h-1zM57 147.74h1v5.44h-1zM59 147.74h2v5.44h-2zM63 147.74h2v5.44h-2zM2 153.18h2v5.44h-2zM10 153.18h1v5.44h-1zM23 153.18h1v5.44h-1zM28 153.18h1v5.44h-1zM41 153.18h1v5.44h-1zM48 153.18h1v5.44h-1zM61 153.18h1v5.44h-1zM65 153.18h1v5.44h-1zM23 158.61h1v5.44h-1zM16 164.05h1v5.44h-1zM32 164.05h1v5.44h-1zM36 164.05h1v5.44h-1zM44 164.05h1v5.44h-1zM56 164.05h1v5.44h-1zM5 169.48h1v5.44h-1zM7 169.48h1v5.44h-1zM28 169.48h1v5.44h-1zM55 169.48h1v5.44h-1zM14 174.92h1v5.44h-1zM20 174.92h1v5.44h-1zM44 174.92h1v5.44h-1zM44 180.35h1v5.44h-1zM52 180.35h1v5.44h-1zM52 185.79h1v5.44h-1zM61 185.79h1v5.44h-1zM5 191.22h1v5.44h-1zM7 191.22h1v5.44h-1zM12 191.22h1v5.44h-1zM25 191.22h1v5.44h-1zM35 191.22h1v5.44h-1zM43 191.22h1v5.44h-1zM46 191.22h2v5.44h-2zM52 191.22h1v5.44h-1zM61 191.22h2v5.44h-2zM65 191.22h1v5.44h-1zM9 196.66h1v5.44h-1zM0 202.09h1v5.44h-1zM3 202.09h1v5.44h-1zM8 202.09h1v5.44h-1zM12 202.09h1v5.44h-1zM32 202.09h1v5.44h-1zM36 202.09h1v5.44h-1zM43 202.09h1v5.44h-1zM28 207.53h1v5.44h-1zM40 212.96h1v5.44h-1zM52 212.96h1v5.44h-1zM16 218.40h1v5.23h-1zM36 218.40h1v5.23h-1zM43 218.40h1v5.23h-1zM47 218.40h1v5.23h-1zM58 218.40h1v5.23h-1zM6 223.62h2v5.23h-2zM26 223.62h1v5.23h-1zM29 223.62h1v5.23h-1zM36 223.62h1v5.23h-1zM54 223.62h1v5.23h-1zM6 228.85h2v5.23h-2zM10 228.85h1v5.23h-1zM33 228.85h1v5.23h-1zM43 228.85h1v5.23h-1zM6 234.07h2v5.23h-2zM24 234.07h1v5.23h-1zM28 234.07h1v5.23h-1zM36 234.07h1v5.23h-1z"/>
<path fill="#8a860c" d="M16 0.00h1v5.10h-1zM32 0.00h1v5.10h-1zM52 0.00h1v5.10h-1zM54 0.00h1v5.10h-1zM20 5.10h1v5.10h-1zM33 5.10h1v5.10h-1zM51 5.10h1v5.10h-1zM34 10.20h1v5.10h-1zM22 15.30h2v5.10h-2zM34 15.30h1v5.10h-1zM1 20.40h1v5.95h-1zM31 20.40h1v5.95h-1zM34 20.40h2v5.95h-2zM47 20.40h1v5.95h-1zM61 20.40h1v5.95h-1zM8 26.35h1v5.95h-1zM27 26.35h1v5.95h-1zM56 26.35h1v5.95h-1zM19 32.30h1v5.21h-1zM21 32.30h1v5.21h-1zM42 32.30h1v5.21h-1zM62 32.30h1v5.21h-1zM3 37.51h1v5.21h-1zM13 37.51h2v5.21h-2zM31 37.51h1v5.21h-1zM5 42.71h1v5.21h-1zM16 42.71h1v5.21h-1zM16 47.92h1v5.21h-1zM19 47.92h1v5.21h-1zM9 53.12h1v5.21h-1zM21 53.12h1v5.21h-1zM30 53.12h1v5.21h-1zM32 53.12h1v5.21h-1zM3 58.33h1v5.21h-1zM21 58.33h1v5.21h-1zM5 63.53h1v5.21h-1zM3 68.74h2v5.21h-2zM12 68.74h1v5.21h-1zM15 68.74h1v5.21h-1zM17 68.74h1v5.21h-1zM19 68.74h1v5.21h-1zM22 68.74h1v5.21h-1zM21 73.94h1v5.21h-1zM12 79.15h1v5.21h-1zM14 79.15h1v5.21h-1zM23 79.15h3v5.21h-3zM32 79.15h1v5.21h-1zM5 84.36h1v5.21h-1zM19 84.36h1v5.21h-1zM21 84.36h1v5.21h-1zM9 89.56h1v5.21h-1zM16 89.56h1v5.21h-1zM19 89.56h1v5.21h-1zM32 89.56h1v5.21h-1zM35 89.56h1v5.21h-1zM42 89.56h1v5.21h-1zM12 94.77h1v5.21h-1zM14 94.77h1v5.21h-1zM16 94.77h1v5.21h-1zM25 94.77h1v5.21h-1zM31 94.77h1v5.21h-1zM4 99.97h1v5.21h-1zM7 99.97h1v5.21h-1zM19 99.97h1v5.21h-1zM24 99.97h1v5.21h-1zM13 105.18h1v5.21h-1zM64 105.18h1v5.21h-1zM17 110.38h1v5.21h-1zM45 110.38h1v5.21h-1zM2 115.59h1v5.21h-1zM6 115.59h1v5.21h-1zM9 115.59h1v5.21h-1zM27 115.59h1v5.21h-1zM16 120.79h1v5.21h-1zM26 126.00h1v5.44h-1zM58 126.00h1v5.44h-1zM2 131.44h1v5.44h-1zM12 131.44h1v5.44h-1zM19 131.44h1v5.44h-1zM21 131.44h1v5.44h-1zM31 131.44h2v5.44h-2zM42 131.44h1v5.44h-1zM44 131.44h1v5.44h-1zM54 131.44h1v5.44h-1zM61 131.44h1v5.44h-1zM56 136.87h2v5.44h-2zM3 142.31h2v5.44h-2zM17 142.31h1v5.44h-1zM31 142.31h1v5.44h-1zM50 142.31h1v5.44h-1zM55 142.31h1v5.44h-1zM1 147.74h1v5.44h-1zM3 147.74h1v5.44h-1zM9 147.74h1v5.44h-1zM13 147.74h3v5.44h-3zM21 147.74h1v5.44h-1zM25 147.74h1v5.44h-1zM32 147.74h1v5.44h-1zM36 147.74h1v5.44h-1zM42 147.74h1v5.44h-1zM54 147.74h1v5.44h-1zM62 147.74h1v5.44h-1zM65 147.74h1v5.44h-1zM4 153.18h2v5.44h-2zM13 153.18h1v5.44h-1zM20 153.18h1v5.44h-1zM30 153.18h1v5.44h-1zM51 153.18h1v5.44h-1zM53 153.18h2v5.44h-2zM56 153.18h1v5.44h-1zM64 153.18h1v5.44h-1zM4 158.61h1v5.44h-1zM38 158.61h1v5.44h-1zM40 158.61h2v5.44h-2zM52 158.61h1v5.44h-1zM54 158.61h1v5.44h-1zM1 164.05h2v5.44h-2zM38 164.05h1v5.44h-1zM61 164.05h1v5.44h-1zM9 169.48h1v5.44h-1zM14 169.48h1v5.44h-1zM19 169.48h1v5.44h-1zM21 169.48h1v5.44h-1zM46 169.48h1v5.44h-1zM51 169.48h1v5.44h-1zM61 169.48h1v5.44h-1zM19 174.92h1v5.44h-1zM23 174.92h1v5.44h-1zM64 174.92h1v5.44h-1zM1 180.35h1v5.44h-1zM15 180.35h1v5.44h-1zM24 180.35h1v5.44h-1zM37 180.35h1v5.44h-1zM51 180.35h1v5.44h-1zM54 180.35h1v5.44h-1zM4 185.79h1v5.44h-1zM11 185.79h2v5.44h-2zM32 185.79h1v5.44h-1zM38 185.79h1v5.44h-1zM42 185.79h1v5.44h-1zM46 185.79h1v5.44h-1zM53 185.79h1v5.44h-1zM59 185.79h2v5.44h-2zM4 191.22h1v5.44h-1zM8 191.22h2v5.44h-2zM14 191.22h1v5.44h-1zM18 191.22h1v5.44h-1zM21 191.22h1v5.44h-1zM24 191.22h1v5.44h-1zM29 191.22h2v5.44h-2zM33 191.22h1v5.44h-1zM36 191.22h1v5.44h-1zM38 191.22h1v5.44h-1zM42 191.22h1v5.44h-1zM48 191.22h1v5.44h-1zM55 191.22h1v5.44h-1zM57 191.22h1v5.44h-1zM60 191.22h1v5.44h-1zM64 191.22h1v5.44h-1zM53 196.66h2v5.44h-2zM11 202.09h1v5.44h-1zM34 202.09h1v5.44h-1zM57 202.09h1v5.44h-1zM59 202.09h1v5.44h-1zM61 202.09h1v5.44h-1zM35 207.53h1v5.44h-1zM39 207.53h1v5.44h-1zM42 207.53h1v5.44h-1zM60 207.53h1v5.44h-1zM1 212.96h1v5.44h-1zM16 212.96h1v5.44h-1zM32 212.96h1v5.44h-1zM35 212.96h1v5.44h-1zM39 212.96h1v5.44h-1zM46 212.96h1v5.44h-1zM60 212.96h1v5.44h-1zM63 212.96h1v5.44h-1zM26 218.40h1v5.23h-1zM35 218.40h1v5.23h-1zM56 218.40h1v5.23h-1zM16 223.62h1v5.23h-1zM24 223.62h1v5.23h-1zM35 223.62h1v5.23h-1zM42 223.62h1v5.23h-1zM53 223.62h1v5.23h-1zM56 223.62h1v5.23h-1zM58 223.62h1v5.23h-1zM24 228.85h1v5.23h-1zM26 228.85h1v5.23h-1zM35 228.85h2v5.23h-2zM42 228.85h1v5.23h-1zM37 234.07h1v5.23h-1zM42 234.07h1v5.23h-1zM46 234.07h1v5.23h-1zM58 234.07h1v5.23h-1z"/>
<path fill="#5e5c08" d="M4 0.00h1v5.10h-1zM24 0.00h1v5.10h-1zM48 0.00h1v5.10h-1zM63 0.00h1v5.10h-1zM65 0.00h1v5.10h-1zM4 5.10h1v5.10h-1zM11 5.10h2v5.10h-2zM25 5.10h1v5.10h-1zM40 5.10h1v5.10h-1zM44 5.10h1v5.10h-1zM4 15.30h1v5.10h-1zM9 15.30h1v5.10h-1zM15 15.30h1v5.10h-1zM18 15.30h1v5.10h-1zM3 20.40h1v5.95h-1zM7 20.40h1v5.95h-1zM14 20.40h1v5.95h-1zM16 20.40h1v5.95h-1zM20 20.40h1v5.95h-1zM24 20.40h1v5.95h-1zM33 20.40h1v5.95h-1zM51 20.40h1v5.95h-1zM16 26.35h1v5.95h-1zM21 26.35h1v5.95h-1zM28 26.35h1v5.95h-1zM5 32.30h1v5.21h-1zM12 32.30h4v5.21h-4zM31 32.30h1v5.21h-1zM7 37.51h1v5.21h-1zM19 37.51h1v5.21h-1zM26 37.51h1v5.21h-1zM32 37.51h1v5.21h-1zM39 37.51h1v5.21h-1zM60 37.51h1v5.21h-1zM9 42.71h1v5.21h-1zM14 42.71h1v5.21h-1zM19 42.71h1v5.21h-1zM32 42.71h1v5.21h-1zM39 42.71h1v5.21h-1zM63 42.71h1v5.21h-1zM10 47.92h1v5.21h-1zM14 47.92h1v5.21h-1zM17 47.92h1v5.21h-1zM25 47.92h1v5.21h-1zM32 47.92h1v5.21h-1zM14 53.12h2v5.21h-2zM19 53.12h1v5.21h-1zM42 53.12h1v5.21h-1zM11 58.33h2v5.21h-2zM16 58.33h2v5.21h-2zM19 58.33h1v5.21h-1zM25 58.33h1v5.21h-1zM30 58.33h1v5.21h-1zM39 58.33h1v5.21h-1zM46 58.33h1v5.21h-1zM60 58.33h1v5.21h-1zM2 63.53h1v5.21h-1zM16 63.53h1v5.21h-1zM27 63.53h1v5.21h-1zM40 63.53h1v5.21h-1zM14 68.74h1v5.21h-1zM34 68.74h2v5.21h-2zM39 68.74h1v5.21h-1zM45 68.74h1v5.21h-1zM60 68.74h1v5.21h-1zM2 73.94h1v5.21h-1zM9 73.94h1v5.21h-1zM14 73.94h1v5.21h-1zM19 73.94h1v5.21h-1zM26 73.94h1v5.21h-1zM31 73.94h1v5.21h-1zM36 73.94h1v5.21h-1zM39 73.94h1v5.21h-1zM9 79.15h1v5.21h-1zM16 79.15h1v5.21h-1zM21 79.15h1v5.21h-1zM36 79.15h2v5.21h-2zM44 79.15h1v5.21h-1zM49 79.15h1v5.21h-1zM3 84.36h1v5.21h-1zM9 84.36h1v5.21h-1zM17 84.36h1v5.21h-1zM22 84.36h1v5.21h-1zM25 84.36h1v5.21h-1zM42 84.36h1v5.21h-1zM2 89.56h1v5.21h-1zM10 89.56h1v5.21h-1zM12 89.56h1v5.21h-1zM24 89.56h1v5.21h-1zM33 89.56h1v5.21h-1zM3 94.77h1v5.21h-1zM15 94.77h1v5.21h-1zM9 99.97h1v5.21h-1zM14 99.97h2v5.21h-2zM17 99.97h1v5.21h-1zM36 99.97h1v5.21h-1zM9 105.18h1v5.21h-1zM16 105.18h1v5.21h-1zM23 105.18h2v5.21h-2zM36 105.18h1v5.21h-1zM2 110.38h1v5.21h-1zM9 110.38h1v5.21h-1zM11 110.38h1v5.21h-1zM16 110.38h1v5.21h-1zM21 110.38h1v5.21h-1zM25 110.38h1v5.21h-1zM4 115.59h1v5.21h-1zM31 115.59h1v5.21h-1zM40 115.59h1v5.21h-1zM54 115.59h1v5.21h-1zM58 115.59h1v5.21h-1zM2 120.79h1v5.21h-1zM14 120.79h1v5.21h-1zM31 120.79h1v5.21h-1zM42 120.79h1v5.21h-1zM45 120.79h1v5.21h-1zM60 120.79h1v5.21h-1zM1 126.00h1v5.44h-1zM13 126.00h2v5.44h-2zM16 126.00h1v5.44h-1zM18 126.00h1v5.44h-1zM20 126.00h1v5.44h-1zM38 126.00h1v5.44h-1zM44 126.00h1v5.44h-1zM61 126.00h1v5.44h-1zM4 131.44h1v5.44h-1zM14 131.44h2v5.44h-2zM17 131.44h1v5.44h-1zM20 131.44h1v5.44h-1zM24 131.44h2v5.44h-2zM43 131.44h1v5.44h-1zM53 131.44h1v5.44h-1zM65 131.44h1v5.44h-1zM1 136.87h1v5.44h-1zM12 136.87h1v5.44h-1zM64 136.87h1v5.44h-1zM14 142.31h1v5.44h-1zM23 142.31h1v5.44h-1zM37 142.31h1v5.44h-1zM43 142.31h1v5.44h-1zM46 142.31h1v5.44h-1zM51 142.31h1v5.44h-1zM18 147.74h1v5.44h-1zM20 147.74h1v5.44h-1zM27 147.74h1v5.44h-1zM52 147.74h1v5.44h-1zM58 147.74h1v5.44h-1zM0 153.18h1v5.44h-1zM19 153.18h1v5.44h-1zM44 153.18h1v5.44h-1zM59 153.18h1v5.44h-1zM1 158.61h1v5.44h-1zM5 158.61h1v5.44h-1zM7 158.61h1v5.44h-1zM15 158.61h1v5.44h-1zM21 158.61h1v5.44h-1zM28 158.61h1v5.44h-1zM51 158.61h1v5.44h-1zM60 158.61h2v5.44h-2zM64 158.61h1v5.44h-1zM5 164.05h1v5.44h-1zM17 164.05h1v5.44h-1zM21 164.05h1v5.44h-1zM31 164.05h1v5.44h-1zM35 164.05h1v5.44h-1zM51 164.05h1v5.44h-1zM57 164.05h1v5.44h-1zM60 164.05h1v5.44h-1zM6 169.48h1v5.44h-1zM29 169.48h1v5.44h-1zM39 169.48h1v5.44h-1zM47 169.48h1v5.44h-1zM64 169.48h1v5.44h-1zM0 174.92h1v5.44h-1zM4 174.92h2v5.44h-2zM24 174.92h1v5.44h-1zM41 174.92h2v5.44h-2zM45 174.92h1v5.44h-1zM54 174.92h1v5.44h-1zM60 174.92h1v5.44h-1zM3 180.35h3v5.44h-3zM8 180.35h1v5.44h-1zM11 180.35h1v5.44h-1zM14 180.35h1v5.44h-1zM16 180.35h1v5.44h-1zM26 180.35h1v5.44h-1zM47 180.35h1v5.44h-1zM61 180.35h1v5.44h-1zM63 180.35h1v5.44h-1zM0 185.79h2v5.44h-2zM3 185.79h1v5.44h-1zM8 185.79h1v5.44h-1zM22 185.79h2v5.44h-2zM37 185.79h1v5.44h-1zM40 185.79h1v5.44h-1zM48 185.79h1v5.44h-1zM64 185.79h2v5.44h-2zM10 191.22h1v5.44h-1zM13 191.22h1v5.44h-1zM15 191.22h1v5.44h-1zM17 191.22h1v5.44h-1zM20 191.22h1v5.44h-1zM23 191.22h1v5.44h-1zM26 191.22h1v5.44h-1zM31 191.22h1v5.44h-1zM34 191.22h1v5.44h-1zM44 191.22h1v5.44h-1zM50 191.22h1v5.44h-1zM8 196.66h1v5.44h-1zM36 196.66h1v5.44h-1zM44 196.66h1v5.44h-1zM51 196.66h1v5.44h-1zM57 196.66h1v5.44h-1zM64 196.66h1v5.44h-1zM4 202.09h1v5.44h-1zM10 202.09h1v5.44h-1zM16 202.09h2v5.44h-2zM19 202.09h1v5.44h-1zM22 202.09h1v5.44h-1zM38 202.09h2v5.44h-2zM51 202.09h1v5.44h-1zM63 202.09h1v5.44h-1zM14 207.53h1v5.44h-1zM23 207.53h2v5.44h-2zM49 207.53h1v5.44h-1zM0 212.96h1v5.44h-1zM6 212.96h1v5.44h-1zM14 212.96h1v5.44h-1zM19 212.96h1v5.44h-1zM26 212.96h1v5.44h-1zM42 212.96h2v5.44h-2zM53 212.96h2v5.44h-2zM1 218.40h1v5.23h-1zM10 218.40h1v5.23h-1zM38 218.40h1v5.23h-1zM42 218.40h1v5.23h-1zM46 218.40h1v5.23h-1zM57 218.40h1v5.23h-1zM60 218.40h2v5.23h-2zM65 218.40h1v5.23h-1zM3 223.62h1v5.23h-1zM10 223.62h1v5.23h-1zM38 223.62h1v5.23h-1zM43 223.62h1v5.23h-1zM48 223.62h1v5.23h-1zM60 223.62h2v5.23h-2zM3 228.85h1v5.23h-1zM14 228.85h1v5.23h-1zM44 228.85h1v5.23h-1zM46 228.85h3v5.23h-3zM1 234.07h1v5.23h-1zM3 234.07h1v5.23h-1zM10 234.07h1v5.23h-1zM52 234.07h1v5.23h-1zM65 234.07h1v5.23h-1z"/>
<path fill="#343406" d="M1 0.00h1v5.10h-1zM5 0.00h1v5.10h-1zM17 0.00h1v5.10h-1zM20 0.00h2v5.10h-2zM40 0.00h2v5.10h-2zM44 0.00h1v5.10h-1zM50 0.00h1v5.10h-1zM56 0.00h1v5.10h-1zM61 0.00h1v5.10h-1zM1 5.10h1v5.10h-1zM8 5.10h1v5.10h-1zM17 5.10h2v5.10h-2zM34 5.10h2v5.10h-2zM39 5.10h1v5.10h-1zM52 5.10h1v5.10h-1zM61 5.10h2v5.10h-2zM65 5.10h1v5.10h-1zM12 10.20h1v5.10h-1zM1 15.30h1v5.10h-1zM19 15.30h1v5.10h-1zM35 15.30h1v5.10h-1zM44 15.30h1v5.10h-1zM46 15.30h1v5.10h-1zM51 15.30h1v5.10h-1zM58 15.30h2v5.10h-2zM63 15.30h3v5.10h-3zM12 20.40h1v5.95h-1zM21 20.40h1v5.95h-1zM26 20.40h1v5.95h-1zM30 20.40h1v5.95h-1zM44 20.40h1v5.95h-1zM49 20.40h1v5.95h-1zM57 20.40h1v5.95h-1zM64 20.40h1v5.95h-1zM2 26.35h1v5.95h-1zM38 26.35h1v5.95h-1zM3 32.30h2v5.21h-2zM10 32.30h2v5.21h-2zM17 32.30h1v5.21h-1zM22 32.30h1v5.21h-1zM25 32.30h1v5.21h-1zM35 32.30h1v5.21h-1zM39 32.30h1v5.21h-1zM43 32.30h1v5.21h-1zM58 32.30h2v5.21h-2zM16 37.51h1v5.21h-1zM36 37.51h1v5.21h-1zM40 37.51h1v5.21h-1zM2 42.71h1v5.21h-1zM12 42.71h2v5.21h-2zM17 42.71h1v5.21h-1zM22 42.71h1v5.21h-1zM25 42.71h1v5.21h-1zM46 42.71h1v5.21h-1zM2 47.92h1v5.21h-1zM15 47.92h1v5.21h-1zM33 47.92h1v5.21h-1zM36 47.92h1v5.21h-1zM42 47.92h1v5.21h-1zM54 47.92h1v5.21h-1zM59 47.92h1v5.21h-1zM5 53.12h1v5.21h-1zM11 53.12h2v5.21h-2zM22 53.12h1v5.21h-1zM37 53.12h1v5.21h-1zM2 58.33h1v5.21h-1zM32 58.33h1v5.21h-1zM35 58.33h1v5.21h-1zM38 58.33h1v5.21h-1zM48 58.33h1v5.21h-1zM4 63.53h1v5.21h-1zM11 63.53h1v5.21h-1zM15 63.53h1v5.21h-1zM17 63.53h1v5.21h-1zM36 63.53h1v5.21h-1zM42 63.53h1v5.21h-1zM2 68.74h1v5.21h-1zM10 68.74h1v5.21h-1zM16 68.74h1v5.21h-1zM25 68.74h1v5.21h-1zM33 68.74h1v5.21h-1zM42 68.74h1v5.21h-1zM52 68.74h1v5.21h-1zM3 73.94h1v5.21h-1zM5 73.94h1v5.21h-1zM17 73.94h1v5.21h-1zM25 73.94h1v5.21h-1zM37 73.94h1v5.21h-1zM59 73.94h2v5.21h-2zM64 73.94h1v5.21h-1zM2 79.15h2v5.21h-2zM7 79.15h1v5.21h-1zM13 79.15h1v5.21h-1zM15 79.15h1v5.21h-1zM42 79.15h1v5.21h-1zM54 79.15h1v5.21h-1zM60 79.15h1v5.21h-1zM2 84.36h1v5.21h-1zM14 84.36h1v5.21h-1zM46 84.36h1v5.21h-1zM3 89.56h1v5.21h-1zM13 89.56h1v5.21h-1zM15 89.56h1v5.21h-1zM17 89.56h1v5.21h-1zM27 89.56h1v5.21h-1zM37 89.56h1v5.21h-1zM58 89.56h1v5.21h-1zM5 94.77h1v5.21h-1zM8 94.77h2v5.21h-2zM17 94.77h2v5.21h-2zM21 94.77h2v5.21h-2zM27 94.77h1v5.21h-1zM34 94.77h1v5.21h-1zM36 94.77h1v5.21h-1zM39 94.77h1v5.21h-1zM42 94.77h1v5.21h-1zM2 99.97h2v5.21h-2zM10 99.97h1v5.21h-1zM34 99.97h2v5.21h-2zM39 99.97h1v5.21h-1zM60 99.97h1v5.21h-1zM62 99.97h1v5.21h-1zM3 105.18h1v5.21h-1zM11 105.18h1v5.21h-1zM17 105.18h1v5.21h-1zM25 105.18h1v5.21h-1zM31 105.18h1v5.21h-1zM40 105.18h1v5.21h-1zM46 105.18h1v5.21h-1zM63 105.18h1v5.21h-1zM3 110.38h1v5.21h-1zM5 110.38h1v5.21h-1zM22 110.38h1v5.21h-1zM34 110.38h1v5.21h-1zM42 110.38h1v5.21h-1zM12 115.59h2v5.21h-2zM15 115.59h1v5.21h-1zM17 115.59h1v5.21h-1zM21 115.59h1v5.21h-1zM37 115.59h1v5.21h-1zM39 115.59h1v5.21h-1zM59 115.59h2v5.21h-2zM64 115.59h1v5.21h-1zM5 120.79h1v5.21h-1zM12 120.79h1v5.21h-1zM17 120.79h1v5.21h-1zM22 120.79h2v5.21h-2zM30 120.79h1v5.21h-1zM32 120.79h3v5.21h-3zM0 126.00h1v5.44h-1zM2 126.00h1v5.44h-1zM5 126.00h1v5.44h-1zM19 126.00h1v5.44h-1zM28 126.00h2v5.44h-2zM33 126.00h1v5.44h-1zM39 126.00h1v5.44h-1zM50 126.00h2v5.44h-2zM55 126.00h1v5.44h-1zM59 126.00h2v5.44h-2zM63 126.00h1v5.44h-1zM22 131.44h1v5.44h-1zM26 131.44h1v5.44h-1zM37 131.44h1v5.44h-1zM46 131.44h1v5.44h-1zM49 131.44h1v5.44h-1zM64 131.44h1v5.44h-1zM2 136.87h1v5.44h-1zM8 136.87h1v5.44h-1zM10 136.87h1v5.44h-1zM20 136.87h1v5.44h-1zM22 136.87h1v5.44h-1zM26 136.87h1v5.44h-1zM28 136.87h1v5.44h-1zM41 136.87h1v5.44h-1zM45 136.87h3v5.44h-3zM51 136.87h1v5.44h-1zM53 136.87h2v5.44h-2zM60 136.87h2v5.44h-2zM10 142.31h3v5.44h-3zM29 142.31h2v5.44h-2zM35 142.31h1v5.44h-1zM59 142.31h1v5.44h-1zM62 142.31h1v5.44h-1zM64 142.31h1v5.44h-1zM11 147.74h1v5.44h-1zM16 147.74h1v5.44h-1zM50 147.74h1v5.44h-1zM55 147.74h1v5.44h-1zM1 153.18h1v5.44h-1zM12 153.18h1v5.44h-1zM15 153.18h1v5.44h-1zM29 153.18h1v5.44h-1zM31 153.18h1v5.44h-1zM37 153.18h1v5.44h-1zM39 153.18h1v5.44h-1zM42 153.18h1v5.44h-1zM45 153.18h1v5.44h-1zM49 153.18h1v5.44h-1zM57 153.18h2v5.44h-2zM6 158.61h1v5.44h-1zM11 158.61h2v5.44h-2zM18 158.61h1v5.44h-1zM26 158.61h1v5.44h-1zM43 158.61h1v5.44h-1zM50 158.61h1v5.44h-1zM56 158.61h1v5.44h-1zM0 164.05h1v5.44h-1zM6 164.05h1v5.44h-1zM8 164.05h1v5.44h-1zM19 164.05h1v5.44h-1zM26 164.05h1v5.44h-1zM29 164.05h1v5.44h-1zM34 164.05h1v5.44h-1zM40 164.05h2v5.44h-2zM47 164.05h3v5.44h-3zM52 164.05h1v5.44h-1zM55 164.05h1v5.44h-1zM59 164.05h1v5.44h-1zM63 164.05h1v5.44h-1zM3 169.48h1v5.44h-1zM11 169.48h1v5.44h-1zM22 169.48h1v5.44h-1zM24 169.48h1v5.44h-1zM30 169.48h2v5.44h-2zM35 169.48h2v5.44h-2zM49 169.48h1v5.44h-1zM52 169.48h1v5.44h-1zM59 169.48h1v5.44h-1zM2 174.92h1v5.44h-1zM11 174.92h2v5.44h-2zM46 174.92h1v5.44h-1zM48 174.92h1v5.44h-1zM57 174.92h1v5.44h-1zM59 174.92h1v5.44h-1zM0 180.35h1v5.44h-1zM7 180.35h1v5.44h-1zM19 180.35h2v5.44h-2zM23 180.35h1v5.44h-1zM32 180.35h1v5.44h-1zM35 180.35h1v5.44h-1zM56 180.35h1v5.44h-1zM14 185.79h1v5.44h-1zM41 185.79h1v5.44h-1zM43 185.79h1v5.44h-1zM47 185.79h1v5.44h-1zM51 185.79h1v5.44h-1zM57 185.79h1v5.44h-1zM3 191.22h1v5.44h-1zM16 191.22h1v5.44h-1zM49 191.22h1v5.44h-1zM58 191.22h1v5.44h-1zM7 196.66h1v5.44h-1zM12 196.66h2v5.44h-2zM18 196.66h1v5.44h-1zM25 196.66h1v5.44h-1zM28 196.66h1v5.44h-1zM38 196.66h2v5.44h-2zM41 196.66h2v5.44h-2zM46 196.66h2v5.44h-2zM52 196.66h1v5.44h-1zM56 196.66h1v5.44h-1zM59 196.66h1v5.44h-1zM63 196.66h1v5.44h-1zM7 202.09h1v5.44h-1zM24 202.09h1v5.44h-1zM41 202.09h1v5.44h-1zM45 202.09h2v5.44h-2zM54 202.09h1v5.44h-1zM62 202.09h1v5.44h-1zM65 202.09h1v5.44h-1zM5 207.53h1v5.44h-1zM7 207.53h1v5.44h-1zM13 207.53h1v5.44h-1zM19 207.53h1v5.44h-1zM25 207.53h1v5.44h-1zM37 207.53h1v5.44h-1zM55 207.53h1v5.44h-1zM57 207.53h2v5.44h-2zM7 212.96h1v5.44h-1zM11 212.96h1v5.44h-1zM13 212.96h1v5.44h-1zM17 212.96h1v5.44h-1zM24 212.96h1v5.44h-1zM29 212.96h2v5.44h-2zM41 212.96h1v5.44h-1zM44 212.96h1v5.44h-1zM49 212.96h1v5.44h-1zM51 212.96h1v5.44h-1zM55 212.96h3v5.44h-3zM2 218.40h1v5.23h-1zM9 218.40h1v5.23h-1zM12 218.40h1v5.23h-1zM14 218.40h1v5.23h-1zM18 218.40h1v5.23h-1zM53 218.40h2v5.23h-2zM59 218.40h1v5.23h-1zM1 223.62h2v5.23h-2zM14 223.62h1v5.23h-1zM34 223.62h1v5.23h-1zM52 223.62h1v5.23h-1zM59 223.62h1v5.23h-1zM1 228.85h2v5.23h-2zM4 228.85h1v5.23h-1zM18 228.85h1v5.23h-1zM20 228.85h1v5.23h-1zM53 228.85h1v5.23h-1zM57 228.85h1v5.23h-1zM60 228.85h2v5.23h-2zM2 234.07h1v5.23h-1zM12 234.07h1v5.23h-1zM17 234.07h1v5.23h-1zM34 234.07h1v5.23h-1zM38 234.07h1v5.23h-1zM54 234.07h1v5.23h-1zM57 234.07h1v5.23h-1z"/>
<path fill="#0a0b08" d="M3 0.00h1v5.10h-1zM6 0.00h1v5.10h-1zM8 0.00h2v5.10h-2zM12 0.00h1v5.10h-1zM18 0.00h2v5.10h-2zM22 0.00h2v5.10h-2zM34 0.00h1v5.10h-1zM39 0.00h1v5.10h-1zM42 0.00h1v5.10h-1zM46 0.00h1v5.10h-1zM49 0.00h1v5.10h-1zM51 0.00h1v5.10h-1zM60 0.00h1v5.10h-1zM62 0.00h1v5.10h-1zM3 5.10h1v5.10h-1zM9 5.10h2v5.10h-2zM19 5.10h1v5.10h-1zM22 5.10h1v5.10h-1zM27 5.10h1v5.10h-1zM38 5.10h1v5.10h-1zM42 5.10h1v5.10h-1zM48 5.10h1v5.10h-1zM56 5.10h1v5.10h-1zM63 5.10h1v5.10h-1zM5 15.30h1v5.10h-1zM8 15.30h1v5.10h-1zM17 15.30h1v5.10h-1zM29 15.30h1v5.10h-1zM31 15.30h1v5.10h-1zM36 15.30h1v5.10h-1zM38 15.30h1v5.10h-1zM42 15.30h1v5.10h-1zM49 15.30h2v5.10h-2zM52 15.30h1v5.10h-1zM55 15.30h2v5.10h-2zM61 15.30h1v5.10h-1zM36 20.40h1v5.95h-1zM40 20.40h2v5.95h-2zM43 20.40h1v5.95h-1zM45 20.40h1v5.95h-1zM48 20.40h1v5.95h-1zM50 20.40h1v5.95h-1zM59 20.40h1v5.95h-1zM65 20.40h1v5.95h-1zM5 26.35h1v5.95h-1zM17 26.35h1v5.95h-1zM35 26.35h1v5.95h-1zM39 26.35h1v5.95h-1zM44 26.35h1v5.95h-1zM63 26.35h1v5.95h-1zM24 32.30h1v5.21h-1zM27 32.30h1v5.21h-1zM36 32.30h2v5.21h-2zM4 37.51h2v5.21h-2zM10 37.51h1v5.21h-1zM12 37.51h1v5.21h-1zM17 37.51h1v5.21h-1zM42 37.51h1v5.21h-1zM63 37.51h1v5.21h-1zM65 37.51h1v5.21h-1zM3 42.71h1v5.21h-1zM27 42.71h4v5.21h-4zM37 42.71h1v5.21h-1zM57 42.71h2v5.21h-2zM60 42.71h1v5.21h-1zM9 47.92h1v5.21h-1zM12 47.92h1v5.21h-1zM26 47.92h1v5.21h-1zM29 47.92h3v5.21h-3zM34 47.92h1v5.21h-1zM37 47.92h1v5.21h-1zM39 47.92h1v5.21h-1zM49 47.92h1v5.21h-1zM51 47.92h1v5.21h-1zM60 47.92h1v5.21h-1zM64 47.92h1v5.21h-1zM0 53.12h1v5.21h-1zM2 53.12h1v5.21h-1zM4 53.12h1v5.21h-1zM10 53.12h1v5.21h-1zM13 53.12h1v5.21h-1zM17 53.12h1v5.21h-1zM20 53.12h1v5.21h-1zM26 53.12h1v5.21h-1zM33 53.12h4v5.21h-4zM56 53.12h1v5.21h-1zM60 53.12h1v5.21h-1zM4 58.33h2v5.21h-2zM7 58.33h1v5.21h-1zM13 58.33h1v5.21h-1zM15 58.33h1v5.21h-1zM33 58.33h1v5.21h-1zM36 58.33h1v5.21h-1zM40 58.33h1v5.21h-1zM47 58.33h1v5.21h-1zM54 58.33h1v5.21h-1zM3 63.53h1v5.21h-1zM7 63.53h1v5.21h-1zM9 63.53h1v5.21h-1zM22 63.53h1v5.21h-1zM30 63.53h1v5.21h-1zM45 63.53h3v5.21h-3zM58 63.53h1v5.21h-1zM11 68.74h1v5.21h-1zM13 68.74h1v5.21h-1zM21 68.74h1v5.21h-1zM27 68.74h1v5.21h-1zM30 68.74h3v5.21h-3zM58 68.74h1v5.21h-1zM10 73.94h1v5.21h-1zM12 73.94h2v5.21h-2zM27 73.94h1v5.21h-1zM29 73.94h1v5.21h-1zM35 73.94h1v5.21h-1zM38 73.94h1v5.21h-1zM55 73.94h1v5.21h-1zM0 79.15h1v5.21h-1zM27 79.15h1v5.21h-1zM30 79.15h1v5.21h-1zM39 79.15h2v5.21h-2zM47 79.15h1v5.21h-1zM51 79.15h1v5.21h-1zM64 79.15h1v5.21h-1zM0 84.36h1v5.21h-1zM4 84.36h1v5.21h-1zM7 84.36h1v5.21h-1zM11 84.36h1v5.21h-1zM29 84.36h1v5.21h-1zM32 84.36h1v5.21h-1zM34 84.36h1v5.21h-1zM36 84.36h2v5.21h-2zM60 84.36h1v5.21h-1zM14 89.56h1v5.21h-1zM39 89.56h1v5.21h-1zM10 94.77h2v5.21h-2zM30 94.77h1v5.21h-1zM37 94.77h2v5.21h-2zM60 94.77h1v5.21h-1zM5 99.97h1v5.21h-1zM22 99.97h1v5.21h-1zM25 99.97h1v5.21h-1zM27 99.97h1v5.21h-1zM33 99.97h1v5.21h-1zM40 99.97h1v5.21h-1zM58 99.97h1v5.21h-1zM5 105.18h1v5.21h-1zM20 105.18h3v5.21h-3zM27 105.18h1v5.21h-1zM29 105.18h1v5.21h-1zM34 105.18h1v5.21h-1zM37 105.18h3v5.21h-3zM56 105.18h1v5.21h-1zM10 110.38h1v5.21h-1zM15 110.38h1v5.21h-1zM20 110.38h1v5.21h-1zM24 110.38h1v5.21h-1zM27 110.38h1v5.21h-1zM30 110.38h1v5.21h-1zM35 110.38h2v5.21h-2zM39 110.38h1v5.21h-1zM56 110.38h1v5.21h-1zM60 110.38h1v5.21h-1zM64 110.38h1v5.21h-1zM10 115.59h1v5.21h-1zM14 115.59h1v5.21h-1zM19 115.59h1v5.21h-1zM24 115.59h1v5.21h-1zM33 115.59h1v5.21h-1zM35 115.59h1v5.21h-1zM8 120.79h1v5.21h-1zM10 120.79h1v5.21h-1zM24 120.79h1v5.21h-1zM35 120.79h3v5.21h-3zM39 120.79h1v5.21h-1zM54 120.79h1v5.21h-1zM9 126.00h1v5.44h-1zM12 126.00h1v5.44h-1zM15 126.00h1v5.44h-1zM21 126.00h1v5.44h-1zM32 126.00h1v5.44h-1zM34 126.00h1v5.44h-1zM37 126.00h1v5.44h-1zM43 126.00h1v5.44h-1zM46 126.00h1v5.44h-1zM52 126.00h1v5.44h-1zM62 126.00h1v5.44h-1zM0 131.44h1v5.44h-1zM3 131.44h1v5.44h-1zM8 131.44h1v5.44h-1zM11 131.44h1v5.44h-1zM23 131.44h1v5.44h-1zM29 131.44h2v5.44h-2zM41 131.44h1v5.44h-1zM45 131.44h1v5.44h-1zM50 131.44h2v5.44h-2zM63 131.44h1v5.44h-1zM0 136.87h1v5.44h-1zM16 136.87h1v5.44h-1zM25 136.87h1v5.44h-1zM34 136.87h1v5.44h-1zM37 136.87h1v5.44h-1zM39 136.87h1v5.44h-1zM42 136.87h2v5.44h-2zM48 136.87h2v5.44h-2zM59 136.87h1v5.44h-1zM65 136.87h1v5.44h-1zM9 142.31h1v5.44h-1zM18 142.31h1v5.44h-1zM25 142.31h2v5.44h-2zM40 142.31h2v5.44h-2zM45 142.31h1v5.44h-1zM47 142.31h2v5.44h-2zM52 142.31h2v5.44h-2zM57 142.31h1v5.44h-1zM60 142.31h1v5.44h-1zM47 147.74h1v5.44h-1zM6 153.18h1v5.44h-1zM9 153.18h1v5.44h-1zM18 153.18h1v5.44h-1zM22 153.18h1v5.44h-1zM24 153.18h2v5.44h-2zM35 153.18h1v5.44h-1zM46 153.18h2v5.44h-2zM63 153.18h1v5.44h-1zM2 158.61h1v5.44h-1zM13 158.61h1v5.44h-1zM33 158.61h1v5.44h-1zM35 158.61h2v5.44h-2zM42 158.61h1v5.44h-1zM48 158.61h1v5.44h-1zM59 158.61h1v5.44h-1zM63 158.61h1v5.44h-1zM4 164.05h1v5.44h-1zM10 164.05h3v5.44h-3zM22 164.05h1v5.44h-1zM24 164.05h1v5.44h-1zM39 164.05h1v5.44h-1zM42 164.05h1v5.44h-1zM53 164.05h1v5.44h-1zM0 169.48h1v5.44h-1zM2 169.48h1v5.44h-1zM13 169.48h1v5.44h-1zM26 169.48h1v5.44h-1zM32 169.48h1v5.44h-1zM42 169.48h1v5.44h-1zM54 169.48h1v5.44h-1zM56 169.48h2v5.44h-2zM65 169.48h1v5.44h-1zM3 174.92h1v5.44h-1zM7 174.92h1v5.44h-1zM13 174.92h1v5.44h-1zM30 174.92h1v5.44h-1zM33 174.92h2v5.44h-2zM37 174.92h1v5.44h-1zM61 174.92h1v5.44h-1zM65 174.92h1v5.44h-1zM6 180.35h1v5.44h-1zM12 180.35h1v5.44h-1zM22 180.35h1v5.44h-1zM25 180.35h1v5.44h-1zM30 180.35h2v5.44h-2zM36 180.35h1v5.44h-1zM39 180.35h2v5.44h-2zM49 180.35h1v5.44h-1zM59 180.35h1v5.44h-1zM64 180.35h1v5.44h-1zM7 185.79h1v5.44h-1zM15 185.79h1v5.44h-1zM18 185.79h1v5.44h-1zM21 185.79h1v5.44h-1zM33 185.79h1v5.44h-1zM55 185.79h1v5.44h-1zM22 191.22h1v5.44h-1zM32 191.22h1v5.44h-1zM54 191.22h1v5.44h-1zM63 191.22h1v5.44h-1zM10 196.66h1v5.44h-1zM15 196.66h1v5.44h-1zM22 196.66h1v5.44h-1zM26 196.66h1v5.44h-1zM29 196.66h1v5.44h-1zM34 196.66h1v5.44h-1zM43 196.66h1v5.44h-1zM45 196.66h1v5.44h-1zM49 196.66h1v5.44h-1zM55 196.66h1v5.44h-1zM61 196.66h1v5.44h-1zM1 202.09h1v5.44h-1zM15 202.09h1v5.44h-1zM25 202.09h2v5.44h-2zM30 202.09h1v5.44h-1zM33 202.09h1v5.44h-1zM35 202.09h1v5.44h-1zM47 202.09h2v5.44h-2zM56 202.09h1v5.44h-1zM1 207.53h1v5.44h-1zM10 207.53h1v5.44h-1zM15 207.53h2v5.44h-2zM26 207.53h1v5.44h-1zM32 207.53h2v5.44h-2zM36 207.53h1v5.44h-1zM44 207.53h2v5.44h-2zM53 207.53h2v5.44h-2zM12 212.96h1v5.44h-1zM15 212.96h1v5.44h-1zM22 212.96h1v5.44h-1zM25 212.96h1v5.44h-1zM33 212.96h1v5.44h-1zM47 212.96h1v5.44h-1zM59 212.96h1v5.44h-1zM17 218.40h1v5.23h-1zM20 218.40h1v5.23h-1zM34 218.40h1v5.23h-1zM39 218.40h1v5.23h-1zM48 218.40h1v5.23h-1zM50 218.40h1v5.23h-1zM18 223.62h1v5.23h-1zM44 223.62h1v5.23h-1zM47 223.62h1v5.23h-1zM57 223.62h1v5.23h-1zM65 223.62h1v5.23h-1zM9 228.85h1v5.23h-1zM12 228.85h1v5.23h-1zM30 228.85h1v5.23h-1zM50 228.85h1v5.23h-1zM54 228.85h1v5.23h-1zM0 234.07h1v5.23h-1zM9 234.07h1v5.23h-1zM14 234.07h1v5.23h-1zM18 234.07h1v5.23h-1zM20 234.07h1v5.23h-1zM44 234.07h2v5.23h-2zM48 234.07h1v5.23h-1zM50 234.07h1v5.23h-1zM53 234.07h1v5.23h-1zM60 234.07h1v5.23h-1z"/>
<path fill="#08161e" d="M7 0.00h1v5.10h-1zM10 0.00h2v5.10h-2zM15 0.00h1v5.10h-1zM28 0.00h1v5.10h-1zM38 0.00h1v5.10h-1zM57 0.00h1v5.10h-1zM0 5.10h1v5.10h-1zM13 5.10h1v5.10h-1zM23 5.10h2v5.10h-2zM26 5.10h1v5.10h-1zM57 5.10h1v5.10h-1zM59 5.10h1v5.10h-1zM64 5.10h1v5.10h-1zM38 10.20h1v5.10h-1zM0 15.30h1v5.10h-1zM3 15.30h1v5.10h-1zM6 15.30h2v5.10h-2zM13 15.30h1v5.10h-1zM20 15.30h1v5.10h-1zM27 15.30h1v5.10h-1zM47 15.30h2v5.10h-2zM62 15.30h1v5.10h-1zM0 20.40h1v5.95h-1zM4 20.40h1v5.95h-1zM9 20.40h1v5.95h-1zM23 20.40h1v5.95h-1zM39 20.40h1v5.95h-1zM58 20.40h1v5.95h-1zM3 26.35h1v5.95h-1zM13 26.35h1v5.95h-1zM29 26.35h1v5.95h-1zM36 26.35h1v5.95h-1zM45 26.35h1v5.95h-1zM58 26.35h3v5.95h-3zM62 26.35h1v5.95h-1zM0 32.30h1v5.21h-1zM2 32.30h1v5.21h-1zM9 32.30h1v5.21h-1zM30 32.30h1v5.21h-1zM48 32.30h1v5.21h-1zM53 32.30h3v5.21h-3zM64 32.30h1v5.21h-1zM9 37.51h1v5.21h-1zM11 37.51h1v5.21h-1zM15 37.51h1v5.21h-1zM22 37.51h3v5.21h-3zM27 37.51h2v5.21h-2zM30 37.51h1v5.21h-1zM33 37.51h1v5.21h-1zM37 37.51h1v5.21h-1zM49 37.51h1v5.21h-1zM54 37.51h3v5.21h-3zM58 37.51h1v5.21h-1zM0 42.71h1v5.21h-1zM7 42.71h1v5.21h-1zM24 42.71h1v5.21h-1zM35 42.71h2v5.21h-2zM38 42.71h1v5.21h-1zM43 42.71h1v5.21h-1zM48 42.71h1v5.21h-1zM56 42.71h1v5.21h-1zM59 42.71h1v5.21h-1zM5 47.92h1v5.21h-1zM7 47.92h1v5.21h-1zM13 47.92h1v5.21h-1zM18 47.92h1v5.21h-1zM55 47.92h1v5.21h-1zM1 53.12h1v5.21h-1zM3 53.12h1v5.21h-1zM24 53.12h1v5.21h-1zM27 53.12h1v5.21h-1zM43 53.12h1v5.21h-1zM46 53.12h1v5.21h-1zM53 53.12h1v5.21h-1zM55 53.12h1v5.21h-1zM58 53.12h2v5.21h-2zM62 53.12h1v5.21h-1zM0 58.33h2v5.21h-2zM27 58.33h2v5.21h-2zM34 58.33h1v5.21h-1zM42 58.33h1v5.21h-1zM56 58.33h1v5.21h-1zM58 58.33h1v5.21h-1zM64 58.33h1v5.21h-1zM10 63.53h1v5.21h-1zM26 63.53h1v5.21h-1zM34 63.53h1v5.21h-1zM52 63.53h1v5.21h-1zM54 63.53h2v5.21h-2zM1 68.74h1v5.21h-1zM24 68.74h1v5.21h-1zM26 68.74h1v5.21h-1zM36 68.74h1v5.21h-1zM54 68.74h2v5.21h-2zM64 68.74h1v5.21h-1zM7 73.94h1v5.21h-1zM11 73.94h1v5.21h-1zM22 73.94h1v5.21h-1zM28 73.94h1v5.21h-1zM34 73.94h1v5.21h-1zM48 73.94h1v5.21h-1zM50 73.94h1v5.21h-1zM4 79.15h1v5.21h-1zM8 79.15h1v5.21h-1zM29 79.15h1v5.21h-1zM52 79.15h1v5.21h-1zM8 84.36h1v5.21h-1zM10 84.36h1v5.21h-1zM12 84.36h1v5.21h-1zM15 84.36h2v5.21h-2zM24 84.36h1v5.21h-1zM27 84.36h1v5.21h-1zM30 84.36h1v5.21h-1zM33 84.36h1v5.21h-1zM40 84.36h1v5.21h-1zM43 84.36h1v5.21h-1zM47 84.36h1v5.21h-1zM54 84.36h1v5.21h-1zM64 84.36h1v5.21h-1zM1 89.56h1v5.21h-1zM5 89.56h1v5.21h-1zM7 89.56h1v5.21h-1zM21 89.56h1v5.21h-1zM23 89.56h1v5.21h-1zM34 89.56h1v5.21h-1zM36 89.56h1v5.21h-1zM47 89.56h1v5.21h-1zM49 89.56h1v5.21h-1zM59 89.56h1v5.21h-1zM0 94.77h1v5.21h-1zM20 94.77h1v5.21h-1zM24 94.77h1v5.21h-1zM28 94.77h1v5.21h-1zM35 94.77h1v5.21h-1zM57 94.77h1v5.21h-1zM11 99.97h1v5.21h-1zM16 99.97h1v5.21h-1zM38 99.97h1v5.21h-1zM49 99.97h1v5.21h-1zM51 99.97h1v5.21h-1zM54 99.97h1v5.21h-1zM59 99.97h1v5.21h-1zM2 105.18h1v5.21h-1zM4 105.18h1v5.21h-1zM10 105.18h1v5.21h-1zM28 105.18h1v5.21h-1zM54 105.18h1v5.21h-1zM26 110.38h1v5.21h-1zM31 110.38h3v5.21h-3zM40 110.38h1v5.21h-1zM54 110.38h2v5.21h-2zM58 110.38h1v5.21h-1zM5 115.59h1v5.21h-1zM7 115.59h1v5.21h-1zM11 115.59h1v5.21h-1zM28 115.59h1v5.21h-1zM36 115.59h1v5.21h-1zM55 115.59h1v5.21h-1zM1 120.79h1v5.21h-1zM7 120.79h1v5.21h-1zM9 120.79h1v5.21h-1zM18 120.79h1v5.21h-1zM25 120.79h2v5.21h-2zM47 120.79h1v5.21h-1zM51 120.79h1v5.21h-1zM55 120.79h1v5.21h-1zM58 120.79h1v5.21h-1zM63 120.79h2v5.21h-2zM3 126.00h1v5.44h-1zM17 126.00h1v5.44h-1zM23 126.00h2v5.44h-2zM27 126.00h1v5.44h-1zM35 126.00h2v5.44h-2zM48 126.00h1v5.44h-1zM9 131.44h1v5.44h-1zM16 131.44h1v5.44h-1zM27 131.44h2v5.44h-2zM33 131.44h1v5.44h-1zM40 131.44h1v5.44h-1zM48 131.44h1v5.44h-1zM52 131.44h1v5.44h-1zM3 136.87h2v5.44h-2zM13 136.87h1v5.44h-1zM15 136.87h1v5.44h-1zM17 136.87h3v5.44h-3zM24 136.87h1v5.44h-1zM27 136.87h1v5.44h-1zM38 136.87h1v5.44h-1zM15 142.31h1v5.44h-1zM20 142.31h1v5.44h-1zM22 142.31h1v5.44h-1zM32 142.31h1v5.44h-1zM34 142.31h1v5.44h-1zM36 142.31h1v5.44h-1zM54 142.31h1v5.44h-1zM58 142.31h1v5.44h-1zM63 142.31h1v5.44h-1zM0 147.74h1v5.44h-1zM7 147.74h1v5.44h-1zM7 153.18h1v5.44h-1zM17 153.18h1v5.44h-1zM21 153.18h1v5.44h-1zM26 153.18h2v5.44h-2zM34 153.18h1v5.44h-1zM50 153.18h1v5.44h-1zM52 153.18h1v5.44h-1zM62 153.18h1v5.44h-1zM8 158.61h3v5.44h-3zM14 158.61h1v5.44h-1zM17 158.61h1v5.44h-1zM20 158.61h1v5.44h-1zM31 158.61h1v5.44h-1zM39 158.61h1v5.44h-1zM44 158.61h3v5.44h-3zM49 158.61h1v5.44h-1zM57 158.61h2v5.44h-2zM15 164.05h1v5.44h-1zM25 164.05h1v5.44h-1zM33 164.05h1v5.44h-1zM50 164.05h1v5.44h-1zM54 164.05h1v5.44h-1zM58 164.05h1v5.44h-1zM1 169.48h1v5.44h-1zM8 169.48h1v5.44h-1zM10 169.48h1v5.44h-1zM17 169.48h1v5.44h-1zM20 169.48h1v5.44h-1zM25 169.48h1v5.44h-1zM34 169.48h1v5.44h-1zM37 169.48h2v5.44h-2zM43 169.48h1v5.44h-1zM48 169.48h1v5.44h-1zM1 174.92h1v5.44h-1zM8 174.92h3v5.44h-3zM16 174.92h1v5.44h-1zM22 174.92h1v5.44h-1zM29 174.92h1v5.44h-1zM32 174.92h1v5.44h-1zM47 174.92h1v5.44h-1zM52 174.92h1v5.44h-1zM62 174.92h2v5.44h-2zM9 180.35h2v5.44h-2zM17 180.35h2v5.44h-2zM27 180.35h1v5.44h-1zM29 180.35h1v5.44h-1zM33 180.35h1v5.44h-1zM42 180.35h1v5.44h-1zM45 180.35h2v5.44h-2zM48 180.35h1v5.44h-1zM50 180.35h1v5.44h-1zM60 180.35h1v5.44h-1zM65 180.35h1v5.44h-1zM6 185.79h1v5.44h-1zM17 185.79h1v5.44h-1zM25 185.79h1v5.44h-1zM27 185.79h1v5.44h-1zM29 185.79h2v5.44h-2zM36 185.79h1v5.44h-1zM39 185.79h1v5.44h-1zM49 185.79h2v5.44h-2zM54 185.79h1v5.44h-1zM27 191.22h1v5.44h-1zM40 191.22h1v5.44h-1zM45 191.22h1v5.44h-1zM59 191.22h1v5.44h-1zM4 196.66h2v5.44h-2zM20 196.66h1v5.44h-1zM27 202.09h2v5.44h-2zM31 202.09h1v5.44h-1zM42 202.09h1v5.44h-1zM55 202.09h1v5.44h-1zM58 202.09h1v5.44h-1zM8 207.53h1v5.44h-1zM20 207.53h1v5.44h-1zM22 207.53h1v5.44h-1zM30 207.53h1v5.44h-1zM40 207.53h1v5.44h-1zM50 207.53h1v5.44h-1zM62 207.53h2v5.44h-2zM65 207.53h1v5.44h-1zM2 212.96h1v5.44h-1zM18 212.96h1v5.44h-1zM27 212.96h1v5.44h-1zM50 212.96h1v5.44h-1zM62 212.96h1v5.44h-1zM64 212.96h1v5.44h-1zM0 218.40h1v5.23h-1zM4 218.40h1v5.23h-1zM19 218.40h1v5.23h-1zM25 218.40h1v5.23h-1zM32 218.40h1v5.23h-1zM44 218.40h1v5.23h-1zM52 218.40h1v5.23h-1zM5 223.62h1v5.23h-1zM12 223.62h1v5.23h-1zM17 223.62h1v5.23h-1zM19 223.62h2v5.23h-2zM25 223.62h1v5.23h-1zM32 223.62h1v5.23h-1zM37 223.62h1v5.23h-1zM46 223.62h1v5.23h-1zM50 223.62h1v5.23h-1zM5 228.85h1v5.23h-1zM34 228.85h1v5.23h-1zM40 228.85h1v5.23h-1zM65 228.85h1v5.23h-1zM4 234.07h1v5.23h-1zM8 234.07h1v5.23h-1zM15 234.07h1v5.23h-1zM47 234.07h1v5.23h-1z"/>
<path fill="#0a2640" d="M2 0.00h1v5.10h-1zM13 0.00h1v5.10h-1zM25 0.00h1v5.10h-1zM27 0.00h1v5.10h-1zM29 0.00h1v5.10h-1zM31 0.00h1v5.10h-1zM33 0.00h1v5.10h-1zM37 0.00h1v5.10h-1zM47 0.00h1v5.10h-1zM55 0.00h1v5.10h-1zM64 0.00h1v5.10h-1zM15 5.10h2v5.10h-2zM21 5.10h1v5.10h-1zM28 5.10h1v5.10h-1zM30 5.10h3v5.10h-3zM36 5.10h1v5.10h-1zM41 5.10h1v5.10h-1zM45 5.10h1v5.10h-1zM49 5.10h2v5.10h-2zM55 5.10h1v5.10h-1zM19 10.20h1v5.10h-1zM22 10.20h1v5.10h-1zM10 15.30h3v5.10h-3zM25 15.30h2v5.10h-2zM28 15.30h1v5.10h-1zM40 15.30h2v5.10h-2zM45 15.30h1v5.10h-1zM54 15.30h1v5.10h-1zM57 15.30h1v5.10h-1zM2 20.40h1v5.95h-1zM13 20.40h1v5.95h-1zM29 20.40h1v5.95h-1zM37 20.40h1v5.95h-1zM42 20.40h1v5.95h-1zM52 20.40h1v5.95h-1zM55 20.40h2v5.95h-2zM4 26.35h1v5.95h-1zM9 26.35h1v5.95h-1zM20 26.35h1v5.95h-1zM23 26.35h2v5.95h-2zM26 26.35h1v5.95h-1zM37 26.35h1v5.95h-1zM47 26.35h1v5.95h-1zM51 26.35h1v5.95h-1zM61 26.35h1v5.95h-1zM1 32.30h1v5.21h-1zM20 32.30h1v5.21h-1zM26 32.30h1v5.21h-1zM28 32.30h2v5.21h-2zM49 32.30h1v5.21h-1zM60 32.30h1v5.21h-1zM63 32.30h1v5.21h-1zM1 37.51h2v5.21h-2zM8 37.51h1v5.21h-1zM35 37.51h1v5.21h-1zM43 37.51h1v5.21h-1zM45 37.51h1v5.21h-1zM59 37.51h1v5.21h-1zM64 37.51h1v5.21h-1zM1 42.71h1v5.21h-1zM10 42.71h2v5.21h-2zM33 42.71h1v5.21h-1zM40 42.71h1v5.21h-1zM52 42.71h1v5.21h-1zM0 47.92h1v5.21h-1zM4 47.92h1v5.21h-1zM8 47.92h1v5.21h-1zM24 47.92h1v5.21h-1zM27 47.92h2v5.21h-2zM35 47.92h1v5.21h-1zM40 47.92h1v5.21h-1zM43 47.92h1v5.21h-1zM46 47.92h1v5.21h-1zM50 47.92h1v5.21h-1zM7 53.12h1v5.21h-1zM18 53.12h1v5.21h-1zM31 53.12h1v5.21h-1zM44 53.12h2v5.21h-2zM54 53.12h1v5.21h-1zM64 53.12h1v5.21h-1zM8 58.33h1v5.21h-1zM18 58.33h1v5.21h-1zM26 58.33h1v5.21h-1zM55 58.33h1v5.21h-1zM59 58.33h1v5.21h-1zM62 58.33h1v5.21h-1zM8 63.53h1v5.21h-1zM13 63.53h1v5.21h-1zM24 63.53h1v5.21h-1zM29 63.53h1v5.21h-1zM33 63.53h1v5.21h-1zM49 63.53h1v5.21h-1zM62 63.53h1v5.21h-1zM7 68.74h2v5.21h-2zM20 68.74h1v5.21h-1zM23 68.74h1v5.21h-1zM38 68.74h1v5.21h-1zM40 68.74h1v5.21h-1zM59 68.74h1v5.21h-1zM65 68.74h1v5.21h-1zM1 73.94h1v5.21h-1zM20 73.94h1v5.21h-1zM23 73.94h1v5.21h-1zM30 73.94h1v5.21h-1zM43 73.94h1v5.21h-1zM54 73.94h1v5.21h-1zM58 73.94h1v5.21h-1zM10 79.15h1v5.21h-1zM19 79.15h1v5.21h-1zM33 79.15h1v5.21h-1zM35 79.15h1v5.21h-1zM55 79.15h1v5.21h-1zM13 84.36h1v5.21h-1zM18 84.36h1v5.21h-1zM23 84.36h1v5.21h-1zM26 84.36h1v5.21h-1zM58 84.36h1v5.21h-1zM11 89.56h1v5.21h-1zM29 89.56h2v5.21h-2zM38 89.56h1v5.21h-1zM40 89.56h1v5.21h-1zM54 89.56h1v5.21h-1zM60 89.56h1v5.21h-1zM62 89.56h1v5.21h-1zM2 94.77h1v5.21h-1zM4 94.77h1v5.21h-1zM7 94.77h1v5.21h-1zM23 94.77h1v5.21h-1zM29 94.77h1v5.21h-1zM40 94.77h1v5.21h-1zM43 94.77h1v5.21h-1zM56 94.77h1v5.21h-1zM58 94.77h2v5.21h-2zM63 94.77h1v5.21h-1zM0 99.97h1v5.21h-1zM8 99.97h1v5.21h-1zM30 99.97h1v5.21h-1zM32 99.97h1v5.21h-1zM37 99.97h1v5.21h-1zM43 99.97h1v5.21h-1zM57 99.97h1v5.21h-1zM65 99.97h1v5.21h-1zM8 105.18h1v5.21h-1zM15 105.18h1v5.21h-1zM35 105.18h1v5.21h-1zM42 105.18h1v5.21h-1zM47 105.18h2v5.21h-2zM53 105.18h1v5.21h-1zM55 105.18h1v5.21h-1zM62 105.18h1v5.21h-1zM1 110.38h1v5.21h-1zM41 110.38h1v5.21h-1zM43 110.38h1v5.21h-1zM51 110.38h1v5.21h-1zM59 110.38h1v5.21h-1zM0 115.59h1v5.21h-1zM23 115.59h1v5.21h-1zM26 115.59h1v5.21h-1zM29 115.59h2v5.21h-2zM42 115.59h1v5.21h-1zM44 115.59h1v5.21h-1zM47 115.59h1v5.21h-1zM11 120.79h1v5.21h-1zM13 120.79h1v5.21h-1zM15 120.79h1v5.21h-1zM27 120.79h1v5.21h-1zM29 120.79h1v5.21h-1zM38 120.79h1v5.21h-1zM56 120.79h1v5.21h-1zM22 126.00h1v5.44h-1zM5 131.44h1v5.44h-1zM55 131.44h1v5.44h-1zM6 136.87h2v5.44h-2zM9 136.87h1v5.44h-1zM23 136.87h1v5.44h-1zM31 136.87h3v5.44h-3zM35 136.87h1v5.44h-1zM58 136.87h1v5.44h-1zM62 136.87h2v5.44h-2zM16 142.31h1v5.44h-1zM21 142.31h1v5.44h-1zM24 142.31h1v5.44h-1zM28 142.31h1v5.44h-1zM33 142.31h1v5.44h-1zM39 142.31h1v5.44h-1zM48 147.74h1v5.44h-1zM8 153.18h1v5.44h-1zM40 153.18h1v5.44h-1zM3 158.61h1v5.44h-1zM16 158.61h1v5.44h-1zM34 158.61h1v5.44h-1zM47 158.61h1v5.44h-1zM55 158.61h1v5.44h-1zM3 164.05h1v5.44h-1zM9 164.05h1v5.44h-1zM13 164.05h1v5.44h-1zM18 164.05h1v5.44h-1zM65 164.05h1v5.44h-1zM23 169.48h1v5.44h-1zM15 174.92h1v5.44h-1zM17 174.92h1v5.44h-1zM39 174.92h1v5.44h-1zM21 180.35h1v5.44h-1zM28 180.35h1v5.44h-1zM19 185.79h1v5.44h-1zM24 185.79h1v5.44h-1zM28 185.79h1v5.44h-1zM44 185.79h1v5.44h-1zM58 185.79h1v5.44h-1zM62 185.79h1v5.44h-1zM11 191.22h1v5.44h-1zM3 196.66h1v5.44h-1zM6 196.66h1v5.44h-1zM17 196.66h1v5.44h-1zM19 196.66h1v5.44h-1zM21 196.66h1v5.44h-1zM32 196.66h1v5.44h-1zM37 196.66h1v5.44h-1zM13 202.09h2v5.44h-2zM18 202.09h1v5.44h-1zM40 202.09h1v5.44h-1zM64 202.09h1v5.44h-1zM3 207.53h2v5.44h-2zM18 207.53h1v5.44h-1zM27 207.53h1v5.44h-1zM41 207.53h1v5.44h-1zM48 207.53h1v5.44h-1zM56 207.53h1v5.44h-1zM64 207.53h1v5.44h-1zM3 212.96h1v5.44h-1zM10 212.96h1v5.44h-1zM23 212.96h1v5.44h-1zM58 212.96h1v5.44h-1zM24 218.40h1v5.23h-1zM28 218.40h2v5.23h-2zM40 218.40h1v5.23h-1zM45 218.40h1v5.23h-1zM51 218.40h1v5.23h-1zM55 218.40h1v5.23h-1zM0 223.62h1v5.23h-1zM8 223.62h1v5.23h-1zM33 223.62h1v5.23h-1zM39 223.62h2v5.23h-2zM15 228.85h1v5.23h-1zM39 228.85h1v5.23h-1zM49 228.85h1v5.23h-1zM59 228.85h1v5.23h-1zM19 234.07h1v5.23h-1zM30 234.07h1v5.23h-1zM39 234.07h1v5.23h-1z"/>
<path fill="#0f4468" d="M14 0.00h1v5.10h-1zM26 0.00h1v5.10h-1zM30 0.00h1v5.10h-1zM45 0.00h1v5.10h-1zM2 5.10h1v5.10h-1zM5 5.10h1v5.10h-1zM7 5.10h1v5.10h-1zM14 5.10h1v5.10h-1zM37 5.10h1v5.10h-1zM43 5.10h1v5.10h-1zM54 5.10h1v5.10h-1zM2 10.20h1v5.10h-1zM4 10.20h1v5.10h-1zM6 10.20h1v5.10h-1zM8 10.20h1v5.10h-1zM23 10.20h2v5.10h-2zM33 10.20h1v5.10h-1zM56 10.20h1v5.10h-1zM2 15.30h1v5.10h-1zM14 15.30h1v5.10h-1zM21 15.30h1v5.10h-1zM32 15.30h1v5.10h-1zM37 15.30h1v5.10h-1zM39 15.30h1v5.10h-1zM43 15.30h1v5.10h-1zM6 20.40h1v5.95h-1zM8 20.40h1v5.95h-1zM10 20.40h2v5.95h-2zM15 20.40h1v5.95h-1zM19 20.40h1v5.95h-1zM53 20.40h1v5.95h-1zM63 20.40h1v5.95h-1zM0 26.35h1v5.95h-1zM14 26.35h2v5.95h-2zM18 26.35h1v5.95h-1zM31 26.35h1v5.95h-1zM33 26.35h2v5.95h-2zM42 26.35h2v5.95h-2zM46 26.35h1v5.95h-1zM52 26.35h1v5.95h-1zM54 26.35h1v5.95h-1zM57 26.35h1v5.95h-1zM64 26.35h2v5.95h-2zM18 32.30h1v5.21h-1zM33 32.30h1v5.21h-1zM38 32.30h1v5.21h-1zM40 32.30h1v5.21h-1zM45 32.30h1v5.21h-1zM56 32.30h1v5.21h-1zM18 37.51h1v5.21h-1zM20 37.51h1v5.21h-1zM47 37.51h2v5.21h-2zM62 37.51h1v5.21h-1zM4 42.71h1v5.21h-1zM8 42.71h1v5.21h-1zM23 42.71h1v5.21h-1zM26 42.71h1v5.21h-1zM47 42.71h1v5.21h-1zM54 42.71h2v5.21h-2zM11 47.92h1v5.21h-1zM23 47.92h1v5.21h-1zM44 47.92h2v5.21h-2zM52 47.92h2v5.21h-2zM62 47.92h1v5.21h-1zM65 47.92h1v5.21h-1zM23 53.12h1v5.21h-1zM29 53.12h1v5.21h-1zM50 53.12h1v5.21h-1zM61 53.12h1v5.21h-1zM63 53.12h1v5.21h-1zM22 58.33h1v5.21h-1zM24 58.33h1v5.21h-1zM43 58.33h1v5.21h-1zM45 58.33h1v5.21h-1zM63 58.33h1v5.21h-1zM1 63.53h1v5.21h-1zM20 63.53h1v5.21h-1zM23 63.53h1v5.21h-1zM39 63.53h1v5.21h-1zM43 63.53h2v5.21h-2zM56 63.53h1v5.21h-1zM64 63.53h1v5.21h-1zM43 68.74h2v5.21h-2zM48 68.74h1v5.21h-1zM51 68.74h1v5.21h-1zM53 68.74h1v5.21h-1zM63 68.74h1v5.21h-1zM0 73.94h1v5.21h-1zM4 73.94h1v5.21h-1zM8 73.94h1v5.21h-1zM33 73.94h1v5.21h-1zM42 73.94h1v5.21h-1zM45 73.94h3v5.21h-3zM53 73.94h1v5.21h-1zM63 73.94h1v5.21h-1zM1 79.15h1v5.21h-1zM18 79.15h1v5.21h-1zM20 79.15h1v5.21h-1zM22 79.15h1v5.21h-1zM38 79.15h1v5.21h-1zM45 79.15h2v5.21h-2zM48 79.15h1v5.21h-1zM50 79.15h1v5.21h-1zM56 79.15h1v5.21h-1zM63 79.15h1v5.21h-1zM28 84.36h1v5.21h-1zM35 84.36h1v5.21h-1zM38 84.36h1v5.21h-1zM51 84.36h1v5.21h-1zM56 84.36h1v5.21h-1zM62 84.36h1v5.21h-1zM18 89.56h1v5.21h-1zM20 89.56h1v5.21h-1zM28 89.56h1v5.21h-1zM46 89.56h1v5.21h-1zM48 89.56h1v5.21h-1zM50 89.56h1v5.21h-1zM55 89.56h1v5.21h-1zM63 89.56h1v5.21h-1zM1 94.77h1v5.21h-1zM26 94.77h1v5.21h-1zM49 94.77h1v5.21h-1zM51 94.77h1v5.21h-1zM53 94.77h2v5.21h-2zM62 94.77h1v5.21h-1zM1 99.97h1v5.21h-1zM12 99.97h1v5.21h-1zM20 99.97h1v5.21h-1zM23 99.97h1v5.21h-1zM26 99.97h1v5.21h-1zM53 99.97h1v5.21h-1zM55 99.97h2v5.21h-2zM63 99.97h1v5.21h-1zM0 105.18h1v5.21h-1zM7 105.18h1v5.21h-1zM30 105.18h1v5.21h-1zM45 105.18h1v5.21h-1zM51 105.18h1v5.21h-1zM58 105.18h1v5.21h-1zM60 105.18h1v5.21h-1zM65 105.18h1v5.21h-1zM0 110.38h1v5.21h-1zM7 110.38h1v5.21h-1zM29 110.38h1v5.21h-1zM38 110.38h1v5.21h-1zM44 110.38h1v5.21h-1zM46 110.38h3v5.21h-3zM53 110.38h1v5.21h-1zM62 110.38h1v5.21h-1zM18 115.59h1v5.21h-1zM38 115.59h1v5.21h-1zM41 115.59h1v5.21h-1zM45 115.59h2v5.21h-2zM49 115.59h3v5.21h-3zM63 115.59h1v5.21h-1zM0 120.79h1v5.21h-1zM40 120.79h1v5.21h-1zM52 120.79h1v5.21h-1zM59 120.79h1v5.21h-1zM10 126.00h1v5.44h-1zM45 126.00h1v5.44h-1zM38 131.44h1v5.44h-1zM56 131.44h1v5.44h-1zM60 131.44h1v5.44h-1zM62 131.44h1v5.44h-1zM21 136.87h1v5.44h-1zM29 136.87h2v5.44h-2zM6 142.31h1v5.44h-1zM13 142.31h1v5.44h-1zM27 142.31h1v5.44h-1zM42 142.31h1v5.44h-1zM38 153.18h1v5.44h-1zM43 153.18h1v5.44h-1zM24 158.61h1v5.44h-1zM30 158.61h1v5.44h-1zM53 158.61h1v5.44h-1zM7 164.05h1v5.44h-1zM27 164.05h1v5.44h-1zM30 164.05h1v5.44h-1zM37 164.05h1v5.44h-1zM15 169.48h1v5.44h-1zM33 169.48h1v5.44h-1zM45 169.48h1v5.44h-1zM58 169.48h1v5.44h-1zM62 169.48h1v5.44h-1zM27 174.92h2v5.44h-2zM36 174.92h1v5.44h-1zM38 174.92h1v5.44h-1zM56 174.92h1v5.44h-1zM2 180.35h1v5.44h-1zM62 180.35h1v5.44h-1zM9 185.79h1v5.44h-1zM35 185.79h1v5.44h-1zM45 185.79h1v5.44h-1zM56 185.79h1v5.44h-1zM63 185.79h1v5.44h-1zM0 196.66h1v5.44h-1zM24 196.66h1v5.44h-1zM62 196.66h1v5.44h-1zM21 202.09h1v5.44h-1zM29 202.09h1v5.44h-1zM44 202.09h1v5.44h-1zM9 207.53h1v5.44h-1zM29 207.53h1v5.44h-1zM38 207.53h1v5.44h-1zM47 207.53h1v5.44h-1zM61 207.53h1v5.44h-1zM4 212.96h1v5.44h-1zM34 212.96h1v5.44h-1zM36 212.96h1v5.44h-1zM45 212.96h1v5.44h-1zM48 212.96h1v5.44h-1zM15 218.40h1v5.23h-1zM31 218.40h1v5.23h-1zM41 218.40h1v5.23h-1zM4 223.62h1v5.23h-1zM15 223.62h1v5.23h-1zM30 223.62h1v5.23h-1zM45 223.62h1v5.23h-1zM51 223.62h1v5.23h-1zM0 228.85h1v5.23h-1zM17 228.85h1v5.23h-1zM28 228.85h1v5.23h-1zM45 228.85h1v5.23h-1zM51 228.85h1v5.23h-1zM25 234.07h1v5.23h-1zM32 234.07h2v5.23h-2zM40 234.07h1v5.23h-1zM51 234.07h1v5.23h-1zM55 234.07h1v5.23h-1zM62 234.07h1v5.23h-1z"/>
<path fill="#176496" d="M43 0.00h1v5.10h-1zM29 5.10h1v5.10h-1zM46 5.10h2v5.10h-2zM53 5.10h1v5.10h-1zM15 10.20h1v5.10h-1zM27 10.20h1v5.10h-1zM31 10.20h1v5.10h-1zM35 10.20h1v5.10h-1zM42 10.20h1v5.10h-1zM45 10.20h1v5.10h-1zM47 10.20h1v5.10h-1zM50 10.20h1v5.10h-1zM57 10.20h1v5.10h-1zM59 10.20h1v5.10h-1zM62 10.20h3v5.10h-3zM53 15.30h1v5.10h-1zM18 20.40h1v5.95h-1zM1 26.35h1v5.95h-1zM6 26.35h1v5.95h-1zM11 26.35h1v5.95h-1zM19 26.35h1v5.95h-1zM32 26.35h1v5.95h-1zM41 26.35h1v5.95h-1zM49 26.35h1v5.95h-1zM7 32.30h2v5.21h-2zM23 32.30h1v5.21h-1zM44 32.30h1v5.21h-1zM46 32.30h1v5.21h-1zM51 32.30h2v5.21h-2zM57 32.30h1v5.21h-1zM0 37.51h1v5.21h-1zM29 37.51h1v5.21h-1zM34 37.51h1v5.21h-1zM38 37.51h1v5.21h-1zM41 37.51h1v5.21h-1zM44 37.51h1v5.21h-1zM53 37.51h1v5.21h-1zM61 37.51h1v5.21h-1zM20 42.71h1v5.21h-1zM34 42.71h1v5.21h-1zM44 42.71h1v5.21h-1zM50 42.71h2v5.21h-2zM53 42.71h1v5.21h-1zM65 42.71h1v5.21h-1zM1 47.92h1v5.21h-1zM48 47.92h1v5.21h-1zM56 47.92h1v5.21h-1zM58 47.92h1v5.21h-1zM8 53.12h1v5.21h-1zM28 53.12h1v5.21h-1zM40 53.12h1v5.21h-1zM49 53.12h1v5.21h-1zM52 53.12h1v5.21h-1zM57 53.12h1v5.21h-1zM65 53.12h1v5.21h-1zM23 58.33h1v5.21h-1zM28 63.53h1v5.21h-1zM38 63.53h1v5.21h-1zM48 63.53h1v5.21h-1zM51 63.53h1v5.21h-1zM53 63.53h1v5.21h-1zM57 63.53h1v5.21h-1zM59 63.53h1v5.21h-1zM63 63.53h1v5.21h-1zM29 68.74h1v5.21h-1zM56 68.74h1v5.21h-1zM18 73.94h1v5.21h-1zM49 73.94h1v5.21h-1zM51 73.94h2v5.21h-2zM62 73.94h1v5.21h-1zM11 79.15h1v5.21h-1zM28 79.15h1v5.21h-1zM1 84.36h1v5.21h-1zM20 84.36h1v5.21h-1zM41 84.36h1v5.21h-1zM44 84.36h1v5.21h-1zM63 84.36h1v5.21h-1zM8 89.56h1v5.21h-1zM43 89.56h1v5.21h-1zM45 89.56h1v5.21h-1zM52 89.56h2v5.21h-2zM44 94.77h1v5.21h-1zM46 94.77h1v5.21h-1zM52 94.77h1v5.21h-1zM18 99.97h1v5.21h-1zM29 99.97h1v5.21h-1zM41 99.97h1v5.21h-1zM44 99.97h1v5.21h-1zM46 99.97h1v5.21h-1zM50 99.97h1v5.21h-1zM64 99.97h1v5.21h-1zM1 105.18h1v5.21h-1zM18 105.18h1v5.21h-1zM26 105.18h1v5.21h-1zM50 105.18h1v5.21h-1zM57 105.18h1v5.21h-1zM59 105.18h1v5.21h-1zM12 110.38h1v5.21h-1zM28 110.38h1v5.21h-1zM49 110.38h1v5.21h-1zM1 115.59h1v5.21h-1zM20 115.59h1v5.21h-1zM22 115.59h1v5.21h-1zM56 115.59h2v5.21h-2zM4 120.79h1v5.21h-1zM41 120.79h1v5.21h-1zM44 120.79h1v5.21h-1zM48 120.79h1v5.21h-1zM50 120.79h1v5.21h-1zM57 120.79h1v5.21h-1zM62 120.79h1v5.21h-1zM25 126.00h1v5.44h-1zM31 126.00h1v5.44h-1zM47 126.00h1v5.44h-1zM54 126.00h1v5.44h-1zM57 126.00h1v5.44h-1zM6 131.44h1v5.44h-1zM13 131.44h1v5.44h-1zM36 131.44h1v5.44h-1zM58 131.44h1v5.44h-1zM11 136.87h1v5.44h-1zM40 136.87h1v5.44h-1zM50 136.87h1v5.44h-1zM61 142.31h1v5.44h-1zM55 153.18h1v5.44h-1zM32 158.61h1v5.44h-1zM62 158.61h1v5.44h-1zM23 164.05h1v5.44h-1zM18 169.48h1v5.44h-1zM18 174.92h1v5.44h-1zM35 174.92h1v5.44h-1zM43 174.92h1v5.44h-1zM49 174.92h1v5.44h-1zM55 180.35h1v5.44h-1zM58 180.35h1v5.44h-1zM2 185.79h1v5.44h-1zM13 185.79h1v5.44h-1zM56 191.22h1v5.44h-1zM33 196.66h1v5.44h-1zM48 196.66h1v5.44h-1zM58 196.66h1v5.44h-1zM0 207.53h1v5.44h-1zM43 207.53h1v5.44h-1zM8 218.40h1v5.23h-1zM21 218.40h1v5.23h-1zM33 218.40h1v5.23h-1zM64 218.40h1v5.23h-1zM9 223.62h1v5.23h-1zM55 223.62h1v5.23h-1zM8 228.85h1v5.23h-1zM11 228.85h1v5.23h-1zM32 228.85h1v5.23h-1zM52 228.85h1v5.23h-1zM62 228.85h1v5.23h-1zM64 228.85h1v5.23h-1zM5 234.07h1v5.23h-1zM64 234.07h1v5.23h-1z"/>
<path fill="#2090cc" d="M0 0.00h1v5.10h-1zM53 0.00h1v5.10h-1zM58 5.10h1v5.10h-1zM60 5.10h1v5.10h-1zM9 10.20h2v5.10h-2zM13 10.20h1v5.10h-1zM17 10.20h1v5.10h-1zM29 10.20h1v5.10h-1zM40 10.20h1v5.10h-1zM46 10.20h1v5.10h-1zM48 10.20h1v5.10h-1zM52 10.20h1v5.10h-1zM55 10.20h1v5.10h-1zM60 10.20h1v5.10h-1zM24 15.30h1v5.10h-1zM60 15.30h1v5.10h-1zM32 20.40h1v5.95h-1zM7 26.35h1v5.95h-1zM10 26.35h1v5.95h-1zM30 26.35h1v5.95h-1zM40 26.35h1v5.95h-1zM34 32.30h1v5.21h-1zM47 32.30h1v5.21h-1zM51 37.51h1v5.21h-1zM57 37.51h1v5.21h-1zM41 42.71h1v5.21h-1zM62 42.71h1v5.21h-1zM64 42.71h1v5.21h-1zM22 47.92h1v5.21h-1zM38 47.92h1v5.21h-1zM47 47.92h1v5.21h-1zM47 53.12h1v5.21h-1zM51 53.12h1v5.21h-1zM29 58.33h1v5.21h-1zM44 58.33h1v5.21h-1zM49 58.33h1v5.21h-1zM57 58.33h1v5.21h-1zM65 58.33h1v5.21h-1zM0 63.53h1v5.21h-1zM14 63.53h1v5.21h-1zM41 63.53h1v5.21h-1zM46 68.74h2v5.21h-2zM57 68.74h1v5.21h-1zM62 68.74h1v5.21h-1zM59 79.15h1v5.21h-1zM65 79.15h1v5.21h-1zM48 84.36h1v5.21h-1zM57 84.36h1v5.21h-1zM65 84.36h1v5.21h-1zM22 89.56h1v5.21h-1zM26 89.56h1v5.21h-1zM44 89.56h1v5.21h-1zM51 89.56h1v5.21h-1zM56 89.56h1v5.21h-1zM64 89.56h1v5.21h-1zM45 94.77h1v5.21h-1zM47 94.77h2v5.21h-2zM50 94.77h1v5.21h-1zM45 99.97h1v5.21h-1zM47 99.97h2v5.21h-2zM61 99.97h1v5.21h-1zM43 105.18h1v5.21h-1zM8 110.38h1v5.21h-1zM50 110.38h1v5.21h-1zM57 110.38h1v5.21h-1zM63 110.38h1v5.21h-1zM65 110.38h1v5.21h-1zM53 115.59h1v5.21h-1zM61 115.59h2v5.21h-2zM65 115.59h1v5.21h-1zM3 120.79h1v5.21h-1zM20 120.79h1v5.21h-1zM43 120.79h1v5.21h-1zM46 120.79h1v5.21h-1zM65 120.79h1v5.21h-1zM35 131.44h1v5.44h-1zM55 136.87h1v5.44h-1zM5 142.31h1v5.44h-1zM38 142.31h1v5.44h-1zM49 142.31h1v5.44h-1zM0 158.61h1v5.44h-1zM27 158.61h1v5.44h-1zM4 169.48h1v5.44h-1zM41 169.48h1v5.44h-1zM6 174.92h1v5.44h-1zM21 174.92h1v5.44h-1zM40 174.92h1v5.44h-1zM58 174.92h1v5.44h-1zM26 185.79h1v5.44h-1zM0 191.22h1v5.44h-1zM27 196.66h1v5.44h-1zM31 196.66h1v5.44h-1zM6 207.53h1v5.44h-1zM5 218.40h1v5.23h-1zM49 218.40h1v5.23h-1zM62 218.40h1v5.23h-1zM22 223.62h2v5.23h-2zM28 223.62h1v5.23h-1zM31 223.62h1v5.23h-1zM41 223.62h1v5.23h-1zM49 223.62h1v5.23h-1zM19 228.85h1v5.23h-1zM21 228.85h2v5.23h-2zM41 228.85h1v5.23h-1zM11 234.07h1v5.23h-1zM23 234.07h1v5.23h-1zM41 234.07h1v5.23h-1zM49 234.07h1v5.23h-1zM61 234.07h1v5.23h-1z"/>
<path fill="#30b8ec" d="M59 0.00h1v5.10h-1zM0 10.20h2v5.10h-2zM3 10.20h1v5.10h-1zM5 10.20h1v5.10h-1zM7 10.20h1v5.10h-1zM11 10.20h1v5.10h-1zM14 10.20h1v5.10h-1zM16 10.20h1v5.10h-1zM18 10.20h1v5.10h-1zM20 10.20h2v5.10h-2zM25 10.20h2v5.10h-2zM28 10.20h1v5.10h-1zM30 10.20h1v5.10h-1zM32 10.20h1v5.10h-1zM37 10.20h1v5.10h-1zM39 10.20h1v5.10h-1zM41 10.20h1v5.10h-1zM43 10.20h2v5.10h-2zM49 10.20h1v5.10h-1zM51 10.20h1v5.10h-1zM53 10.20h2v5.10h-2zM58 10.20h1v5.10h-1zM61 10.20h1v5.10h-1zM65 10.20h1v5.10h-1zM30 15.30h1v5.10h-1zM33 15.30h1v5.10h-1zM46 20.40h1v5.95h-1zM54 20.40h1v5.95h-1zM22 26.35h1v5.95h-1zM50 26.35h1v5.95h-1zM53 26.35h1v5.95h-1zM55 26.35h1v5.95h-1zM41 32.30h1v5.21h-1zM50 32.30h1v5.21h-1zM61 32.30h1v5.21h-1zM65 32.30h1v5.21h-1zM46 37.51h1v5.21h-1zM50 37.51h1v5.21h-1zM52 37.51h1v5.21h-1zM15 42.71h1v5.21h-1zM18 42.71h1v5.21h-1zM45 42.71h1v5.21h-1zM49 42.71h1v5.21h-1zM61 42.71h1v5.21h-1zM20 47.92h1v5.21h-1zM41 47.92h1v5.21h-1zM57 47.92h1v5.21h-1zM61 47.92h1v5.21h-1zM63 47.92h1v5.21h-1zM38 53.12h1v5.21h-1zM41 53.12h1v5.21h-1zM48 53.12h1v5.21h-1zM10 58.33h1v5.21h-1zM41 58.33h1v5.21h-1zM50 58.33h4v5.21h-4zM61 58.33h1v5.21h-1zM18 63.53h1v5.21h-1zM50 63.53h1v5.21h-1zM61 63.53h1v5.21h-1zM65 63.53h1v5.21h-1zM18 68.74h1v5.21h-1zM28 68.74h1v5.21h-1zM37 68.74h1v5.21h-1zM41 68.74h1v5.21h-1zM49 68.74h2v5.21h-2zM61 68.74h1v5.21h-1zM40 73.94h2v5.21h-2zM44 73.94h1v5.21h-1zM56 73.94h2v5.21h-2zM61 73.94h1v5.21h-1zM65 73.94h1v5.21h-1zM26 79.15h1v5.21h-1zM34 79.15h1v5.21h-1zM41 79.15h1v5.21h-1zM43 79.15h1v5.21h-1zM53 79.15h1v5.21h-1zM57 79.15h1v5.21h-1zM61 79.15h1v5.21h-1zM45 84.36h1v5.21h-1zM49 84.36h2v5.21h-2zM52 84.36h2v5.21h-2zM55 84.36h1v5.21h-1zM59 84.36h1v5.21h-1zM61 84.36h1v5.21h-1zM0 89.56h1v5.21h-1zM4 89.56h1v5.21h-1zM41 89.56h1v5.21h-1zM57 89.56h1v5.21h-1zM61 89.56h1v5.21h-1zM65 89.56h1v5.21h-1zM41 94.77h1v5.21h-1zM55 94.77h1v5.21h-1zM61 94.77h1v5.21h-1zM64 94.77h2v5.21h-2zM52 99.97h1v5.21h-1zM33 105.18h1v5.21h-1zM41 105.18h1v5.21h-1zM44 105.18h1v5.21h-1zM49 105.18h1v5.21h-1zM52 105.18h1v5.21h-1zM61 105.18h1v5.21h-1zM13 110.38h1v5.21h-1zM18 110.38h1v5.21h-1zM23 110.38h1v5.21h-1zM52 110.38h1v5.21h-1zM61 110.38h1v5.21h-1zM8 115.59h1v5.21h-1zM34 115.59h1v5.21h-1zM43 115.59h1v5.21h-1zM48 115.59h1v5.21h-1zM52 115.59h1v5.21h-1zM49 120.79h1v5.21h-1zM53 120.79h1v5.21h-1zM61 120.79h1v5.21h-1zM4 126.00h1v5.44h-1zM6 126.00h1v5.44h-1zM1 131.44h1v5.44h-1zM65 142.31h1v5.44h-1zM32 153.18h1v5.44h-1zM22 158.61h1v5.44h-1zM25 158.61h1v5.44h-1zM29 158.61h1v5.44h-1zM65 158.61h1v5.44h-1zM20 164.05h1v5.44h-1zM62 164.05h1v5.44h-1zM16 169.48h1v5.44h-1zM27 169.48h1v5.44h-1zM40 169.48h1v5.44h-1zM31 174.92h1v5.44h-1zM50 174.92h1v5.44h-1zM55 174.92h1v5.44h-1zM13 180.35h1v5.44h-1zM57 180.35h1v5.44h-1zM14 196.66h1v5.44h-1zM16 196.66h1v5.44h-1zM23 196.66h1v5.44h-1zM60 196.66h1v5.44h-1zM65 196.66h1v5.44h-1zM9 202.09h1v5.44h-1zM12 207.53h1v5.44h-1zM17 207.53h1v5.44h-1zM31 207.53h1v5.44h-1zM52 207.53h1v5.44h-1zM21 212.96h1v5.44h-1zM65 212.96h1v5.44h-1zM11 218.40h1v5.23h-1zM22 218.40h2v5.23h-2zM27 218.40h1v5.23h-1zM30 218.40h1v5.23h-1zM63 218.40h1v5.23h-1zM11 223.62h1v5.23h-1zM21 223.62h1v5.23h-1zM27 223.62h1v5.23h-1zM62 223.62h3v5.23h-3zM23 228.85h1v5.23h-1zM27 228.85h1v5.23h-1zM31 228.85h1v5.23h-1zM55 228.85h1v5.23h-1zM63 228.85h1v5.23h-1zM21 234.07h2v5.23h-2zM27 234.07h1v5.23h-1zM31 234.07h1v5.23h-1zM63 234.07h1v5.23h-1z"/>
</svg>
<div class="sep" style="top:57.90px;height:1.6px;opacity:1"></div>
<div class="sep" style="top:69.60px;height:2.0px;opacity:1"></div>
<div class="sep" style="top:163.65px;height:1.3px;opacity:0.85"></div>
<div class="sep" style="top:256.00px;height:1.4px;opacity:0.95"></div>
<div class="sep" style="top:277.70px;height:1.0px;opacity:0.45"></div>
<!-- model score -->
<div class="abs" style="left:54px;top:280px;width:232px;height:10px;background:linear-gradient(to right,#28b4e8 0%,#22aade 22%,#1a8cb4 36%,#146e8c 50%,#0f5064 64%,#0b3240 78%,#0a1a1e 90%,#0c0c0c 100%)"></div>
<div class="abs" style="left:288px;top:280px;width:132px;height:10px;background:linear-gradient(to right,#141408 0%,#2a2a0a 12%,#4a4a10 30%,#6a6a14 48%,#8a8a14 62%,#b0ae10 76%,#dcd800 88%,#f4ea00 100%)"></div>
<svg class="abs" style="left:54px;top:290px" width="232" height="8.6"><rect width="232" height="8.6" fill="#5a1f96"/><rect x="52.00" y="0" width="1.8" height="8.6" fill="#5ec8f0"/><rect x="59.70" y="0" width="1.8" height="8.6" fill="#f0a020"/><rect x="62.80" y="0" width="1.8" height="8.6" fill="#5ec8f0"/><rect x="68.20" y="0" width="1.8" height="8.6" fill="#f0a020"/><rect x="72.50" y="0" width="1.8" height="8.6" fill="#f0a020"/><rect x="83.30" y="0" width="1.8" height="8.6" fill="#5ec8f0"/><rect x="86.30" y="0" width="1.8" height="8.6" fill="#f0a020"/><rect x="89.40" y="0" width="1.8" height="8.6" fill="#f0a020"/><rect x="92.00" y="0" width="1.8" height="8.6" fill="#5ec8f0"/><rect x="94.60" y="0" width="1.8" height="8.6" fill="#f0a020"/><rect x="108.50" y="0" width="1.8" height="8.6" fill="#f0a020"/><rect x="122.20" y="0" width="1.8" height="8.6" fill="#f0a020"/><rect x="126.00" y="0" width="1.8" height="8.6" fill="#f0a020"/><rect x="129.90" y="0" width="1.8" height="8.6" fill="#f0a020"/><rect x="151.10" y="0" width="1.8" height="8.6" fill="#5ec8f0"/><rect x="156.70" y="0" width="1.8" height="8.6" fill="#f0a020"/><rect x="166.40" y="0" width="1.8" height="8.6" fill="#5ec8f0"/><rect x="193.20" y="0" width="1.8" height="8.6" fill="#f0a020"/><rect x="197.30" y="0" width="1.8" height="8.6" fill="#f0a020"/><rect x="200.30" y="0" width="1.8" height="8.6" fill="#f0a020"/><rect x="203.60" y="0" width="1.8" height="8.6" fill="#5ec8f0"/></svg>
<svg class="abs" style="left:288px;top:290px" width="132" height="8.6"><rect width="132" height="8.6" fill="#5a1f96"/><rect x="-0.40" y="0" width="5.10" height="8.6" fill="#f0a020"/><rect x="7.40" y="0" width="1.40" height="8.6" fill="#f0a020"/><rect x="12.10" y="0" width="1.40" height="8.6" fill="#f0a020"/><rect x="14.80" y="0" width="8.10" height="8.6" fill="#f0a020"/><rect x="25.60" y="0" width="2.00" height="8.6" fill="#f0a020"/><rect x="40.10" y="0" width="1.70" height="8.6" fill="#f0a020"/><rect x="42.80" y="0" width="2.00" height="8.6" fill="#f0a020"/><rect x="48.80" y="0" width="3.40" height="8.6" fill="#f0a020"/><rect x="53.20" y="0" width="2.70" height="8.6" fill="#f0a020"/><rect x="59.60" y="0" width="2.70" height="8.6" fill="#f0a020"/><rect x="62.00" y="0" width="1.00" height="8.6" fill="#f0a020"/><rect x="66.70" y="0" width="4.00" height="8.6" fill="#f0a020"/><rect x="74.10" y="0" width="1.70" height="8.6" fill="#f0a020"/><rect x="77.50" y="0" width="2.70" height="8.6" fill="#5ec8f0"/><rect x="80.20" y="0" width="1.30" height="8.6" fill="#f0a020"/><rect x="84.20" y="0" width="4.00" height="8.6" fill="#f0a020"/><rect x="95.60" y="0" width="7.30" height="8.6" fill="#f0a020"/><rect x="104.40" y="0" width="1.50" height="8.6" fill="#f0a020"/><rect x="107.00" y="0" width="2.60" height="8.6" fill="#f0a020"/><rect x="109.60" y="0" width="2.70" height="8.6" fill="#f0a020"/><rect x="113.80" y="0" width="10.10" height="8.6" fill="#f0a020"/><rect x="125.00" y="0" width="7.00" height="8.6" fill="#f0a020"/></svg>
<!-- legend under -->
<div class="abs" style="left:153.2px;top:303.4px;width:6px;height:6px;background:#4a1c86;border:0.8px solid #2a1050"></div>
<div class="abs" style="left:222.4px;top:303.4px;width:6px;height:6px;background:#f0a020;border:0.8px solid #6a4010"></div>
<div class="abs" style="left:280.6px;top:303.4px;width:6px;height:6px;background:#40c0ec;border:0.8px solid #1a3a6a"></div>
<!-- colour legend -->
<div class="abs" style="left:474px;top:104.6px;width:37px;height:128px;border:1px solid #777;background:#fff"></div>
<div class="abs" style="left:477.4px;top:109.2px;width:10.4px;height:118.3px;background:linear-gradient(to bottom,#f4e600 0.00% 7.69%,#d8d000 7.69% 15.38%,#b4ac00 15.38% 23.08%,#8a8400 23.08% 30.77%,#5e5a00 30.77% 38.46%,#343200 38.46% 46.15%,#0a0a06 46.15% 53.85%,#0a2229 53.85% 61.54%,#0b3744 61.54% 69.23%,#0e5063 69.23% 76.92%,#126c86 76.92% 84.62%,#188ab0 84.62% 92.31%,#26b4e8 92.31% 100.00%)"></div>
<svg class="abs" style="left:0;top:0" width="520" height="320">
<text x="6.6" y="16.6" font-size="12.1" font-weight="bold" fill="#111">A</text>
<text x="168" y="34" font-size="9.5" fill="#fff" text-anchor="middle">Good prognosis “Low Risk”</text>
<text x="351.2" y="34.1" font-size="9.35" fill="#fff" text-anchor="middle">Poor prognosis “High Risk”</text>
<g text-anchor="middle">
<text x="30.55" y="50.9" font-size="7.8" fill="#1e1416">Huet Good</text>
<text x="30.55" y="66.1" font-size="7.2" fill="#0b2a52">Yang</text>
<text x="30.1" y="119.9" font-size="7.4" fill="#16320f" stroke="#16320f" stroke-width="0.25">IR1</text>
<text x="30.1" y="208.8" font-size="7.6" fill="#e8f0fa">Huet Poor</text>
<text x="30" y="218.6" font-size="7.5" fill="#e8f0fa">plus FOXP1</text>
<text x="30.55" y="269.9" font-size="7.6" fill="#fdeee6" stroke="#fdeee6" stroke-width="0.2">IR2</text>
</g>
<g font-size="21.6" fill="#1a1a1a" transform="translate(423.6 0) scale(0.25) rotate(0.25 40 632)" text-rendering="geometricPrecision">
<text x="0" y="171.40">ALDH2</text>
<text x="0" y="192.76">RGS10</text>
<text x="0" y="214.12">SHISA8</text>
<text x="0" y="235.48">VCL</text>
<text x="0" y="256.84">CD27</text>
<text x="0" y="278.20">CD28</text>
<text x="0" y="299.56">ACTN1</text>
<text x="0" y="320.92">CAMK1D</text>
<text x="0" y="342.28">CD7</text>
<text x="0" y="363.64">CD68</text>
<text x="0" y="385.00">FLT3LG</text>
<text x="0" y="406.36">FNIP2</text>
<text x="0" y="427.72">HCST</text>
<text x="0" y="449.08">IL7R</text>
<text x="0" y="470.44">ITK</text>
<text x="0" y="491.80">JAM3</text>
<text x="0" y="513.16">LEF1</text>
<text x="0" y="534.52">LGALS2</text>
<text x="0" y="555.88">RAB27A</text>
<text x="0" y="577.24">SEMA4C</text>
<text x="0" y="598.60">SEPW1</text>
<text x="0" y="619.96">TBC1D4</text>
<text x="0" y="641.32">TNFRSF1B</text>
<text x="0" y="662.68">TNFRSF25</text>
<text x="0" y="684.04">AFF3</text>
<text x="0" y="705.40">CXCR4</text>
<text x="0" y="726.76">DCAF12</text>
<text x="0" y="748.12">E2F5</text>
<text x="0" y="769.48">EML6</text>
<text x="0" y="790.84">FCRL2</text>
<text x="0" y="812.20">FOXO1</text>
<text x="0" y="833.56">FOXP1</text>
<text x="0" y="854.92">GADD45A</text>
<text x="0" y="876.28">KIAA0040</text>
<text x="0" y="897.64">ORAI2</text>
<text x="0" y="919.00">PRDM15</text>
<text x="0" y="940.36">RASSF6</text>
<text x="0" y="961.72">SEMA4B</text>
<text x="0" y="983.08">TAGAP</text>
<text x="0" y="1004.44">TCF4</text>
<text x="0" y="1025.80">VPREB1</text>
<text x="0" y="1047.16">BLVRA</text>
<text x="0" y="1068.52">C1QA</text>
<text x="0" y="1089.88">C1QB</text>
<text x="0" y="1111.24">C4A</text>
</g>
<text x="424.1" y="286.8" font-size="7.8" fill="#111">Model Score</text>
<text x="424.1" y="296.7" font-size="7.75" fill="#111">EFS24</text>
<g font-size="7.15" fill="#111">
<text x="162.5" y="308.6">No EFS24 Event</text>
<text x="231.6" y="308.6">EFS24 Event</text>
<text x="289.6" y="308.6">Censored</text>
</g>
<g font-size="7.8" fill="#111">
<text x="489.8" y="116.8">8</text>
<text x="489.8" y="135.5">4</text>
<text x="489.8" y="153.8">2</text>
<text x="489.8" y="171.7">1</text>
<text x="489.8" y="190.8">0.5</text>
<text x="489.8" y="208.7">0.25</text>
<text x="489.8" y="227.3">0.125</text>
</g>
</svg>
<!-- panel B -->
<svg class="abs" style="left:0;top:320px" width="40" height="20"><text x="6.7" y="15.2" font-size="10.8" font-weight="bold" fill="#111">B</text></svg>
<svg class="abs" style="left:0;top:0" width="520" height="550">
<path d="M47.6 341.7V514.4H324.6" fill="none" stroke="#222" stroke-width="1.3"/>
<path d="M44.6 349.6H47.6" stroke="#222" stroke-width="1.1"/>
<text x="41.3" y="352.4" text-anchor="end" font-size="7.9" fill="#1c1c1c">100%</text>
<path d="M44.6 388.9H47.6" stroke="#222" stroke-width="1.1"/>
<text x="41.3" y="391.6" text-anchor="end" font-size="7.9" fill="#1c1c1c">75%</text>
<path d="M44.6 428.1H47.6" stroke="#222" stroke-width="1.1"/>
<text x="41.3" y="430.9" text-anchor="end" font-size="7.9" fill="#1c1c1c">50%</text>
<path d="M44.6 467.4H47.6" stroke="#222" stroke-width="1.1"/>
<text x="41.3" y="470.1" text-anchor="end" font-size="7.9" fill="#1c1c1c">25%</text>
<path d="M44.6 506.6H47.6" stroke="#222" stroke-width="1.1"/>
<text x="41.3" y="509.4" text-anchor="end" font-size="7.9" fill="#1c1c1c">0%</text>
<path d="M60.3 514.4V517.6" stroke="#222" stroke-width="1.1"/>
<text x="60.3" y="527.6" text-anchor="middle" font-size="7.9" fill="#1c1c1c" transform="translate(60.3 0) scale(0.93 1) translate(-60.3 0)">0</text>
<path d="M109.2 514.4V517.6" stroke="#222" stroke-width="1.1"/>
<text x="109.2" y="527.6" text-anchor="middle" font-size="7.9" fill="#1c1c1c" transform="translate(109.2 0) scale(0.93 1) translate(-109.2 0)">12</text>
<path d="M158.1 514.4V517.6" stroke="#222" stroke-width="1.1"/>
<text x="158.1" y="527.6" text-anchor="middle" font-size="7.9" fill="#1c1c1c" transform="translate(158.1 0) scale(0.93 1) translate(-158.1 0)">24</text>
<path d="M207.0 514.4V517.6" stroke="#222" stroke-width="1.1"/>
<text x="207.0" y="527.6" text-anchor="middle" font-size="7.9" fill="#1c1c1c" transform="translate(207.0 0) scale(0.93 1) translate(-207.0 0)">36</text>
<path d="M255.9 514.4V517.6" stroke="#222" stroke-width="1.1"/>
<text x="255.9" y="527.6" text-anchor="middle" font-size="7.9" fill="#1c1c1c" transform="translate(255.9 0) scale(0.93 1) translate(-255.9 0)">48</text>
<path d="M304.8 514.4V517.6" stroke="#222" stroke-width="1.1"/>
<text x="304.8" y="527.6" text-anchor="middle" font-size="7.9" fill="#1c1c1c" transform="translate(304.8 0) scale(0.93 1) translate(-304.8 0)">60</text>
<path d="M157.9 341.7V514.4" stroke="#333" stroke-width="1.6"/>
<polyline points="60.2,349.5 64.9,349.5 64.9,350.4 69.3,350.4 69.3,352.0 72.2,352.0 72.2,353.8 74.5,353.8 74.5,355.0 77.5,355.0 77.5,356.6 80.0,356.6 80.0,358.5 81.5,358.5 81.5,360.5 82.5,360.5 82.5,362.5 83.5,362.5 83.5,364.5 85.5,364.5 85.5,365.6 90.3,365.6 90.3,366.4 91.9,366.4 91.9,380.4 95.4,380.4 95.4,382.0 98.4,382.0 98.4,391.6 115.0,391.6 115.0,400.2 125.5,400.2 125.5,413.8 134.0,413.8 134.0,417.8 140.7,417.8 140.7,420.3 147.6,420.3 147.6,422.5 151.0,422.5 151.0,425.5 154.0,425.5 154.0,427.7 155.5,427.7 155.5,431.3 158.0,431.3" fill="none" stroke="#bc4862" stroke-width="1.1" stroke-dasharray="8 3"/>
<polyline points="159.8,431.3 320.7,431.3" fill="none" stroke="#9e3850" stroke-width="1.4" stroke-dasharray="8.6 3"/>
<polyline points="60.2,349.5 64.9,349.5 64.9,350.4 73.4,350.4 73.4,351.8 75.2,351.8 75.2,353.2 77.4,353.2 77.4,354.5 80.0,354.5 80.0,356.0 82.8,356.0 82.8,357.2 85.0,357.2 85.0,358.6 87.6,358.6 87.6,360.1 90.0,360.1 90.0,361.2 92.0,361.2 92.0,362.3 94.0,362.3 94.0,363.3 106.8,363.3 106.8,364.7 133.0,364.7 133.0,365.6 135.0,365.6 135.0,367.0 137.0,367.0 137.0,368.3 139.0,368.3 139.0,369.6 143.8,369.6 143.8,371.0 324.2,371.0" fill="none" stroke="#44729a" stroke-width="1.8"/>
<path d="M160.0 368.4V373.5" stroke="#23476e" stroke-width="1.2"/>
<path d="M161.2 368.4V373.5" stroke="#23476e" stroke-width="1.2"/>
<path d="M166.4 368.4V373.5" stroke="#23476e" stroke-width="1.2"/>
<path d="M188.1 368.4V373.5" stroke="#23476e" stroke-width="1.2"/>
<path d="M194.1 368.4V373.5" stroke="#23476e" stroke-width="1.2"/>
<path d="M199.3 368.4V373.5" stroke="#23476e" stroke-width="1.2"/>
<path d="M202.8 368.4V373.5" stroke="#23476e" stroke-width="1.2"/>
<path d="M214.9 368.4V373.5" stroke="#23476e" stroke-width="1.2"/>
<path d="M219.2 368.4V373.5" stroke="#23476e" stroke-width="1.2"/>
<path d="M221.3 368.4V373.5" stroke="#23476e" stroke-width="1.2"/>
<path d="M228.7 368.4V373.5" stroke="#23476e" stroke-width="1.2"/>
<path d="M230.4 368.4V373.5" stroke="#23476e" stroke-width="1.2"/>
<path d="M238.6 368.4V373.5" stroke="#23476e" stroke-width="1.2"/>
<path d="M243.2 368.4V373.5" stroke="#23476e" stroke-width="1.2"/>
<path d="M256.0 368.4V373.5" stroke="#23476e" stroke-width="1.2"/>
<path d="M276.1 368.4V373.5" stroke="#23476e" stroke-width="1.2"/>
<path d="M279.8 368.4V373.5" stroke="#23476e" stroke-width="1.2"/>
<path d="M282.9 368.4V373.5" stroke="#23476e" stroke-width="1.2"/>
<path d="M289.8 368.4V373.5" stroke="#23476e" stroke-width="1.2"/>
<path d="M298.6 368.4V373.5" stroke="#23476e" stroke-width="1.2"/>
<path d="M312.7 368.4V373.5" stroke="#23476e" stroke-width="1.2"/>
<path d="M322.8 368.4V373.5" stroke="#23476e" stroke-width="1.2"/>
<path d="M181.1 428.8V434" stroke="#8a2a40" stroke-width="1.1"/>
<path d="M212.3 428.8V434" stroke="#8a2a40" stroke-width="1.1"/>
<path d="M294.0 428.8V434" stroke="#8a2a40" stroke-width="1.1"/>
<path d="M309.2 428.8V434" stroke="#8a2a40" stroke-width="1.1"/>
<path d="M316.1 428.8V434" stroke="#8a2a40" stroke-width="1.1"/>
<text x="331" y="419" font-size="7.2" fill="#1c1c1c">Cross-validated FL24Cx</text>
<path d="M330.5 428.2H336M333.2 425.5V431" stroke="#c43a55" stroke-width="1"/>
<text x="339.4" y="430.8" font-size="7.2" fill="#1c1c1c">FL24Cx.Call = High Risk</text>
<path d="M330.5 439.8H336M333.2 437.1V442.5" stroke="#3a6a9c" stroke-width="1"/>
<text x="339.4" y="442.4" font-size="7.2" fill="#1c1c1c">FL24Cx.Call = Low Risk</text>
<text x="93.65" y="462.8" text-anchor="middle" font-size="7.5" fill="#1c1c1c">Log-rank</text>
<text x="93.3" y="471.5" text-anchor="middle" font-size="7.7" fill="#1c1c1c"><tspan font-style="italic">P</tspan> &lt; .0001</text>
<text transform="translate(14.9 427.7) rotate(-90) scale(0.72 1)" text-anchor="middle" font-size="8.6" font-weight="bold" fill="#1c1c1c">EFS</text>
<text transform="translate(185.9 541) scale(0.705 1)" text-anchor="middle" font-size="8.9" font-weight="bold" fill="#1c1c1c">Time from treatment initiation (months)</text>
</svg>
</body></html>
